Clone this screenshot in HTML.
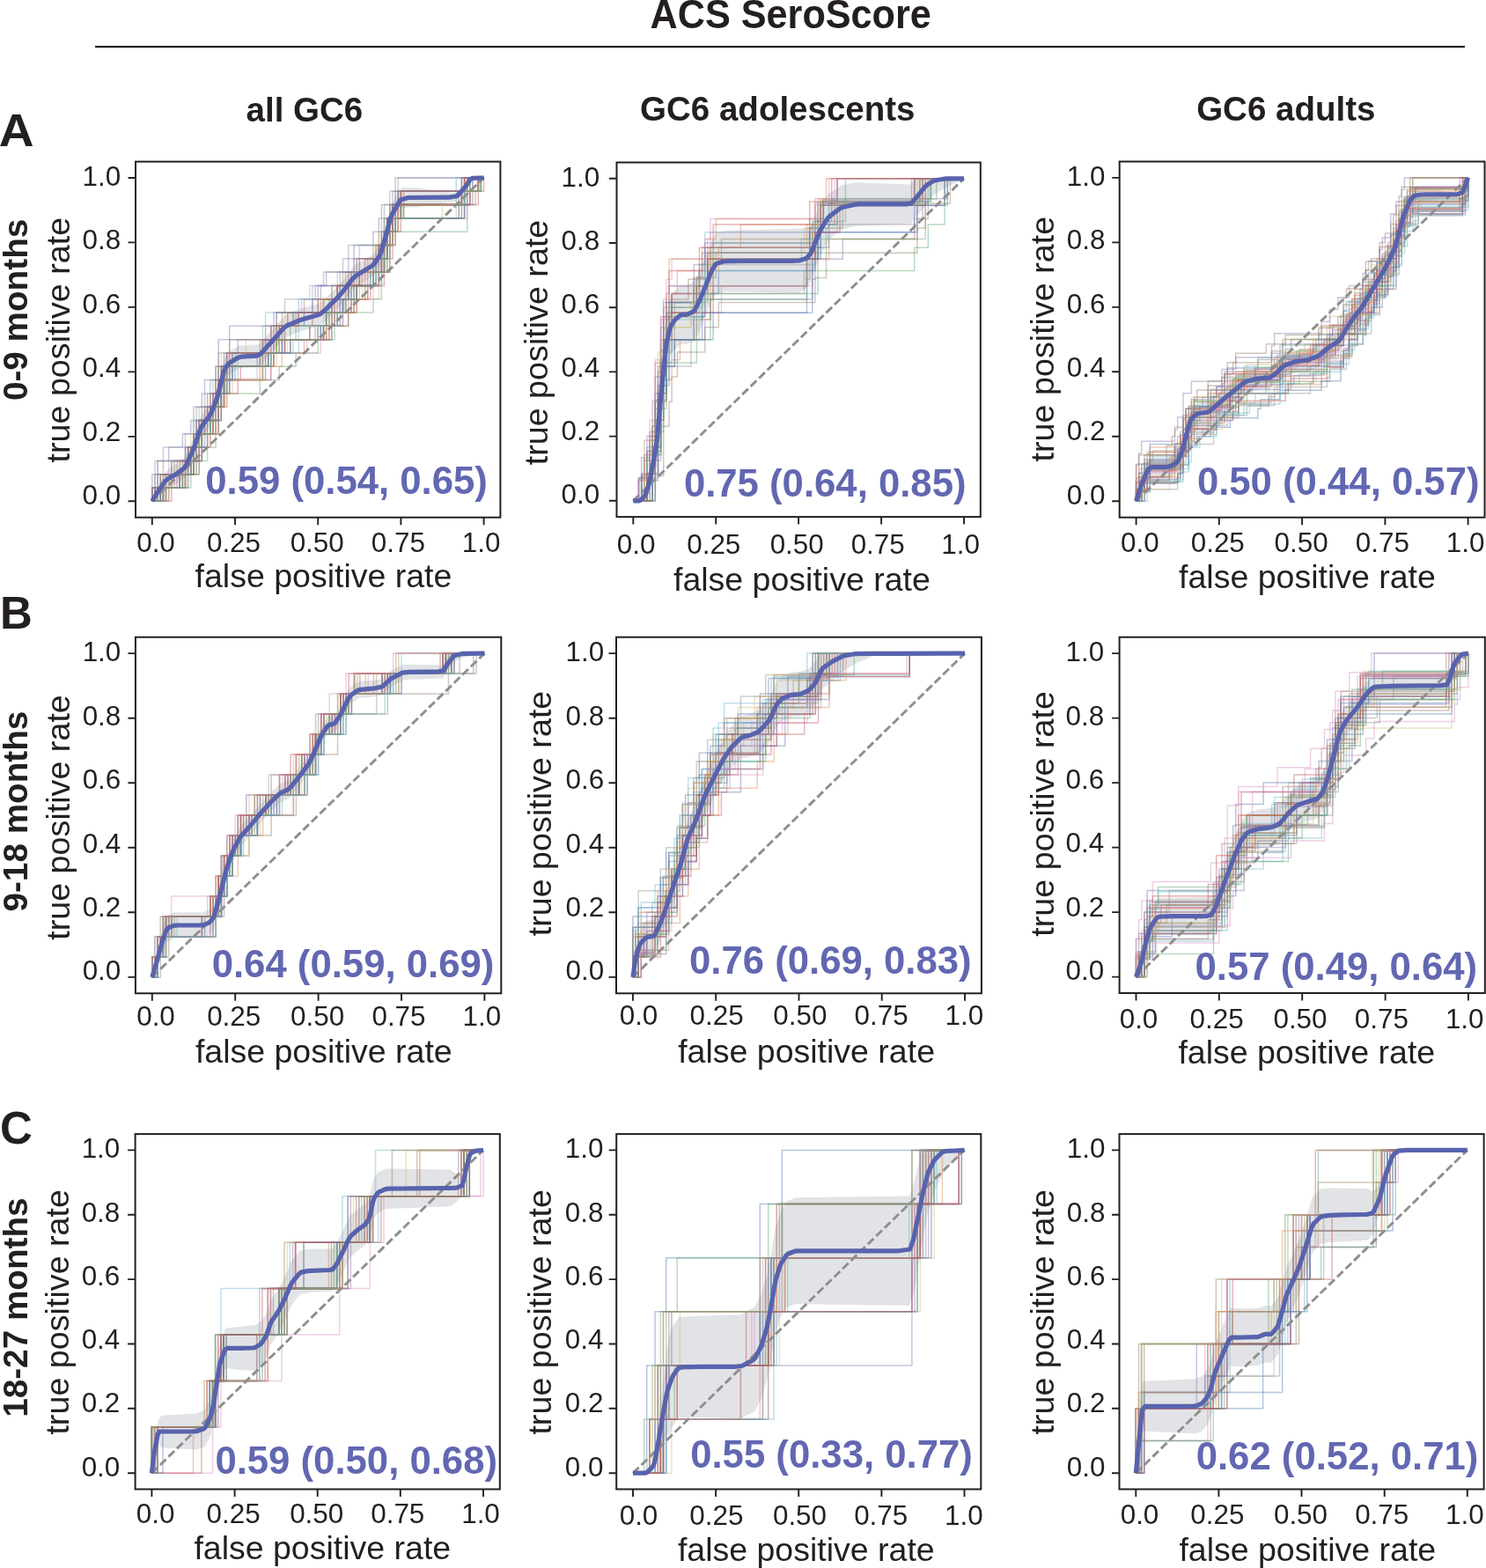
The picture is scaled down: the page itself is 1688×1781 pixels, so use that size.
<!DOCTYPE html><html><head><meta charset="utf-8"><style>html,body{margin:0;padding:0;background:#fff;}svg{display:block;}text{font-family:"Liberation Sans",Arial,sans-serif;fill:#231f20;}</style></head><body>
<svg width="1688" height="1781" viewBox="0 0 1688 1781">
<rect width="1688" height="1781" fill="#fff"/>
<text transform="translate(738.6 32) scale(1 1.055)" font-size="43.2" font-weight="bold">ACS SeroScore</text>
<line x1="108" y1="53.1" x2="1664" y2="53.1" stroke="#231f20" stroke-width="2.1"/>
<text x="345.9" y="137.8" font-size="38.5" font-weight="bold" text-anchor="middle">all GC6</text>
<text x="883.3" y="137.2" font-size="38.5" font-weight="bold" text-anchor="middle">GC6 adolescents</text>
<text x="1460.8" y="136.9" font-size="38.5" font-weight="bold" text-anchor="middle">GC6 adults</text>
<text transform="translate(-1.2 165.7) scale(1.08 1.02)" font-size="51" font-weight="bold">A</text>
<text x="0" y="713.8" font-size="51" font-weight="bold">B</text>
<text x="0" y="1298.8" font-size="51" font-weight="bold">C</text>
<text transform="translate(30.8 351.9) rotate(-90)" font-size="38.7" font-weight="bold" text-anchor="middle">0-9 months</text>
<text transform="translate(30.8 921.6) rotate(-90)" font-size="38.7" font-weight="bold" text-anchor="middle">9-18 months</text>
<text transform="translate(30.8 1485.1) rotate(-90)" font-size="38.7" font-weight="bold" text-anchor="middle">18-27 months</text>
<clipPath id="c0"><rect x="154" y="183.6" width="414.4" height="404.1"/></clipPath>
<g clip-path="url(#c0)">
<polygon fill="#e2e3e6" points="172.8,565.6 173.8,563.6 174.7,561.7 175.7,559.8 176.6,557.8 177.5,555.9 178.5,553.9 178.6,553.7 179.4,552.2 180.4,550.5 181.3,548.7 182.3,547 183.2,545.3 184.1,543.5 185.1,541.8 186,540.1 187,538.3 187.9,536.6 188.4,535.7 188.8,535.2 189.8,534.3 190.7,533.4 191.7,532.4 192.6,531.8 193.6,531.2 194.5,530.6 195.4,530 196.4,529.5 197.3,528.9 198.3,528.3 199.2,527.7 200.1,527.1 200.7,526.7 201.1,526.4 202,525.7 203,524.9 203.9,524.2 204.9,523.5 205.8,522.7 206.7,522 207.7,521.3 208.6,520.5 209.6,519.8 210.5,519 210.5,519 211.5,517 212.4,514.8 213.3,512.7 214.3,510.5 215.2,508.4 216.2,506.2 217.1,504.1 218,501.9 219,499.8 219.9,497.6 220.4,496.6 220.9,495.1 221.8,492.2 222.8,489.4 223.7,486.5 224.6,483.7 225.6,480.8 226.5,478 227.5,475.1 227.8,474.2 228.4,473.3 229.3,471.9 230.3,470.6 231.2,469.2 232.2,467.9 233.1,466.5 234.1,465.2 235,463.8 235.9,462.5 236.9,461.1 237.8,459.8 238.8,458.4 239.7,457.1 240,456.6 240.6,455 241.6,452.4 242.5,449.9 243.5,447.4 244.4,444.8 245.4,442.3 246.3,439.7 247.2,437.2 247.4,436.7 248.2,433.6 249.1,429.9 250.1,426.1 251,422.3 251.9,418.6 252.9,414.8 253.8,411 254.8,407.3 254.8,407.2 255.7,405.8 256.7,404.4 257.6,403 258.5,401.5 259.5,400.1 259.7,399.8 260.4,399.4 261.4,398.8 262.3,398.2 263.3,397.7 264.2,397.1 265.1,396.5 266.1,396 267,395.4 268,394.8 268.9,394.3 269.8,393.7 270.8,393.1 271.7,392.6 272,392.4 272.7,392.4 273.6,392.3 274.6,392.3 275.5,392.2 276.4,392.2 277.4,392.1 278.3,392.1 279.3,392 280.2,392 281.1,391.9 282.1,391.9 283,391.8 284,391.7 284.9,391.7 285.9,391.6 286.8,391.6 287.7,391.5 288.7,391.5 289.6,391.4 290.6,391.4 291.5,391.3 292.4,391.3 293.4,391.2 294.1,391.2 294.3,391 295.3,389.9 296.2,388.9 297.2,387.9 298.1,386.8 299,385.8 300,384.8 300.9,383.7 301.9,382.7 302.8,381.6 303.7,380.6 304.7,379.6 305.6,378.5 306.4,377.7 306.6,377.5 307.5,376.4 308.5,375.3 309.4,374.3 310.3,373.2 311.3,372.1 312.2,371 313.2,370 314.1,368.9 315.1,367.8 316,366.7 316.9,365.7 317.9,364.6 318.8,363.5 319.8,362.4 320.7,361.3 321.6,360.3 322.6,359.2 323.5,358.1 323.6,358 324.5,357.6 325.4,357.2 326.4,356.8 327.3,356.4 328.2,356 329.2,355.6 330.1,355.2 331.1,354.8 332,354.4 332.9,354 333.9,353.6 334.8,353.2 335.8,352.8 336.7,352.4 337.7,352 338.6,351.6 339.5,351.2 340.5,350.8 340.8,350.6 341.4,350.5 342.4,350.2 343.3,349.9 344.2,349.7 345.2,349.4 346.1,349.1 347.1,348.9 348,348.6 349,348.4 349.9,348.1 350.8,347.8 351.8,347.6 352.7,347.3 353.7,347.1 354.6,346.8 355.5,346.5 356.5,346.3 357.4,346 358.4,345.7 359.3,345.5 360.3,345.2 361.2,345 362.1,344.7 363,344.5 363.1,344.4 364,343.6 365,342.8 365.9,342 366.9,341.2 367.8,340.5 368.7,339.7 369.7,338.9 370.4,338.3 370.6,338.1 371.6,337.1 372.5,336.2 373.4,335.2 374.4,334.3 375.3,333.3 376.3,332.4 377.2,331.5 378.2,330.5 379.1,329.6 380,328.6 381,327.7 381.9,326.8 382.9,325.8 383.8,324.9 384.7,323.9 385.1,323.6 385.7,322.8 386.6,321.6 387.6,320.4 388.5,319.2 389.5,318 390.4,316.8 391.3,315.6 392.3,314.3 393.2,313.1 394.2,311.9 395.1,310.7 396,309.5 397,308.3 397.9,307.1 398.9,305.9 399.8,304.7 400.8,303.5 401.7,302.3 402.3,301.5 402.6,301.3 403.6,300.8 404.5,300.2 405.5,299.7 406.4,299.1 407.3,298.6 408.3,298 409.2,297.5 410.2,296.9 411.1,296.4 412.1,295.8 413,295.3 413.9,294.7 414.9,294.2 415.8,293.6 416.8,293 417.7,292.5 418.7,291.9 419.6,291.4 420.5,290.8 421.5,290.3 422.4,289.7 423.4,289.2 424.3,288.6 424.4,288.5 425.2,287.4 426.2,286 427.1,284.6 428.1,283.2 429,281.8 430,280.4 430.9,279 431.8,277.7 431.8,277.6 432.8,274.5 433.7,271.4 434.7,268.2 435.6,265.1 436.5,262 437.5,258.9 438.4,255.8 439.2,253.3 439.4,252.5 440.3,248.8 441.3,245 442.2,241.3 443.1,237.6 444.1,233.8 444.1,233.7 445,232.2 446,230.6 446.9,229 447.8,227.4 448.8,225.9 449.7,224.3 450.7,222.7 451.6,221.1 452.6,219.5 453.5,218 454.4,216.4 455.4,214.8 456.3,213.2 456.4,213.1 457.3,213.1 458.2,213.1 459.1,213.2 460.1,213.2 461,213.2 462,213.2 462.9,213.2 463.9,213.2 464.8,213.2 465.7,213.3 466.7,213.3 467.6,213.3 468.6,213.3 469.5,213.3 470.5,213.3 471.4,213.4 472.3,213.4 473.3,213.4 474.2,213.4 475.2,213.5 476.1,213.7 477,213.8 478,213.9 478.9,214.1 479.9,214.2 480.8,214.3 481.8,214.4 482.7,214.6 483.6,214.7 484.6,214.8 485.5,215 486.5,215.1 487.4,215.2 488.3,215.4 489.3,215.5 490.2,215.6 491.2,215.7 492.1,215.9 493.1,216 494,216.1 494.9,216.3 495.9,216.4 496.8,216.5 497.8,216.7 498.7,216.8 499.6,216.9 500.6,217 501.5,217.2 502.5,217.3 503.4,217.4 504.4,217.6 505.3,217.7 506.2,217.8 507.2,218 508.1,218.1 509.1,218.2 510,218.4 510.9,218.5 511.9,218.6 512.8,218.7 513.8,218.9 514.7,219 515.7,219.1 516.6,219.3 517.5,219.4 517.9,219.4 518.5,218.9 519.4,218 520.4,217.1 521.3,216.2 522.3,215.4 523.2,214.5 524.1,213.6 525.1,212.7 526,211.9 527,211 527.7,210.3 527.9,210 528.8,208.8 529.8,207.5 530.7,206.2 531.7,204.9 532.6,203.7 533.6,202.4 534.5,202 535.1,202 535.4,202 536.4,202 537.3,202 538.3,202 539.2,202 540.1,202 541.1,202 542,202 543,202 543.9,202 544.9,202 545.8,202 546.7,202 547.7,202 548.6,202 549.6,202 549.6,202 548.6,202.1 547.7,202.3 546.7,202.5 545.8,202.6 544.9,202.8 543.9,203 543,203.1 542,203.3 541.1,203.5 540.1,203.7 539.2,203.8 538.3,204 537.3,204.2 536.4,204.3 535.4,204.5 535.1,204.6 534.5,205.5 533.6,207.1 532.6,208.6 531.7,210.2 530.7,211.7 529.8,213.3 528.8,214.8 527.9,216.4 527.7,216.7 527,217.6 526,218.8 525.1,219.9 524.1,221.1 523.2,222.2 522.3,223.4 521.3,224.5 520.4,225.7 519.4,226.8 518.5,228 517.9,228.7 517.5,228.8 516.6,228.9 515.7,229.1 514.7,229.2 513.8,229.3 512.8,229.5 511.9,229.6 510.9,229.8 510,229.9 509.1,230.1 508.1,230.2 507.2,230.4 506.2,230.5 505.3,230.6 504.4,230.8 503.4,230.9 502.5,231.1 501.5,231.2 500.6,231.4 499.6,231.5 498.7,231.7 497.8,231.8 496.8,232 495.9,232.1 494.9,232.2 494,232.4 493.1,232.5 492.1,232.7 491.2,232.8 490.2,233 489.3,233.1 488.3,233.3 487.4,233.4 486.5,233.6 485.5,233.7 484.6,233.8 483.6,234 482.7,234.1 481.8,234.3 480.8,234.4 479.9,234.6 478.9,234.7 478,234.9 477,235 476.1,235.2 475.2,235.3 474.2,235.4 473.3,235.5 472.3,235.5 471.4,235.5 470.5,235.6 469.5,235.6 468.6,235.6 467.6,235.7 466.7,235.7 465.7,235.7 464.8,235.7 463.9,235.8 462.9,235.8 462,235.8 461,235.9 460.1,235.9 459.1,235.9 458.2,236 457.3,236 456.4,236 456.3,236.2 455.4,237.8 454.4,239.4 453.5,241 452.6,242.6 451.6,244.3 450.7,245.9 449.7,247.5 448.8,249.1 447.8,250.8 446.9,252.4 446,254 445,255.6 444.1,257.2 444.1,257.3 443.1,261.1 442.2,264.9 441.3,268.7 440.3,272.5 439.4,276.3 439.2,277 438.4,279.6 437.5,282.7 436.5,285.9 435.6,289 434.7,292.2 433.7,295.4 432.8,298.5 431.8,301.7 431.8,301.8 430.9,303.2 430,304.6 429,306 428.1,307.5 427.1,308.9 426.2,310.4 425.2,311.8 424.4,313 424.3,313.1 423.4,313.7 422.4,314.3 421.5,314.9 420.5,315.5 419.6,316.1 418.7,316.7 417.7,317.3 416.8,317.9 415.8,318.5 414.9,319.1 413.9,319.7 413,320.3 412.1,320.9 411.1,321.5 410.2,322.1 409.2,322.7 408.3,323.3 407.3,323.9 406.4,324.5 405.5,325.1 404.5,325.7 403.6,326.3 402.6,326.9 402.3,327.1 401.7,327.9 400.8,329.1 399.8,330.3 398.9,331.6 397.9,332.8 397,334 396,335.2 395.1,336.4 394.2,337.6 393.2,338.8 392.3,340.1 391.3,341.3 390.4,342.5 389.5,343.7 388.5,344.9 387.6,346.1 386.6,347.3 385.7,348.5 385.1,349.3 384.7,349.6 383.8,350.6 382.9,351.5 381.9,352.5 381,353.4 380,354.4 379.1,355.3 378.2,356.2 377.2,357.2 376.3,358.1 375.3,359.1 374.4,360 373.4,360.9 372.5,361.9 371.6,362.8 370.6,363.8 370.4,364 369.7,364.6 368.7,365.4 367.8,366.2 366.9,367 365.9,367.7 365,368.5 364,369.3 363.1,370.1 363,370.2 362.1,370.4 361.2,370.7 360.3,370.9 359.3,371.2 358.4,371.5 357.4,371.7 356.5,372 355.5,372.2 354.6,372.5 353.7,372.8 352.7,373 351.8,373.3 350.8,373.6 349.9,373.8 349,374.1 348,374.3 347.1,374.6 346.1,374.9 345.2,375.1 344.2,375.4 343.3,375.6 342.4,375.9 341.4,376.2 340.8,376.3 340.5,376.5 339.5,376.9 338.6,377.3 337.7,377.7 336.7,378.1 335.8,378.5 334.8,378.9 333.9,379.3 332.9,379.7 332,380.1 331.1,380.5 330.1,380.9 329.2,381.3 328.2,381.7 327.3,382.1 326.4,382.5 325.4,382.9 324.5,383.4 323.6,383.7 323.5,383.8 322.6,384.9 321.6,386 320.7,387.1 319.8,388.1 318.8,389.2 317.9,390.3 316.9,391.4 316,392.4 315.1,393.5 314.1,394.6 313.2,395.7 312.2,396.7 311.3,397.8 310.3,398.9 309.4,400 308.5,401.1 307.5,402.1 306.6,403.2 306.4,403.4 305.6,404.3 304.7,405.3 303.7,406.3 302.8,407.4 301.9,408.4 300.9,409.4 300,410.5 299,411.5 298.1,412.5 297.2,413.6 296.2,414.6 295.3,415.6 294.3,416.7 294.1,416.9 293.4,416.9 292.4,417 291.5,417 290.6,417.1 289.6,417.1 288.7,417.2 287.7,417.3 286.8,417.3 285.9,417.4 284.9,417.4 284,417.5 283,417.5 282.1,417.6 281.1,417.6 280.2,417.7 279.3,417.7 278.3,417.8 277.4,417.8 276.4,417.9 275.5,417.9 274.6,418 273.6,418 272.7,418.1 272,418.1 271.7,418.3 270.8,418.9 269.8,419.4 268.9,420 268,420.6 267,421.1 266.1,421.7 265.1,422.3 264.2,422.8 263.3,423.4 262.3,423.9 261.4,424.5 260.4,425.1 259.7,425.5 259.5,425.9 258.5,427.3 257.6,428.7 256.7,430.1 255.7,431.5 254.8,432.9 254.8,433 253.8,436.7 252.9,440.5 251.9,444.3 251,448 250.1,451.8 249.1,455.6 248.2,459.3 247.4,462.4 247.2,462.8 246.3,465.3 245.4,467.8 244.4,470.3 243.5,472.8 242.5,475.2 241.6,477.7 240.6,480.2 240,481.8 239.7,482.3 238.8,483.5 237.8,484.8 236.9,486.1 235.9,487.4 235,488.7 234.1,490 233.1,491.3 232.2,492.6 231.2,493.8 230.3,495.1 229.3,496.4 228.4,497.7 227.8,498.6 227.5,499.5 226.5,502.3 225.6,505.1 224.6,507.9 223.7,510.6 222.8,513.4 221.8,516.2 220.9,519 220.4,520.5 219.9,521.5 219,523.6 218,525.7 217.1,527.8 216.2,529.8 215.2,531.9 214.3,534 213.3,536.1 212.4,538.2 211.5,540.3 210.5,542.3 210.5,542.3 209.6,543 208.6,543.7 207.7,544.3 206.7,545 205.8,545.7 204.9,546.4 203.9,547 203,547.7 202,548.4 201.1,549.1 200.7,549.3 200.1,549.7 199.2,550.2 198.3,550.7 197.3,551.3 196.4,551.8 195.4,552.3 194.5,552.9 193.6,553.4 192.6,553.9 191.7,554.5 190.7,554.7 189.8,554.9 188.8,555.1 188.4,555.2 187.9,555.7 187,556.7 186,557.7 185.1,558.7 184.1,559.7 183.2,560.7 182.3,561.7 181.3,562.7 180.4,563.7 179.4,564.7 178.6,565.6 178.5,565.7 177.5,566.9 176.6,568.1 175.7,569.3 174.7,569.3 173.8,569.3 172.8,569.3"/>
<path d="M172.8 569.3H188.5V554H210.5V538.7H216.8V523.4H223.1V508.1H229.3V492.8H241.9V477.5H245V462.2H251.3V446.9H260.7V431.6H298.4V416.3H311V401H320.4V385.7H367.5V370.3H389.5V355H398.9V339.7H402V324.4H408.3V309.1H436.5V293.8H442.8V278.5V263.2H446V247.9H521.3V232.6H530.7V217.3H543.3V202H549.6" fill="none" stroke="#4c72b0" stroke-width="1.5" stroke-opacity="0.42"/>
<path d="M172.8 569.3H176V554H191.7V538.7H210.5V523.4H216.8V508.1H223.1V492.8H235.6V477.5V462.2H248.2V446.9V431.6H254.5V416.3H260.7V401H314.1V385.7V370.3H326.7V355H364.3V339.7H383.2V324.4H408.3V309.1V293.8H430.3V278.5H442.8V263.2V247.9H449.1V232.6H455.4V217.3H527.6V202H549.6" fill="none" stroke="#dd8452" stroke-width="1.5" stroke-opacity="0.42"/>
<path d="M172.8 569.3H182.3V554H188.5V538.7H213.6V523.4H219.9V508.1H223.1V492.8H229.3V477.5H241.9V462.2H248.2V446.9H251.3V431.6H254.5V416.3H267V401H314.1V385.7H364.3V370.3H370.6V355H373.8V339.7H383.2V324.4H420.8V309.1H427.1V293.8H433.4V278.5H439.7V263.2H446V247.9H452.2V232.6H524.4V217.3H543.3V202H549.6" fill="none" stroke="#55a868" stroke-width="1.5" stroke-opacity="0.42"/>
<path d="M172.8 569.3H191.7V554H210.5V538.7H226.2V523.4H229.3V508.1H238.8V492.8H248.2V477.5H251.3V462.2H257.6V446.9V431.6H307.8V416.3H311V401V385.7H367.5V370.3H383.2V355H402V339.7H420.8V324.4H436.5V309.1H442.8V293.8H446V278.5H449.1V263.2H455.4V247.9H527.6V232.6H537V217.3H549.6V202H549.6" fill="none" stroke="#c44e52" stroke-width="1.5" stroke-opacity="0.42"/>
<path d="M172.8 569.3V554H182.3V538.7H198V523.4H210.5V508.1H226.2V492.8H229.3V477.5H238.8V462.2V446.9H248.2V431.6V416.3H257.6V401H301.6V385.7H314.1V370.3H332.9V355H376.9V339.7H386.3V324.4H398.9V309.1H424V293.8H430.3V278.5H436.5V263.2H439.7V247.9H446V232.6H452.2V217.3H527.6V202H549.6" fill="none" stroke="#8172b3" stroke-width="1.5" stroke-opacity="0.42"/>
<path d="M172.8 569.3H176V554H179.1V538.7H194.8V523.4H213.6V508.1H226.2V492.8H229.3V477.5H241.9V462.2H245V446.9H251.3V431.6H254.5V416.3H257.6V401H260.7V385.7H301.6V370.3H326.7V355H345.5V339.7H383.2V324.4H398.9V309.1H408.3V293.8H427.1V278.5H433.4V263.2H442.8V247.9H446V232.6H455.4V217.3H527.6V202H549.6" fill="none" stroke="#937860" stroke-width="1.5" stroke-opacity="0.42"/>
<path d="M172.8 569.3H176V554H185.4V538.7H191.7V523.4H213.6V508.1H219.9V492.8H226.2V477.5H235.6V462.2V446.9H251.3V431.6H254.5V416.3V401H301.6V385.7H311V370.3H339.2V355H342.4V339.7H351.8V324.4H395.7V309.1H402V293.8H430.3V278.5H439.7V263.2V247.9H449.1V232.6H452.2V217.3H524.4V202H549.6" fill="none" stroke="#da8bc3" stroke-width="1.5" stroke-opacity="0.42"/>
<path d="M172.8 569.3H182.3V554H204.2V538.7H216.8V523.4H223.1V508.1H229.3V492.8H232.5V477.5H238.8V462.2H251.3V446.9H254.5V431.6H257.6V416.3H270.2V401H301.6V385.7H336.1V370.3H339.2V355H380V339.7H398.9V324.4H417.7V309.1H427.1V293.8H436.5V278.5H439.7V263.2H442.8V247.9H455.4V232.6H530.7V217.3H533.9V202H549.6" fill="none" stroke="#8c8c8c" stroke-width="1.5" stroke-opacity="0.42"/>
<path d="M172.8 569.3H182.3V554H204.2V538.7H216.8V523.4H223.1V508.1H229.3V492.8H238.8V477.5H248.2V462.2H251.3V446.9H254.5V431.6H295.3V416.3H314.1V401V385.7H373.8V370.3H386.3V355H405.2V339.7H430.3V324.4V309.1H439.7V293.8V278.5H442.8V263.2V247.9H458.5V232.6H527.6V217.3H543.3V202H549.6" fill="none" stroke="#ccb974" stroke-width="1.5" stroke-opacity="0.42"/>
<path d="M172.8 569.3H182.3V554H188.5V538.7H213.6V523.4H216.8V508.1H226.2V492.8V477.5H241.9V462.2H248.2V446.9V431.6H254.5V416.3H295.3V401H298.4V385.7H323.5V370.3H345.5V355H386.3V339.7H398.9V324.4H408.3V309.1H427.1V293.8H433.4V278.5H436.5V263.2H439.7V247.9H449.1V232.6H521.3V217.3H530.7V202H549.6" fill="none" stroke="#64b5cd" stroke-width="1.5" stroke-opacity="0.42"/>
<path d="M172.8 569.3H179.1V554H204.2V538.7H216.8V523.4V508.1H226.2V492.8H241.9V477.5V462.2H251.3V446.9H254.5V431.6H257.6V416.3H298.4V401H317.2V385.7H370.6V370.3V355H392.6V339.7H398.9V324.4H424V309.1H436.5V293.8H439.7V278.5V263.2H449.1V247.9H455.4V232.6H527.6V217.3H543.3V202H549.6" fill="none" stroke="#4c72b0" stroke-width="1.5" stroke-opacity="0.42"/>
<path d="M172.8 569.3H185.4V554H191.7V538.7H219.9V523.4H226.2V508.1H229.3V492.8H238.8V477.5H248.2V462.2H251.3V446.9H257.6V431.6H301.6V416.3H311V401H329.8V385.7H376.9V370.3V355H395.7V339.7H414.6V324.4H417.7V309.1H433.4V293.8H439.7V278.5H442.8V263.2H446V247.9H455.4V232.6H524.4V217.3H543.3V202H549.6" fill="none" stroke="#dd8452" stroke-width="1.5" stroke-opacity="0.42"/>
<path d="M172.8 569.3H182.3V554H204.2V538.7H223.1V523.4V508.1H229.3V492.8H238.8V477.5H248.2V462.2H251.3V446.9H257.6V431.6H260.7V416.3H311V401H323.5V385.7H367.5V370.3H370.6V355H389.5V339.7H405.2V324.4H430.3V309.1H433.4V293.8H439.7V278.5H442.8V263.2H452.2V247.9H458.5V232.6H527.6V217.3H546.4V202H549.6" fill="none" stroke="#55a868" stroke-width="1.5" stroke-opacity="0.42"/>
<path d="M172.8 569.3H185.4V554H198V538.7H219.9V523.4H223.1V508.1H226.2V492.8H232.5V477.5V462.2H248.2V446.9H254.5V431.6H257.6V416.3H260.7V401H307.8V385.7H323.5V370.3H354.9V355H383.2V339.7H392.6V324.4H402V309.1H430.3V293.8H436.5V278.5H439.7V263.2H446V247.9H452.2V232.6H458.5V217.3H533.9V202H549.6" fill="none" stroke="#c44e52" stroke-width="1.5" stroke-opacity="0.42"/>
<path d="M172.8 569.3H179.1V554H201.1V538.7H210.5V523.4H223.1V508.1H226.2V492.8H232.5V477.5H238.8V462.2H248.2V446.9H254.5V431.6H263.9V416.3H304.7V401H320.4V385.7H358.1V370.3H386.3V355V339.7H395.7V324.4H433.4V309.1V293.8H436.5V278.5H439.7V263.2H442.8V247.9H449.1V232.6H524.4V217.3H543.3V202H549.6" fill="none" stroke="#8172b3" stroke-width="1.5" stroke-opacity="0.42"/>
<path d="M172.8 569.3V554H179.1V538.7H204.2V523.4H213.6V508.1H219.9V492.8H223.1V477.5H229.3V462.2H241.9V446.9H248.2V431.6H251.3V416.3H295.3V401H298.4V385.7H311V370.3H332.9V355H361.2V339.7H383.2V324.4H392.6V309.1H424V293.8H427.1V278.5H436.5V263.2H439.7V247.9H446V232.6H455.4V217.3H527.6V202H549.6" fill="none" stroke="#937860" stroke-width="1.5" stroke-opacity="0.42"/>
<path d="M172.8 569.3H194.8V554H210.5V538.7H216.8V523.4H219.9V508.1H235.6V492.8V477.5H241.9V462.2H248.2V446.9H254.5V431.6H260.7V416.3H307.8V401H348.6V385.7H373.8V370.3H389.5V355V339.7H395.7V324.4H414.6V309.1H433.4V293.8V278.5H439.7V263.2H446V247.9H452.2V232.6H527.6V217.3H543.3V202H549.6" fill="none" stroke="#da8bc3" stroke-width="1.5" stroke-opacity="0.42"/>
<path d="M172.8 569.3V554H176V538.7V523.4H185.4V508.1H210.5V492.8H219.9V477.5H223.1V462.2H232.5V446.9H238.8V431.6H245V416.3H248.2V401H260.7V385.7H307.8V370.3H314.1V355H323.5V339.7H358.1V324.4H367.5V309.1H389.5V293.8H395.7V278.5H430.3V263.2H433.4V247.9H436.5V232.6H442.8V217.3H452.2V202H549.6" fill="none" stroke="#8c8c8c" stroke-width="1.5" stroke-opacity="0.42"/>
<path d="M172.8 569.3H176V554H185.4V538.7H198V523.4H213.6V508.1H216.8V492.8H223.1V477.5H229.3V462.2H238.8V446.9H245V431.6H248.2V416.3H251.3V401H279.6V385.7H301.6V370.3H323.5V355H367.5V339.7H376.9V324.4H392.6V309.1H420.8V293.8H427.1V278.5H430.3V263.2H436.5V247.9H442.8V232.6H455.4V217.3H524.4V202H549.6" fill="none" stroke="#ccb974" stroke-width="1.5" stroke-opacity="0.42"/>
<path d="M172.8 569.3H188.5V554H207.4V538.7H216.8V523.4H219.9V508.1H226.2V492.8H241.9V477.5H248.2V462.2H254.5V446.9V431.6H301.6V416.3H311V401H332.9V385.7H364.3V370.3H376.9V355H392.6V339.7H395.7V324.4H430.3V309.1V293.8H439.7V278.5H446V263.2V247.9H455.4V232.6H530.7V217.3H543.3V202H549.6" fill="none" stroke="#64b5cd" stroke-width="1.5" stroke-opacity="0.42"/>
<path d="M172.8 569.3H179.1V554H204.2V538.7H213.6V523.4H219.9V508.1H223.1V492.8H238.8V477.5V462.2H251.3V446.9V431.6H267V416.3H301.6V401H311V385.7H364.3V370.3H376.9V355H389.5V339.7H395.7V324.4H427.1V309.1H430.3V293.8H436.5V278.5V263.2H449.1V247.9H452.2V232.6H524.4V217.3H537V202H549.6" fill="none" stroke="#4c72b0" stroke-width="1.5" stroke-opacity="0.42"/>
<path d="M172.8 569.3H185.4V554H204.2V538.7H219.9V523.4V508.1H229.3V492.8V477.5H248.2V462.2H251.3V446.9V431.6H257.6V416.3H311V401H317.2V385.7V370.3H373.8V355H380V339.7H392.6V324.4H430.3V309.1H433.4V293.8H439.7V278.5H442.8V263.2H446V247.9H455.4V232.6H524.4V217.3H527.6V202H549.6" fill="none" stroke="#dd8452" stroke-width="1.5" stroke-opacity="0.42"/>
<path d="M172.8 569.3H188.5V554H216.8V538.7H226.2V523.4H235.6V508.1H245V492.8H248.2V477.5H251.3V462.2H254.5V446.9H295.3V431.6H317.2V416.3H336.1V401H361.2V385.7H380V370.3H395.7V355H424V339.7H433.4V324.4V309.1H442.8V293.8V278.5H449.1V263.2H530.7V247.9V232.6H540.1V217.3H543.3V202H549.6" fill="none" stroke="#55a868" stroke-width="1.5" stroke-opacity="0.42"/>
<path d="M172.8 569.3H185.4V554H213.6V538.7H216.8V523.4H229.3V508.1V492.8H241.9V477.5H251.3V462.2V446.9H270.2V431.6H298.4V416.3H311V401H323.5V385.7H367.5V370.3H395.7V355H402V339.7H417.7V324.4H424V309.1H439.7V293.8V278.5H442.8V263.2H452.2V247.9H524.4V232.6H543.3V217.3V202H549.6" fill="none" stroke="#c44e52" stroke-width="1.5" stroke-opacity="0.42"/>
<path d="M172.8 569.3H176V554H194.8V538.7H210.5V523.4H219.9V508.1V492.8H223.1V477.5H238.8V462.2H241.9V446.9H248.2V431.6H251.3V416.3H292.1V401H304.7V385.7H320.4V370.3H345.5V355H386.3V339.7V324.4H402V309.1H427.1V293.8H430.3V278.5H436.5V263.2H439.7V247.9H446V232.6H524.4V217.3H530.7V202H549.6" fill="none" stroke="#8172b3" stroke-width="1.5" stroke-opacity="0.42"/>
<path d="M172.8 569.3H176V554H182.3V538.7H185.4V523.4H213.6V508.1H219.9V492.8H229.3V477.5H238.8V462.2H241.9V446.9H245V431.6H251.3V416.3H295.3V401H301.6V385.7H314.1V370.3H336.1V355H376.9V339.7H395.7V324.4V309.1H417.7V293.8H430.3V278.5H436.5V263.2V247.9H446V232.6H452.2V217.3H524.4V202H549.6" fill="none" stroke="#937860" stroke-width="1.5" stroke-opacity="0.42"/>
<path d="M172.8 569.3H188.5V554H201.1V538.7H216.8V523.4H223.1V508.1H235.6V492.8H241.9V477.5H248.2V462.2V446.9H260.7V431.6H307.8V416.3H311V401H364.3V385.7H370.6V370.3H383.2V355H395.7V339.7H424V324.4V309.1H430.3V293.8H439.7V278.5H442.8V263.2H452.2V247.9H530.7V232.6V217.3H543.3V202H549.6" fill="none" stroke="#da8bc3" stroke-width="1.5" stroke-opacity="0.42"/>
<path d="M172.8 569.3H185.4V554H188.5V538.7H223.1V523.4H226.2V508.1H235.6V492.8H248.2V477.5V462.2H254.5V446.9H257.6V431.6H263.9V416.3H304.7V401H329.8V385.7H361.2V370.3H380V355H392.6V339.7H417.7V324.4H430.3V309.1H436.5V293.8H442.8V278.5H446V263.2V247.9H527.6V232.6H533.9V217.3H537V202H549.6" fill="none" stroke="#8c8c8c" stroke-width="1.5" stroke-opacity="0.42"/>
<path d="M172.8 569.3H185.4V554H207.4V538.7H216.8V523.4H229.3V508.1V492.8H245V477.5H248.2V462.2H257.6V446.9V431.6H298.4V416.3V401H326.7V385.7H370.6V370.3H383.2V355H402V339.7H411.4V324.4H424V309.1H439.7V293.8H442.8V278.5H446V263.2H449.1V247.9H452.2V232.6H533.9V217.3H546.4V202H549.6" fill="none" stroke="#ccb974" stroke-width="1.5" stroke-opacity="0.42"/>
<path d="M172.8 569.3V554H179.1V538.7V523.4H210.5V508.1H219.9V492.8V477.5H226.2V462.2H235.6V446.9H241.9V431.6H248.2V416.3H254.5V401H298.4V385.7V370.3H301.6V355H339.2V339.7H354.9V324.4H383.2V309.1H405.2V293.8H408.3V278.5H433.4V263.2H436.5V247.9H442.8V232.6H449.1V217.3H518.2V202H549.6" fill="none" stroke="#64b5cd" stroke-width="1.5" stroke-opacity="0.42"/>
<path d="M172.8 569.3H185.4V554H207.4V538.7H216.8V523.4H223.1V508.1H226.2V492.8H235.6V477.5V462.2H251.3V446.9H254.5V431.6H260.7V416.3H307.8V401H320.4V385.7H351.8V370.3H370.6V355H376.9V339.7H395.7V324.4H420.8V309.1H424V293.8H436.5V278.5H442.8V263.2H446V247.9H455.4V232.6H524.4V217.3H543.3V202H549.6" fill="none" stroke="#4c72b0" stroke-width="1.5" stroke-opacity="0.42"/>
<path d="M172.8 569.3H191.7V554H207.4V538.7H219.9V523.4H226.2V508.1H238.8V492.8H245V477.5H248.2V462.2H254.5V446.9H257.6V431.6V416.3H320.4V401H345.5V385.7H373.8V370.3H376.9V355H398.9V339.7H414.6V324.4H430.3V309.1H436.5V293.8H442.8V278.5H446V263.2H452.2V247.9H455.4V232.6H527.6V217.3H543.3V202H549.6" fill="none" stroke="#dd8452" stroke-width="1.5" stroke-opacity="0.42"/>
<path d="M172.8 569.3H185.4V554H207.4V538.7H213.6V523.4H219.9V508.1H226.2V492.8H238.8V477.5H245V462.2H248.2V446.9V431.6H257.6V416.3H301.6V401H317.2V385.7H329.8V370.3H383.2V355H389.5V339.7H405.2V324.4H424V309.1H433.4V293.8V278.5H439.7V263.2H446V247.9H455.4V232.6H518.2V217.3H533.9V202H549.6" fill="none" stroke="#55a868" stroke-width="1.5" stroke-opacity="0.42"/>
<path d="M172.8 569.3H182.3V554H210.5V538.7H216.8V523.4H229.3V508.1V492.8H245V477.5V462.2H254.5V446.9V431.6H273.3V416.3H304.7V401H323.5V385.7H351.8V370.3H373.8V355H405.2V339.7V324.4H408.3V309.1H436.5V293.8V278.5H446V263.2V247.9H458.5V232.6H533.9V217.3H546.4V202H549.6" fill="none" stroke="#c44e52" stroke-width="1.5" stroke-opacity="0.42"/>
<path d="M172.8 569.3V554V538.7H179.1V523.4H191.7V508.1H207.4V492.8H216.8V477.5H219.9V462.2H229.3V446.9H232.5V431.6H245V416.3H248.2V401V385.7H260.7V370.3H314.1V355H354.9V339.7H364.3V324.4H370.6V309.1H395.7V293.8H402V278.5H424V263.2H430.3V247.9H433.4V232.6H446V217.3H449.1V202H549.6" fill="none" stroke="#8172b3" stroke-width="1.5" stroke-opacity="0.42"/>
<path d="M172.8 569.3H176V554H182.3V538.7H201.1V523.4H216.8V508.1H219.9V492.8H226.2V477.5H235.6V462.2H245V446.9H248.2V431.6V416.3H263.9V401H295.3V385.7H307.8V370.3H320.4V355H361.2V339.7H376.9V324.4H386.3V309.1H402V293.8H424V278.5H436.5V263.2H439.7V247.9H446V232.6H449.1V217.3H530.7V202H549.6" fill="none" stroke="#937860" stroke-width="1.5" stroke-opacity="0.42"/>
<path d="M172.8 569.3H194.8V554H204.2V538.7H210.5V523.4H219.9V508.1H223.1V492.8H232.5V477.5H245V462.2V446.9H251.3V431.6H292.1V416.3H298.4V401H323.5V385.7H361.2V370.3H367.5V355H386.3V339.7H398.9V324.4H430.3V309.1H433.4V293.8V278.5H439.7V263.2H449.1V247.9H518.2V232.6H527.6V217.3H530.7V202H549.6" fill="none" stroke="#da8bc3" stroke-width="1.5" stroke-opacity="0.42"/>
<path d="M172.8 569.3H185.4V554H194.8V538.7H213.6V523.4H216.8V508.1H226.2V492.8H232.5V477.5H245V462.2H248.2V446.9H254.5V431.6H270.2V416.3H298.4V401H307.8V385.7H317.2V370.3H373.8V355H389.5V339.7H405.2V324.4V309.1H433.4V293.8H436.5V278.5H439.7V263.2H442.8V247.9H449.1V232.6H521.3V217.3H543.3V202H549.6" fill="none" stroke="#8c8c8c" stroke-width="1.5" stroke-opacity="0.42"/>
<path d="M172.8 569.3H179.1V554H210.5V538.7H213.6V523.4H223.1V508.1H226.2V492.8H241.9V477.5H245V462.2H251.3V446.9H263.9V431.6H295.3V416.3H311V401H317.2V385.7H320.4V370.3H373.8V355H392.6V339.7H398.9V324.4H402V309.1H430.3V293.8H436.5V278.5H439.7V263.2H442.8V247.9H502.5V232.6H527.6V217.3H543.3V202H549.6" fill="none" stroke="#ccb974" stroke-width="1.5" stroke-opacity="0.42"/>
<path d="M172.8 569.3H185.4V554H213.6V538.7H216.8V523.4H229.3V508.1H235.6V492.8H238.8V477.5H251.3V462.2V446.9H257.6V431.6H263.9V416.3H307.8V401H339.2V385.7V370.3H383.2V355H398.9V339.7H408.3V324.4H427.1V309.1H436.5V293.8H442.8V278.5V263.2H449.1V247.9H524.4V232.6H527.6V217.3H546.4V202H549.6" fill="none" stroke="#64b5cd" stroke-width="1.5" stroke-opacity="0.42"/>
<path d="M172.8 569.3H182.3V554H204.2V538.7H219.9V523.4H226.2V508.1H232.5V492.8H241.9V477.5H248.2V462.2H251.3V446.9H260.7V431.6H263.9V416.3H304.7V401H329.8V385.7H376.9V370.3H380V355H389.5V339.7H405.2V324.4H424V309.1H433.4V293.8H439.7V278.5V263.2H449.1V247.9H527.6V232.6H533.9V217.3H543.3V202H549.6" fill="none" stroke="#4c72b0" stroke-width="1.5" stroke-opacity="0.42"/>
<path d="M172.8 569.3H185.4V554H204.2V538.7H213.6V523.4H219.9V508.1H229.3V492.8H241.9V477.5V462.2H248.2V446.9H251.3V431.6H260.7V416.3H301.6V401H314.1V385.7H370.6V370.3H380V355H398.9V339.7H402V324.4H414.6V309.1H433.4V293.8V278.5H442.8V263.2H446V247.9H452.2V232.6H524.4V217.3H543.3V202H549.6" fill="none" stroke="#dd8452" stroke-width="1.5" stroke-opacity="0.42"/>
<path d="M172.8 569.3H188.5V554H210.5V538.7H219.9V523.4V508.1H229.3V492.8H238.8V477.5H241.9V462.2H248.2V446.9H254.5V431.6V416.3H307.8V401H314.1V385.7H361.2V370.3H370.6V355H392.6V339.7H402V324.4H427.1V309.1H436.5V293.8H439.7V278.5H442.8V263.2H449.1V247.9H521.3V232.6H527.6V217.3H546.4V202H549.6" fill="none" stroke="#55a868" stroke-width="1.5" stroke-opacity="0.42"/>
<path d="M172.8 569.3V554H185.4V538.7H207.4V523.4H213.6V508.1H223.1V492.8H226.2V477.5H238.8V462.2V446.9H245V431.6H251.3V416.3H257.6V401H298.4V385.7H317.2V370.3H339.2V355H367.5V339.7H383.2V324.4H411.4V309.1H414.6V293.8H430.3V278.5H433.4V263.2H439.7V247.9H442.8V232.6H455.4V217.3H527.6V202H549.6" fill="none" stroke="#c44e52" stroke-width="1.5" stroke-opacity="0.42"/>
<path d="M172.8 569.3H176V554V538.7H194.8V523.4H210.5V508.1H223.1V492.8V477.5H232.5V462.2H241.9V446.9H248.2V431.6H254.5V416.3H263.9V401H270.2V385.7H307.8V370.3H311V355H354.9V339.7H361.2V324.4H389.5V309.1H405.2V293.8H433.4V278.5H436.5V263.2H439.7V247.9H446V232.6H452.2V217.3H524.4V202H549.6" fill="none" stroke="#8172b3" stroke-width="1.5" stroke-opacity="0.42"/>
<line x1="172.8" y1="569.3" x2="549.6" y2="202" stroke="#8e8e8e" stroke-width="2.9" stroke-dasharray="9.3 4"/>
<path d="M172.8 569.3 173.5 568.1 177.9 560.8 179.8 558 187.2 547.1 189.9 544.5 199.2 538.9 201.9 537.1 209.4 531.5 211.7 528 219.2 511.2 221.3 505.9 226.9 489.1 229.2 484.3 238.6 471.3 240.9 466.8 246.5 451.9 248.3 446 253.9 423.6 255.4 419.1 259.1 413.5 261.2 411.8 270.5 406.2 274.7 405.1 291.5 404.2 295.6 402.4 305 392.1 308.5 388.2 321.6 373.2 325.7 370 338.8 364.4 343.5 362.7 360.3 358.1 363.9 356.6 369.5 351.9 372.1 349.4 383.3 338.2 387.2 333.8 400.2 317 405 312.7 421.8 302.4 425.3 299.5 430.9 291 432.7 286.8 438.3 268.1 439.8 262.8 443.5 247.8 445.6 243 454.9 227.1 463.8 224.5 510.5 224.1 519 222.8 526.5 214.8 528.6 212.2 534.2 203.8 536.8 202.4 547.8 202 549.6 202" fill="none" stroke="#5863ad" stroke-width="5.2" stroke-linejoin="round" stroke-linecap="butt"/>
</g>
<text x="233.3" y="561" font-size="43.7" font-weight="bold" style="fill:#6267b2">0.59 (0.54, 0.65)</text>
<rect x="154" y="183.6" width="414.4" height="404.1" fill="none" stroke="#231f20" stroke-width="2.0"/>
<path d="M172.8 587.7V596.2M267 587.7V596.2M361.2 587.7V596.2M455.4 587.7V596.2M549.6 587.7V596.2M154 569.3H145.5M154 495.9H145.5M154 422.4H145.5M154 348.9H145.5M154 275.4H145.5M154 202H145.5" stroke="#231f20" stroke-width="1.9" fill="none"/>
<text x="177" y="627.1" font-size="31.4" text-anchor="middle">0.0</text>
<text x="265.5" y="627.1" font-size="31.4" text-anchor="middle">0.25</text>
<text x="360.2" y="627.1" font-size="31.4" text-anchor="middle">0.50</text>
<text x="452.4" y="627.1" font-size="31.4" text-anchor="middle">0.75</text>
<text x="546.6" y="627.1" font-size="31.4" text-anchor="middle">1.0</text>
<text x="137.2" y="572.8" font-size="31.4" text-anchor="end">0.0</text>
<text x="137.2" y="500.5" font-size="31.4" text-anchor="end">0.2</text>
<text x="137.2" y="428.1" font-size="31.4" text-anchor="end">0.4</text>
<text x="137.2" y="355.7" font-size="31.4" text-anchor="end">0.6</text>
<text x="137.2" y="283.3" font-size="31.4" text-anchor="end">0.8</text>
<text x="137.2" y="211" font-size="31.4" text-anchor="end">1.0</text>
<text x="367.5" y="667.4" font-size="37.5" text-anchor="middle">false positive rate</text>
<text transform="translate(78.6 386.2) rotate(-90)" font-size="37.7" text-anchor="middle">true positive rate</text>
<clipPath id="c1"><rect x="700.5" y="184.5" width="413.3" height="402.6"/></clipPath>
<g clip-path="url(#c1)">
<polygon fill="#e2e3e6" points="719.3,568.8 720.2,568.3 721.2,567.8 722.1,567.4 723,566.9 724,566.5 724.9,566 725.9,565.6 726.8,565.1 727,565 727.7,563.9 728.7,562.5 729.6,561.2 730.6,559.8 731.5,558.4 732.4,557 733.2,555.8 733.4,555.1 734.3,551.4 735.3,546.5 736.2,541.6 737.1,536.7 738.1,531.8 738.1,531.6 739,525.6 740,519.3 740.9,513 741.8,506.7 742.8,500.4 743,498.7 743.7,492.9 744.6,485.1 745.6,477.2 746.5,469.3 746.7,467.8 747.5,457.5 748.4,444.6 749.2,434.1 749.3,432.1 750.3,422.6 751.2,413.2 752.2,403.8 752.9,396.8 753.1,394.4 754,385 755,375.6 755.9,366.1 756.5,359.9 756.9,358.5 757.8,354.2 758.7,350 759.7,345.7 760.6,341.5 761.5,337.6 761.6,337.5 762.5,336.1 763.4,334.6 764.4,333.2 765.3,331.8 766.3,330.3 766.4,330.1 767.2,329.4 768.1,328.6 769.1,327.8 770,327 770.9,326.2 771.9,325.4 772.8,324.6 773.8,323.8 773.8,323.8 774.7,323.8 775.6,323.8 776.6,323.8 777.5,323.7 778.5,323.7 779.4,323.7 779.9,323.7 780.3,323.5 781.3,323.1 782.2,322.6 783.2,322.2 784.1,321.8 785,321.4 786,320.9 786.9,320.5 787.9,320.1 788.5,319.8 788.8,319.2 789.7,317.3 790.7,315.4 791.6,313.5 792.6,311.6 793.5,309.7 794.4,307.8 794.7,307.4 795.4,305.6 796.3,303.3 797.2,301.1 798.2,298.8 799.1,296.5 800.1,294.2 800.8,292.5 801,291.9 801.9,289.6 802.9,287.2 803.8,284.8 804.8,282.5 805.7,280.1 806.6,277.7 807.6,275.3 808.2,273.9 808.5,273.2 809.5,271.6 810.4,269.9 811.3,268.2 812.3,266.6 813.1,265.1 813.2,265.1 814.2,264.8 815.1,264.5 816,264.2 817,263.9 817.9,263.6 818.9,263.3 819.8,263 820.7,262.7 821.7,262.4 822.6,262.1 822.9,262 823.6,261.9 824.5,261.9 825.4,261.9 826.4,261.8 827.3,261.8 828.2,261.8 829.2,261.7 830.1,261.7 831.1,261.7 832,261.7 832.9,261.6 833.9,261.6 834.8,261.6 835.8,261.5 836.7,261.5 837.6,261.5 838.6,261.4 839.5,261.4 840.5,261.4 841.4,261.3 842.3,261.3 843.3,261.3 844.2,261.2 845.2,261.2 846.1,261.2 847,261.2 847.5,261.1 848,261.1 848.9,261.1 849.9,261.1 850.8,261.1 851.7,261 852.7,261 853.6,261 854.5,261 855.5,261 856.4,260.9 857.4,260.9 858.3,260.9 859.2,260.9 860.2,260.8 861.1,260.8 862.1,260.8 863,260.8 863.9,260.8 864.9,260.7 865.8,260.7 866.8,260.7 867.7,260.7 868.6,260.6 869.6,260.6 870.5,260.6 871.5,260.6 872.4,260.6 873.3,260.5 874.3,260.5 875.2,260.5 876.2,260.5 877.1,260.5 878,260.4 879,260.4 879.9,260.4 880.8,260.4 881.8,260.3 882.7,260.3 883.7,260.3 884.6,260.3 885.5,260.3 886.5,260.2 887.4,260.2 888.4,260.2 889.3,260.2 890.2,260.1 891.2,260.1 892.1,260.1 893.1,260.1 894,260.1 894.9,260 895.9,260 896.8,260 897.8,260 898.7,260 899.6,259.9 900.6,259.9 901.5,259.9 902.5,259.9 903.4,259.8 904.3,259.8 905.3,259.8 906.2,259.8 906.5,259.8 907.1,259.6 908.1,259.6 909,259.6 910,259.5 910.9,259.5 911.8,259.5 912.8,259.5 913.7,259.5 914.7,259.5 915.6,259.5 916.4,259.5 916.5,259.3 917.5,258.4 918.4,257.5 919.4,256.6 920.3,255.7 921.2,254.8 921.3,254.8 922.2,252.8 923.1,250.7 924.1,248.6 925,246.6 925.9,244.5 926.2,243.9 926.9,242.5 927.8,240.5 928.8,238.5 929.7,236.5 930.6,234.6 931.6,232.6 932.3,231 932.5,230.7 933.5,229.5 934.4,228.3 935.3,227.1 936.3,225.9 937.2,224.7 938.1,223.5 939.1,222.3 940,221.1 940.9,220 941,220 941.9,219.5 942.8,219.1 943.8,218.7 944.7,218.2 945.7,217.6 946.6,216.9 947.5,216.2 948.5,215.5 949.4,214.9 950.4,214.2 951.3,213.5 952.2,212.9 953.2,212.2 954.1,211.5 955.1,210.8 955.7,210.4 956,210.3 956.9,210.2 957.9,210 958.8,209.8 959.8,209.7 960.7,209.5 961.6,209.3 962.6,209.2 963.5,209 964.4,208.8 965.4,208.6 966.3,208.5 967.3,208.3 968.2,208.1 969.1,208 970.1,207.8 971,207.6 972,207.5 972.9,207.3 972.9,207.3 973.8,207.3 974.8,207.4 975.7,207.4 976.7,207.4 977.6,207.5 978.5,207.5 979.5,207.5 980.4,207.6 981.4,207.6 982.3,207.6 983.2,207.7 984.2,207.7 985.1,207.7 986.1,207.8 987,207.8 987.9,207.8 988.9,207.9 989.8,207.9 990.7,207.9 991.7,208 992.6,208 993.6,208 994.5,208.1 995,208.1 995.4,208.1 996.4,208.1 997.3,208.2 998.3,208.2 999.2,208.2 1000.1,208.2 1001.1,208.3 1002,208.3 1003,208.3 1003.9,208.4 1004.8,208.4 1005.8,208.4 1006.7,208.5 1007.7,208.5 1008.6,208.5 1009.5,208.6 1010.5,208.6 1011.4,208.6 1012.4,208.7 1013.3,208.7 1014.2,208.7 1015.2,208.8 1016.1,208.8 1017.1,208.8 1018,208.9 1018.9,208.9 1019.9,208.9 1020.8,209 1021.7,209 1022.7,209 1023.6,209.1 1024.6,209.1 1025.5,209.1 1026.4,209.2 1027.4,209.2 1028.3,209.2 1029.3,209.3 1030.2,209.3 1031.1,209.3 1032.1,209.4 1033,209.4 1034,209.4 1034.4,209.4 1034.9,208.8 1035.8,207.8 1036.8,206.7 1037.7,205.6 1038.7,204.6 1039.6,203.5 1040.5,202.8 1041.5,202.8 1041.7,202.8 1042.4,202.8 1043.4,202.8 1044.3,202.8 1045.2,202.8 1046.2,202.8 1047.1,202.8 1048,202.8 1049,202.8 1049.9,202.8 1050.9,202.8 1051.6,202.8 1051.8,202.8 1052.7,202.8 1053.7,202.8 1054.6,202.8 1055.6,202.8 1056.5,202.8 1057.4,202.8 1058.4,202.8 1059.3,202.8 1060.3,202.8 1061.2,202.8 1061.4,202.8 1062.1,202.8 1063.1,202.8 1064,202.8 1065,202.8 1065.9,202.8 1066.8,202.8 1067.8,202.8 1068.7,202.8 1069.7,202.8 1070.6,202.8 1071.5,202.8 1072.5,202.8 1073.4,202.8 1073.7,202.8 1074.3,202.8 1075.3,202.8 1076.2,202.8 1077.2,202.8 1078.1,202.8 1079,202.8 1080,202.8 1080.9,202.8 1081.9,202.8 1082.8,202.8 1083.7,202.8 1084.7,202.8 1085.6,202.8 1086.6,202.8 1087.5,202.8 1088.4,202.8 1089.4,202.8 1090.3,202.8 1091.3,202.8 1092.2,202.8 1093.1,202.8 1094.1,202.8 1095,202.8 1095,202.8 1094.1,203.3 1093.1,203.7 1092.2,204.2 1091.3,204.7 1090.3,205.1 1089.4,205.6 1088.4,206 1087.5,206.5 1086.6,207 1085.6,207.4 1084.7,207.9 1083.7,208.4 1082.8,208.8 1081.9,209.3 1080.9,209.7 1080,210.2 1079,210.7 1078.1,211.1 1077.2,211.6 1076.2,212.1 1075.3,212.5 1074.3,213 1073.7,213.3 1073.4,213.5 1072.5,214.1 1071.5,214.7 1070.6,215.3 1069.7,215.9 1068.7,216.5 1067.8,217.1 1066.8,217.8 1065.9,218.4 1065,219 1064,219.6 1063.1,220.2 1062.1,220.8 1061.4,221.3 1061.2,221.5 1060.3,222.5 1059.3,223.6 1058.4,224.6 1057.4,225.7 1056.5,226.7 1055.6,227.8 1054.6,228.8 1053.7,229.9 1052.7,230.9 1051.8,231.9 1051.6,232.2 1050.9,233.4 1049.9,235.1 1049,236.3 1048,237.5 1047.1,238.7 1046.2,239.9 1045.2,241.1 1044.3,242.3 1043.4,243.5 1042.4,244.7 1041.7,245.6 1041.5,245.9 1040.5,247 1039.6,248.2 1038.7,249.3 1037.7,250.4 1036.8,251.5 1035.8,252.7 1034.9,253.8 1034.4,254.4 1034,254.5 1033,254.5 1032.1,254.5 1031.1,254.6 1030.2,254.6 1029.3,254.6 1028.3,254.7 1027.4,254.7 1026.4,254.7 1025.5,254.8 1024.6,254.8 1023.6,254.8 1022.7,254.8 1021.7,254.9 1020.8,254.9 1019.9,254.9 1018.9,255 1018,255 1017.1,255 1016.1,255.1 1015.2,255.1 1014.2,255.1 1013.3,255.2 1012.4,255.2 1011.4,255.2 1010.5,255.3 1009.5,255.3 1008.6,255.3 1007.7,255.4 1006.7,255.4 1005.8,255.4 1004.8,255.5 1003.9,255.5 1003,255.5 1002,255.6 1001.1,255.6 1000.1,255.6 999.2,255.7 998.3,255.7 997.3,255.7 996.4,255.8 995.4,255.8 995,255.8 994.5,255.8 993.6,255.9 992.6,255.9 991.7,255.9 990.7,256 989.8,256 988.9,256 987.9,256.1 987,256.1 986.1,256.1 985.1,256.2 984.2,256.2 983.2,256.2 982.3,256.3 981.4,256.3 980.4,256.3 979.5,256.4 978.5,256.4 977.6,256.4 976.7,256.5 975.7,256.5 974.8,256.5 973.8,256.5 972.9,256.6 972.9,256.6 972,256.8 971,257 970.1,257.3 969.1,257.5 968.2,257.7 967.3,258 966.3,258.2 965.4,258.5 964.4,258.7 963.5,258.9 962.6,259.2 961.6,259.4 960.7,259.6 959.8,259.9 958.8,260.1 957.9,260.3 956.9,260.6 956,260.8 955.7,260.9 955.1,261.4 954.1,262.1 953.2,262.8 952.2,263.6 951.3,264.3 950.4,265 949.4,265.8 948.5,266.5 947.5,267.3 946.6,268 945.7,268.7 944.7,269.5 943.8,270.5 942.8,271.4 941.9,272.4 941,273.4 940.9,273.4 940,275.1 939.1,276.9 938.1,278.6 937.2,280.4 936.3,282.1 935.3,283.9 934.4,285.6 933.5,287.4 932.5,289.1 932.3,289.5 931.6,291.5 930.6,294 929.7,296.6 928.8,299.1 927.8,301.6 926.9,304.1 926.2,306 925.9,306.7 925,309.3 924.1,311.9 923.1,314.6 922.2,317.2 921.3,319.7 921.2,319.8 920.3,321.2 919.4,322.7 918.4,324.1 917.5,325.6 916.5,327 916.4,327.3 915.6,327.8 914.7,328.3 913.7,328.9 912.8,329.4 911.8,330 910.9,330.5 910,331.1 909,331.7 908.1,332.2 907.1,332.8 906.5,332.9 906.2,332.9 905.3,332.9 904.3,332.9 903.4,332.9 902.5,332.8 901.5,332.8 900.6,332.8 899.6,332.8 898.7,332.8 897.8,332.7 896.8,332.7 895.9,332.7 894.9,332.7 894,332.6 893.1,332.6 892.1,332.6 891.2,332.6 890.2,332.6 889.3,332.5 888.4,332.5 887.4,332.5 886.5,332.5 885.5,332.5 884.6,332.4 883.7,332.4 882.7,332.4 881.8,332.4 880.8,332.3 879.9,332.3 879,332.3 878,332.3 877.1,332.3 876.2,332.2 875.2,332.2 874.3,332.2 873.3,332.2 872.4,332.1 871.5,332.1 870.5,332.1 869.6,332.1 868.6,332.1 867.7,332 866.8,332 865.8,332 864.9,332 863.9,332 863,331.9 862.1,331.9 861.1,331.9 860.2,331.9 859.2,331.8 858.3,331.8 857.4,331.8 856.4,331.8 855.5,331.8 854.5,331.7 853.6,331.7 852.7,331.7 851.7,331.7 850.8,331.6 849.9,331.6 848.9,331.6 848,331.6 847.5,331.6 847,331.6 846.1,331.6 845.2,331.5 844.2,331.5 843.3,331.5 842.3,331.5 841.4,331.5 840.5,331.5 839.5,331.5 838.6,331.5 837.6,331.4 836.7,331.4 835.8,331.4 834.8,331.4 833.9,331.4 832.9,331.4 832,331.4 831.1,331.4 830.1,331.3 829.2,331.3 828.2,331.3 827.3,331.3 826.4,331.3 825.4,331.3 824.5,331.3 823.6,331.3 822.9,331.2 822.6,331.3 821.7,331.6 820.7,331.9 819.8,332.1 818.9,332.4 817.9,332.6 817,332.9 816,333.2 815.1,333.4 814.2,333.7 813.2,333.9 813.1,334 812.3,335.4 811.3,337 810.4,338.6 809.5,340.2 808.5,341.9 808.2,342.5 807.6,343.9 806.6,346.3 805.7,348.6 804.8,350.9 803.8,353.2 802.9,355.6 801.9,357.9 801,360.2 800.8,360.7 800.1,362.5 799.1,364.7 798.2,366.9 797.2,369.2 796.3,371.4 795.4,373.6 794.7,375.3 794.4,375.8 793.5,377.6 792.6,379.5 791.6,381.3 790.7,383.2 789.7,385.1 788.8,386.9 788.5,387.5 787.9,387.8 786.9,388.1 786,388.5 785,388.9 784.1,389.3 783.2,389.7 782.2,390 781.3,390.4 780.3,390.8 779.9,391 779.4,391 778.5,390.9 777.5,390.9 776.6,390.9 775.6,390.9 774.7,390.9 773.8,390.8 773.8,390.8 772.8,391.6 771.9,392.3 770.9,393.1 770,393.9 769.1,394.6 768.1,395.4 767.2,396.2 766.4,396.8 766.3,397 765.3,398.4 764.4,399.8 763.4,401.2 762.5,402.5 761.6,403.9 761.5,404.1 760.6,407.9 759.7,412.1 758.7,416.3 757.8,420.5 756.9,424.7 756.5,426.1 755.9,432.3 755,441.7 754,451.1 753.1,460.4 752.9,462.9 752.2,469.8 751.2,479.2 750.3,488.6 749.3,497.9 749.2,499.4 748.4,507.3 747.5,516.9 746.7,524.7 746.5,525.6 745.6,530.3 744.6,534.9 743.7,539.6 743,543 742.8,543.8 741.8,546.9 740.9,550 740,553.1 739,556.2 738.1,559.2 738.1,559.2 737.1,560.9 736.2,562.6 735.3,564.3 734.3,566 733.4,568.8 733.2,568.8 732.4,568.8 731.5,568.8 730.6,568.8 729.6,568.8 728.7,568.8 727.7,568.8 727,568.8 726.8,568.8 725.9,568.8 724.9,568.8 724,568.8 723,568.8 722.1,568.8 721.2,568.8 720.2,568.8 719.3,568.8"/>
<path d="M719.3 568.8H741.2V542.7V516.5H747.5V490.4H750.6V464.2H753.7V438.1H760V411.9V385.8H788.2V359.7H800.7V333.5H816.3V307.4H925.9V281.2H941.6V255.1H951V228.9H1057.4V202.8H1095" fill="none" stroke="#4c72b0" stroke-width="1.5" stroke-opacity="0.42"/>
<path d="M719.3 568.8H728.7V542.7H738.1V516.5H744.3V490.4H750.6V464.2V438.1V411.9H753.7V385.8H756.9V359.7H763.1V333.5H769.4V307.4H797.6V281.2H841.4V255.1H932.2V228.9H951V202.8H1095" fill="none" stroke="#dd8452" stroke-width="1.5" stroke-opacity="0.42"/>
<path d="M719.3 568.8H738.1V540.6H741.2V512.5H750.6V484.3H753.7V456.2V428V399.9H763.1V371.7H766.3V343.6H803.8V315.4H813.2V287.3H938.5V259.1H957.2V231H1054.3V202.8H1095" fill="none" stroke="#55a868" stroke-width="1.5" stroke-opacity="0.42"/>
<path d="M719.3 568.8H725.5V542.7H731.8V516.5H738.1V490.4H744.3V464.2V438.1V411.9H750.6V385.8V359.7H756.9V333.5H760V307.4H794.4V281.2H810.1V255.1H919.7V228.9H944.7V202.8H1095" fill="none" stroke="#c44e52" stroke-width="1.5" stroke-opacity="0.42"/>
<path d="M719.3 568.8H744.3V545.9H747.5V523.1H750.6V500.2V477.3H753.7V454.4H756.9V431.6H760V408.7V385.8H800.7V362.9H807V340.1H922.8V317.2H925.9V294.3H957.2V271.4H1038.7V248.6H1048V225.7H1076.2V202.8H1095" fill="none" stroke="#8172b3" stroke-width="1.5" stroke-opacity="0.42"/>
<path d="M719.3 568.8H738.1V540.6H741.2V512.5H750.6V484.3V456.2H756.9V428V399.9V371.7H760V343.6H791.3V315.4H807V287.3H925.9V259.1H935.3V231H1044.9V202.8H1095" fill="none" stroke="#937860" stroke-width="1.5" stroke-opacity="0.42"/>
<path d="M719.3 568.8H738.1V538.3H747.5V507.8V477.3H750.6V446.8H753.7V416.3H756.9V385.8H791.3V355.3H819.5V324.8H922.8V294.3H929.1V263.8H951V233.3H1073.1V202.8H1095" fill="none" stroke="#da8bc3" stroke-width="1.5" stroke-opacity="0.42"/>
<path d="M719.3 568.8H734.9V544.4H741.2V520H744.3V495.6H747.5V471.2H750.6V446.8H753.7V422.4H756.9V398H760V373.6H763.1V349.2H797.6V324.8H810.1V300.4H925.9V276H929.1V251.6H960.4V227.2H1048V202.8H1095" fill="none" stroke="#8c8c8c" stroke-width="1.5" stroke-opacity="0.42"/>
<path d="M719.3 568.8H731.8V540.6H734.9V512.5H741.2V484.3V456.2H747.5V428V399.9H753.7V371.7H785V343.6H791.3V315.4H800.7V287.3H913.4V259.1H929.1V231H1048V202.8H1095" fill="none" stroke="#ccb974" stroke-width="1.5" stroke-opacity="0.42"/>
<path d="M719.3 568.8H734.9V545.9H744.3V523.1H747.5V500.2V477.3V454.4H753.7V431.6V408.7H756.9V385.8H760V362.9H791.3V340.1H800.7V317.2H803.8V294.3H910.3V271.4H929.1V248.6H944.7V225.7H1057.4V202.8H1095" fill="none" stroke="#64b5cd" stroke-width="1.5" stroke-opacity="0.42"/>
<path d="M719.3 568.8H741.2V538.3H744.3V507.8H750.6V477.3H753.7V446.8H756.9V416.3H766.3V385.8H810.1V355.3H916.5V324.8V294.3H932.2V263.8H1038.7V233.3H1076.2V202.8H1095" fill="none" stroke="#4c72b0" stroke-width="1.5" stroke-opacity="0.42"/>
<path d="M719.3 568.8H741.2V545.9H744.3V523.1H747.5V500.2V477.3H753.7V454.4H756.9V431.6H763.1V408.7H772.5V385.8H794.4V362.9H807V340.1H810.1V317.2V294.3H941.6V271.4H1041.8V248.6H1051.2V225.7H1057.4V202.8H1095" fill="none" stroke="#dd8452" stroke-width="1.5" stroke-opacity="0.42"/>
<path d="M719.3 568.8H731.8V545.9H734.9V523.1H738.1V500.2H744.3V477.3V454.4H750.6V431.6V408.7H753.7V385.8H791.3V362.9H797.6V340.1H916.5V317.2H919.7V294.3H929.1V271.4H1051.2V248.6H1054.3V225.7H1063.7V202.8H1095" fill="none" stroke="#55a868" stroke-width="1.5" stroke-opacity="0.42"/>
<path d="M719.3 568.8H734.9V542.7H741.2V516.5H744.3V490.4H747.5V464.2V438.1H750.6V411.9H756.9V385.8V359.7H763.1V333.5H803.8V307.4H807V281.2H922.8V255.1H947.9V228.9H1044.9V202.8H1095" fill="none" stroke="#c44e52" stroke-width="1.5" stroke-opacity="0.42"/>
<path d="M719.3 568.8H728.7V540.6H738.1V512.5H741.2V484.3H744.3V456.2V428H750.6V399.9V371.7H753.7V343.6H788.2V315.4H797.6V287.3H919.7V259.1H925.9V231H951V202.8H1095" fill="none" stroke="#8172b3" stroke-width="1.5" stroke-opacity="0.42"/>
<path d="M719.3 568.8H728.7V538.3H738.1V507.8H741.2V477.3H747.5V446.8V416.3H750.6V385.8H756.9V355.3H788.2V324.8H803.8V294.3H919.7V263.8H932.2V233.3H1038.7V202.8H1095" fill="none" stroke="#937860" stroke-width="1.5" stroke-opacity="0.42"/>
<path d="M719.3 568.8H728.7V538.3H741.2V507.8H747.5V477.3V446.8H750.6V416.3H753.7V385.8H756.9V355.3H760V324.8H807V294.3V263.8H925.9V233.3H941.6V202.8H1095" fill="none" stroke="#da8bc3" stroke-width="1.5" stroke-opacity="0.42"/>
<path d="M719.3 568.8H741.2V542.7H747.5V516.5H750.6V490.4V464.2H753.7V438.1H756.9V411.9H763.1V385.8H766.3V359.7H800.7V333.5H913.4V307.4H929.1V281.2V255.1H1041.8V228.9H1048V202.8H1095" fill="none" stroke="#8c8c8c" stroke-width="1.5" stroke-opacity="0.42"/>
<path d="M719.3 568.8H734.9V542.7V516.5H741.2V490.4H744.3V464.2H750.6V438.1V411.9H753.7V385.8H756.9V359.7H794.4V333.5H807V307.4H810.1V281.2H925.9V255.1H932.2V228.9H1041.8V202.8H1095" fill="none" stroke="#ccb974" stroke-width="1.5" stroke-opacity="0.42"/>
<path d="M719.3 568.8H728.7V538.3H734.9V507.8H747.5V477.3V446.8H753.7V416.3V385.8H756.9V355.3H794.4V324.8H800.7V294.3V263.8H929.1V233.3H1038.7V202.8H1095" fill="none" stroke="#64b5cd" stroke-width="1.5" stroke-opacity="0.42"/>
<path d="M719.3 568.8H728.7V540.6H734.9V512.5H741.2V484.3H744.3V456.2H750.6V428H753.7V399.9H756.9V371.7V343.6H791.3V315.4H803.8V287.3H919.7V259.1H941.6V231H1038.7V202.8H1095" fill="none" stroke="#4c72b0" stroke-width="1.5" stroke-opacity="0.42"/>
<path d="M719.3 568.8H734.9V542.7H741.2V516.5H744.3V490.4H750.6V464.2H753.7V438.1V411.9H756.9V385.8H760V359.7H763.1V333.5H794.4V307.4H816.3V281.2H916.5V255.1H929.1V228.9H1038.7V202.8H1095" fill="none" stroke="#dd8452" stroke-width="1.5" stroke-opacity="0.42"/>
<path d="M719.3 568.8H728.7V544.4H734.9V520H738.1V495.6H747.5V471.2V446.8H750.6V422.4V398H753.7V373.6H760V349.2H788.2V324.8H794.4V300.4H810.1V276H922.8V251.6H932.2V227.2H960.4V202.8H1095" fill="none" stroke="#55a868" stroke-width="1.5" stroke-opacity="0.42"/>
<path d="M719.3 568.8H734.9V538.3H744.3V507.8H747.5V477.3H750.6V446.8V416.3H756.9V385.8H763.1V355.3H810.1V324.8H916.5V294.3H925.9V263.8H932.2V233.3H1051.2V202.8H1095" fill="none" stroke="#c44e52" stroke-width="1.5" stroke-opacity="0.42"/>
<path d="M719.3 568.8H725.5V544.4H728.7V520H734.9V495.6H744.3V471.2V446.8H747.5V422.4H750.6V398H753.7V373.6V349.2H760V324.8H788.2V300.4H800.7V276H925.9V251.6H944.7V227.2H951V202.8H1095" fill="none" stroke="#8172b3" stroke-width="1.5" stroke-opacity="0.42"/>
<path d="M719.3 568.8H725.5V545.9H731.8V523.1H741.2V500.2H747.5V477.3V454.4H750.6V431.6V408.7H753.7V385.8V362.9H763.1V340.1H781.9V317.2H803.8V294.3H819.5V271.4H919.7V248.6H935.3V225.7H1048V202.8H1095" fill="none" stroke="#937860" stroke-width="1.5" stroke-opacity="0.42"/>
<path d="M719.3 568.8H725.5V545.9H731.8V523.1H738.1V500.2V477.3H741.2V454.4H744.3V431.6V408.7H750.6V385.8V362.9H753.7V340.1H756.9V317.2H763.1V294.3H800.7V271.4H807V248.6H929.1V225.7H947.9V202.8H1095" fill="none" stroke="#da8bc3" stroke-width="1.5" stroke-opacity="0.42"/>
<path d="M719.3 568.8H734.9V538.3H741.2V507.8H744.3V477.3H747.5V446.8H753.7V416.3H785V385.8H788.2V355.3H791.3V324.8H916.5V294.3H922.8V263.8H935.3V233.3H1051.2V202.8H1095" fill="none" stroke="#8c8c8c" stroke-width="1.5" stroke-opacity="0.42"/>
<path d="M719.3 568.8H731.8V540.6H741.2V512.5V484.3H747.5V456.2H750.6V428V399.9H760V371.7H785V343.6H791.3V315.4H807V287.3H922.8V259.1H947.9V231H1038.7V202.8H1095" fill="none" stroke="#ccb974" stroke-width="1.5" stroke-opacity="0.42"/>
<path d="M719.3 568.8H741.2V542.7V516.5H747.5V490.4H750.6V464.2H753.7V438.1H756.9V411.9H760V385.8V359.7H797.6V333.5H800.7V307.4H922.8V281.2H932.2V255.1H951V228.9H1057.4V202.8H1095" fill="none" stroke="#64b5cd" stroke-width="1.5" stroke-opacity="0.42"/>
<path d="M719.3 568.8H741.2V538.3H747.5V507.8H750.6V477.3V446.8H756.9V416.3H766.3V385.8H797.6V355.3H922.8V324.8V294.3H929.1V263.8H1041.8V233.3H1073.1V202.8H1095" fill="none" stroke="#4c72b0" stroke-width="1.5" stroke-opacity="0.42"/>
<path d="M719.3 568.8H731.8V545.9V523.1V500.2H744.3V477.3H747.5V454.4H750.6V431.6H753.7V408.7H756.9V385.8V362.9V340.1H760V317.2V294.3H803.8V271.4H813.2V248.6H925.9V225.7H938.5V202.8H1095" fill="none" stroke="#dd8452" stroke-width="1.5" stroke-opacity="0.42"/>
<path d="M719.3 568.8H744.3V542.7V516.5H750.6V490.4H753.7V464.2H756.9V438.1V411.9H791.3V385.8H807V359.7V333.5H929.1V307.4H1038.7V281.2H1054.3V255.1H1073.1V228.9V202.8H1095" fill="none" stroke="#55a868" stroke-width="1.5" stroke-opacity="0.42"/>
<path d="M719.3 568.8H734.9V538.3H741.2V507.8H747.5V477.3V446.8H750.6V416.3H753.7V385.8H760V355.3H791.3V324.8H803.8V294.3H925.9V263.8H954.1V233.3H1035.5V202.8H1095" fill="none" stroke="#c44e52" stroke-width="1.5" stroke-opacity="0.42"/>
<path d="M719.3 568.8H725.5V542.7H738.1V516.5H741.2V490.4H744.3V464.2H747.5V438.1H750.6V411.9H753.7V385.8V359.7H763.1V333.5H794.4V307.4H800.7V281.2H932.2V255.1H935.3V228.9H1038.7V202.8H1095" fill="none" stroke="#8172b3" stroke-width="1.5" stroke-opacity="0.42"/>
<path d="M719.3 568.8H744.3V540.6H753.7V512.5V484.3H760V456.2H763.1V428H769.4V399.9H800.7V371.7H816.3V343.6H925.9V315.4H938.5V287.3H1041.8V259.1H1051.2V231H1079.4V202.8H1095" fill="none" stroke="#937860" stroke-width="1.5" stroke-opacity="0.42"/>
<line x1="719.3" y1="568.8" x2="1095" y2="202.8" stroke="#8e8e8e" stroke-width="2.9" stroke-dasharray="9.3 4"/>
<path d="M719.3 568.8 720.2 568.8 726.1 568.8 727.8 568 732.5 563.4 733.8 560.5 737.5 547.5 738.7 542.5 742.4 523.8 743.5 517.9 746.3 499.2 747 492.7 748.9 470.3 749.6 462.3 752.4 434.3 753.3 425.4 756.1 397.4 757.1 390.3 760.9 373.5 762.1 370 765.8 364.4 767.3 362.7 772.9 358.1 774.5 357.3 779.2 357.3 780.9 356.9 787.5 354.1 789.2 352.2 793.9 342.8 795.4 339.6 800.1 328.4 801.7 324.4 807.3 310.4 808.8 307.1 812.5 300.6 814.3 299.2 821.7 297 825.9 296.6 844.6 296.4 854.6 296.4 899.4 296.4 907.7 296 915.2 293.8 916.9 292.7 920.7 288 921.9 285.8 925.6 276.4 926.9 273.2 931.6 262 933.4 258.6 939.9 248.3 942.7 245.4 953.9 237 957.8 235.2 970.8 232.4 975.6 231.9 992.4 231.9 999.7 231.9 1029.6 231.9 1035.2 230.9 1040.9 224.4 1042.9 221.9 1050.4 212.5 1052.7 210.3 1060.2 205.6 1062.9 204.7 1072.2 203.2 1076.3 202.9 1092.5 202.8 1095 202.8" fill="none" stroke="#5863ad" stroke-width="5.2" stroke-linejoin="round" stroke-linecap="butt"/>
</g>
<text x="776.9" y="563.8" font-size="43.7" font-weight="bold" style="fill:#6267b2">0.75 (0.64, 0.85)</text>
<rect x="700.5" y="184.5" width="413.3" height="402.6" fill="none" stroke="#231f20" stroke-width="2.0"/>
<path d="M719.3 587.1V595.6M813.2 587.1V595.6M907.1 587.1V595.6M1001.1 587.1V595.6M1095 587.1V595.6M700.5 568.8H692M700.5 495.6H692M700.5 422.4H692M700.5 349.2H692M700.5 276H692M700.5 202.8H692" stroke="#231f20" stroke-width="1.9" fill="none"/>
<text x="722.6" y="629.1" font-size="31.4" text-anchor="middle">0.0</text>
<text x="810.8" y="629.1" font-size="31.4" text-anchor="middle">0.25</text>
<text x="905.2" y="629.1" font-size="31.4" text-anchor="middle">0.50</text>
<text x="997.2" y="629.1" font-size="31.4" text-anchor="middle">0.75</text>
<text x="1091.1" y="629.1" font-size="31.4" text-anchor="middle">1.0</text>
<text x="681.2" y="572.3" font-size="31.4" text-anchor="end">0.0</text>
<text x="681.2" y="500.2" font-size="31.4" text-anchor="end">0.2</text>
<text x="681.2" y="428.1" font-size="31.4" text-anchor="end">0.4</text>
<text x="681.2" y="356" font-size="31.4" text-anchor="end">0.6</text>
<text x="681.2" y="283.9" font-size="31.4" text-anchor="end">0.8</text>
<text x="681.2" y="211.8" font-size="31.4" text-anchor="end">1.0</text>
<text x="910.9" y="670.5" font-size="37.5" text-anchor="middle">false positive rate</text>
<text transform="translate(621.8 389) rotate(-90)" font-size="37.7" text-anchor="middle">true positive rate</text>
<clipPath id="c2"><rect x="1271.7" y="183.5" width="414.8" height="404.2"/></clipPath>
<g clip-path="url(#c2)">
<polygon fill="#e2e3e6" points="1290.6,565.7 1291.5,562.3 1292.4,559 1293.4,555.6 1294.3,552.3 1295.3,549 1296.2,545.6 1296.6,544.3 1297.2,542.8 1298.1,540.3 1299,537.7 1300,535.2 1300.9,532.7 1301.9,530.2 1302.8,527.6 1303.8,525.1 1304.7,522.6 1305.2,521.3 1305.6,521.1 1306.6,520.7 1307.5,520.4 1308.5,520 1309.4,519.6 1310.4,519.6 1311.3,519.6 1312.2,519.6 1313.2,519.6 1314.1,519.6 1315.1,519.6 1316,519.6 1317,519.5 1317.9,519.5 1318.8,519.5 1319.8,519.5 1320.7,519.5 1321.7,519.5 1322.6,519.5 1323.5,519.5 1324.5,519.5 1325.4,519.5 1326.1,519.4 1326.4,519.3 1327.3,518.9 1328.3,518.5 1329.2,518 1330.1,517.6 1331.1,517.2 1332,516.7 1333,516.3 1333.9,515.9 1334.9,515.5 1335.8,515 1336.7,514.6 1337.2,514.4 1337.7,513.1 1338.6,510.8 1339.6,508.6 1340.5,506.3 1341.5,504 1342.4,501.7 1343.3,499.6 1343.3,499.4 1344.3,495.6 1345.2,491.8 1346.2,488.1 1347.1,484.3 1348.1,480.5 1348.2,479.9 1349,477.3 1349.9,474.2 1350.9,471.2 1351.8,468.1 1352.8,465 1353.1,463.8 1353.7,463.4 1354.7,462.7 1355.6,461.9 1356.5,461.2 1357.5,460.5 1358.4,459.7 1359.4,459 1360.3,458.3 1360.5,458.1 1361.3,458 1362.2,457.8 1363.1,457.7 1364.1,457.6 1365,457.4 1366,457.3 1366.9,457.1 1367.9,457 1368.8,456.9 1369.7,456.7 1370.7,456.6 1371.6,456.4 1372.6,456.3 1372.8,456.3 1373.5,455.6 1374.5,454.9 1375.4,454.1 1376.3,453.3 1377.3,452.5 1378.2,451.7 1379.2,450.9 1380.1,450.1 1380.2,450 1381.1,449.2 1382,448.4 1382.9,447.6 1383.9,446.7 1384.8,445.9 1385.8,445.1 1386.7,444.2 1387.7,443.4 1388.6,442.6 1389.5,441.7 1390,441.3 1390.5,440.9 1391.4,440.2 1392.4,439.4 1393.3,438.6 1394.3,437.9 1395.2,437.1 1396.1,436.3 1397.1,435.6 1398,434.8 1399,434 1399.9,433.3 1400.9,432.5 1401.8,431.8 1402.3,431.3 1402.7,431 1403.7,430.2 1404.6,429.5 1405.6,428.7 1406.5,427.9 1407.5,427.2 1408.4,426.4 1409.3,425.6 1410.3,424.9 1411.2,424.1 1412.2,423.3 1413.1,422.6 1414.1,421.8 1414.6,421.4 1415,421.3 1415.9,421 1416.9,420.8 1417.8,420.5 1418.8,420.3 1419.7,420 1420.7,419.8 1421.6,419.6 1422.5,419.3 1423.5,419.1 1424.4,418.8 1425.4,418.6 1426.3,418.3 1427.2,418.1 1428.2,417.8 1429.1,417.6 1429.3,417.5 1430.1,417.5 1431,417.4 1432,417.4 1432.9,417.3 1433.8,417.3 1434.8,417.3 1435.7,417.2 1436.7,417.2 1437.6,417.1 1438.6,417.1 1439.5,417 1440.4,417 1441.4,416.9 1441.6,416.9 1442.3,416.4 1443.3,415.8 1444.2,415.2 1445.2,414.5 1446.1,413.9 1447,413.2 1448,412.6 1448.9,412 1449,411.9 1449.9,411.1 1450.8,410.2 1451.8,409.3 1452.7,408.4 1453.6,407.5 1454.6,406.6 1455.5,405.6 1456.5,404.7 1457.4,403.8 1458.4,402.9 1458.8,402.5 1459.3,402.3 1460.2,401.9 1461.2,401.6 1462.1,401.2 1463.1,400.9 1464,400.5 1465,400.2 1465.9,399.8 1466.8,399.5 1467.8,399.1 1468.7,398.8 1469.7,398.4 1470.6,398.1 1471.1,397.9 1471.6,397.8 1472.5,397.7 1473.4,397.6 1474.4,397.5 1475.3,397.4 1476.3,397.2 1477.2,397.1 1478.2,397 1479.1,396.9 1480,396.8 1481,396.7 1481.9,396.6 1482.9,396.5 1483.8,396.4 1484.8,396.3 1485.7,396.2 1485.9,396.2 1486.6,395.9 1487.6,395.6 1488.5,395.2 1489.5,394.8 1490.4,394.5 1491.4,394.1 1492.3,393.7 1493.2,393.4 1494.2,393 1495.1,392.7 1496.1,392.3 1497,391.9 1498,391.6 1498.2,391.5 1498.9,390.9 1499.8,390.1 1500.8,389.3 1501.7,388.4 1502.7,387.6 1503.6,386.8 1504.6,386 1505.5,385.2 1506.4,384.4 1507.4,383.6 1508,383 1508.3,382.9 1509.3,382.3 1510.2,381.7 1511.2,381.1 1512.1,380.5 1513,379.9 1514,379.3 1514.9,378.8 1515.9,378.2 1516.8,377.6 1517.8,377 1518.7,376.4 1519.6,375.8 1520.6,375.3 1521.5,374.7 1521.5,374.7 1522.5,373.1 1523.4,371.5 1524.4,369.9 1525.3,368.3 1526.2,366.7 1527.2,365.1 1528.1,363.5 1529.1,361.9 1530,360.3 1530.1,360 1531,358.9 1531.9,357.5 1532.8,356.1 1533.8,354.7 1534.7,353.3 1535.7,351.9 1536.6,350.5 1537.5,349.1 1537.5,349.1 1538.5,347.9 1539.4,346.7 1540.4,345.6 1541.3,344.4 1542.3,343.3 1543.2,342.1 1544.1,340.9 1545.1,339.8 1546,338.6 1547,337.4 1547.4,337 1547.9,336 1548.9,334.4 1549.8,332.7 1550.7,331.1 1551.7,329.5 1552.6,327.8 1553.6,326.2 1554.5,324.6 1555.5,322.9 1556.4,321.3 1557.2,319.9 1557.3,319.7 1558.3,318.2 1559.2,316.6 1560.2,315.1 1561.1,313.6 1562.1,312.1 1563,310.6 1563.9,309.1 1564.9,307.5 1565.8,306 1566.8,304.5 1567,304.1 1567.7,302.9 1568.7,301.3 1569.6,299.6 1570.5,298 1571.5,296.4 1572.4,294.7 1573.4,293.1 1574.3,291.5 1575.3,289.8 1576.2,288.2 1576.9,287 1577.1,286.4 1578.1,284.4 1579,282.4 1580,280.4 1580.9,278.3 1581.9,276.3 1582.8,274.3 1583.7,272.2 1584.2,271.2 1584.7,269.6 1585.6,266.3 1586.6,263 1587.5,259.8 1588.5,256.5 1589.2,254.1 1589.4,253.1 1590.3,249.3 1591.3,245.6 1592.2,241.8 1593.2,238.2 1594.1,234.7 1594.1,234.6 1595.1,232.5 1596,230.5 1596.9,228.4 1597.9,226.4 1598.8,224.3 1599.8,222.2 1600.7,220.2 1601.4,218.6 1601.7,218.3 1602.6,217.3 1603.5,216.3 1604.5,215.2 1605.4,214.2 1606.4,213.1 1606.4,213.1 1607.3,213.2 1608.3,213.2 1609.2,213.2 1610.1,213.2 1611.1,213.2 1612,213.3 1613,213.3 1613.9,213.3 1614.9,213.3 1615.8,213.3 1616.2,213.4 1616.7,213.4 1617.7,213.6 1618.6,213.7 1619.6,213.9 1620.5,214 1621.5,214.1 1622.4,214.3 1623.3,214.4 1624.3,214.5 1625.2,214.7 1626.2,214.8 1627.1,215 1628.1,215.1 1629,215.2 1629.9,215.4 1630.9,215.5 1631.8,215.6 1632.8,215.8 1633.7,215.9 1634.7,216.1 1635.6,216.2 1636.5,216.3 1637.5,216.5 1638.4,216.6 1639.4,216.7 1640.3,216.9 1641.2,217 1642.2,217.2 1643.1,217.3 1644.1,217.4 1645,217.6 1646,217.7 1646.9,217.8 1647.8,218 1648.8,218.1 1649.7,218.3 1650.7,218.4 1651.6,218.5 1652.6,218.7 1653.5,218.8 1654.4,218.9 1655.4,219.1 1656.3,219.2 1657.3,219.4 1658.2,219.5 1659.2,219.6 1660.1,219.8 1660.4,219.8 1661,218.3 1662,216 1662.9,213.6 1663.9,211.3 1664.8,208.9 1665.8,206.6 1666.7,204.2 1667.6,201.9 1667.6,201.9 1666.7,204.5 1665.8,207.1 1664.8,209.8 1663.9,212.4 1662.9,215 1662,217.6 1661,220.3 1660.4,221.9 1660.1,222 1659.2,222.1 1658.2,222.3 1657.3,222.4 1656.3,222.5 1655.4,222.7 1654.4,222.8 1653.5,222.9 1652.6,223.1 1651.6,223.2 1650.7,223.4 1649.7,223.5 1648.8,223.6 1647.8,223.8 1646.9,223.9 1646,224 1645,224.2 1644.1,224.3 1643.1,224.5 1642.2,224.6 1641.2,224.7 1640.3,224.9 1639.4,225 1638.4,225.1 1637.5,225.3 1636.5,225.4 1635.6,225.6 1634.7,225.7 1633.7,225.8 1632.8,226 1631.8,226.1 1630.9,226.3 1629.9,226.4 1629,226.5 1628.1,226.7 1627.1,226.8 1626.2,226.9 1625.2,227.1 1624.3,227.2 1623.3,227.4 1622.4,227.5 1621.5,227.6 1620.5,227.8 1619.6,227.9 1618.6,228 1617.7,228.2 1616.7,228.3 1616.2,228.4 1615.8,228.5 1614.9,228.8 1613.9,229 1613,229.3 1612,229.5 1611.1,229.8 1610.1,230 1609.2,230.3 1608.3,230.6 1607.3,230.8 1606.4,231.1 1606.4,231.1 1605.4,232.4 1604.5,233.7 1603.5,235 1602.6,236.3 1601.7,237.6 1601.4,237.9 1600.7,239.7 1599.8,242.1 1598.8,244.4 1597.9,246.8 1596.9,249.1 1596,251.4 1595.1,253.8 1594.1,256.1 1594.1,256.2 1593.2,259.9 1592.2,263.8 1591.3,267.6 1590.3,271.4 1589.4,275.2 1589.2,276.2 1588.5,278.6 1587.5,282 1586.6,285.3 1585.6,288.6 1584.7,291.9 1584.2,293.5 1583.7,294.6 1582.8,296.6 1581.9,298.7 1580.9,300.7 1580,302.8 1579,304.9 1578.1,306.9 1577.1,309 1576.9,309.6 1576.2,310.8 1575.3,312.4 1574.3,314.1 1573.4,315.8 1572.4,317.4 1571.5,319.1 1570.5,320.7 1569.6,322.4 1568.7,324.1 1567.7,325.7 1567,327 1566.8,327.4 1565.8,328.9 1564.9,330.5 1563.9,332 1563,333.6 1562.1,335.1 1561.1,336.7 1560.2,338.2 1559.2,339.8 1558.3,341.3 1557.3,342.8 1557.2,343.1 1556.4,344.5 1555.5,346.2 1554.5,347.8 1553.6,349.5 1552.6,351.2 1551.7,352.8 1550.7,354.5 1549.8,356.1 1548.9,357.8 1547.9,359.5 1547.4,360.5 1547,361 1546,362.1 1545.1,363.3 1544.1,364.5 1543.2,365.7 1542.3,366.9 1541.3,368.1 1540.4,369.3 1539.4,370.5 1538.5,371.7 1537.5,372.9 1537.5,372.9 1536.6,374.3 1535.7,375.7 1534.7,377.2 1533.8,378.6 1532.8,380 1531.9,381.5 1531,382.9 1530.1,384.1 1530,384.3 1529.1,386 1528.1,387.6 1527.2,389.2 1526.2,390.9 1525.3,392.5 1524.4,394.1 1523.4,395.8 1522.5,397.4 1521.5,399 1521.5,399 1520.6,399.6 1519.6,400.2 1518.7,400.9 1517.8,401.5 1516.8,402.1 1515.9,402.7 1514.9,403.3 1514,403.9 1513,404.5 1512.1,405.2 1511.2,405.8 1510.2,406.4 1509.3,407 1508.3,407.6 1508,407.8 1507.4,408.4 1506.4,409.2 1505.5,410.1 1504.6,410.9 1503.6,411.8 1502.7,412.6 1501.7,413.4 1500.8,414.3 1499.8,415.1 1498.9,416 1498.2,416.6 1498,416.7 1497,417.1 1496.1,417.5 1495.1,417.9 1494.2,418.3 1493.2,418.6 1492.3,419 1491.4,419.4 1490.4,419.8 1489.5,420.2 1488.5,420.6 1487.6,421 1486.6,421.4 1485.9,421.7 1485.7,421.7 1484.8,421.9 1483.8,422 1482.9,422.1 1481.9,422.2 1481,422.4 1480,422.5 1479.1,422.6 1478.2,422.7 1477.2,422.8 1476.3,422.9 1475.3,423 1474.4,423.1 1473.4,423.2 1472.5,423.3 1471.6,423.4 1471.1,423.5 1470.6,423.6 1469.7,424 1468.7,424.3 1467.8,424.6 1466.8,425 1465.9,425.3 1465,425.6 1464,425.9 1463.1,426.3 1462.1,426.6 1461.2,426.9 1460.2,427.3 1459.3,427.6 1458.8,427.7 1458.4,428.2 1457.4,429.1 1456.5,430 1455.5,430.9 1454.6,431.7 1453.6,432.6 1452.7,433.5 1451.8,434.4 1450.8,435.3 1449.9,436.2 1449,437 1448.9,437 1448,437.7 1447,438.3 1446.1,438.9 1445.2,439.5 1444.2,440.1 1443.3,440.7 1442.3,441.4 1441.6,441.8 1441.4,441.8 1440.4,441.9 1439.5,441.9 1438.6,441.9 1437.6,441.9 1436.7,442 1435.7,442 1434.8,442 1433.8,442 1432.9,442.1 1432,442.1 1431,442.1 1430.1,442.2 1429.3,442.2 1429.1,442.2 1428.2,442.5 1427.2,442.7 1426.3,442.9 1425.4,443.1 1424.4,443.4 1423.5,443.6 1422.5,443.8 1421.6,444 1420.7,444.3 1419.7,444.5 1418.8,444.7 1417.8,444.9 1416.9,445.2 1415.9,445.4 1415,445.6 1414.6,445.7 1414.1,446.1 1413.1,446.9 1412.2,447.6 1411.2,448.4 1410.3,449.1 1409.3,449.9 1408.4,450.6 1407.5,451.3 1406.5,452.1 1405.6,452.8 1404.6,453.6 1403.7,454.3 1402.7,455.1 1402.3,455.4 1401.8,455.8 1400.9,456.5 1399.9,457.3 1399,458 1398,458.8 1397.1,459.5 1396.1,460.3 1395.2,461 1394.3,461.8 1393.3,462.5 1392.4,463.2 1391.4,464 1390.5,464.7 1390,465.1 1389.5,465.5 1388.6,466.3 1387.7,467.1 1386.7,468 1385.8,468.8 1384.8,469.6 1383.9,470.4 1382.9,471.2 1382,472 1381.1,472.8 1380.2,473.6 1380.1,473.7 1379.2,474.4 1378.2,475.2 1377.3,476 1376.3,476.8 1375.4,477.5 1374.5,478.3 1373.5,479.1 1372.8,479.7 1372.6,479.7 1371.6,479.8 1370.7,479.9 1369.7,480.1 1368.8,480.2 1367.9,480.3 1366.9,480.4 1366,480.6 1365,480.7 1364.1,480.8 1363.1,480.9 1362.2,481 1361.3,481.2 1360.5,481.3 1360.3,481.4 1359.4,482.1 1358.4,482.8 1357.5,483.5 1356.5,484.3 1355.6,485 1354.7,485.7 1353.7,486.4 1353.1,486.8 1352.8,488 1351.8,491 1350.9,494.1 1349.9,497.2 1349,500.2 1348.2,502.8 1348.1,503.4 1347.1,507.1 1346.2,510.9 1345.2,514.7 1344.3,518.4 1343.3,522.2 1343.3,522.4 1342.4,524.5 1341.5,526.8 1340.5,529 1339.6,531.3 1338.6,533.5 1337.7,535.8 1337.2,537.1 1336.7,537.2 1335.8,537.6 1334.9,538.1 1333.9,538.5 1333,538.9 1332,539.3 1331.1,539.7 1330.1,540.1 1329.2,540.5 1328.3,540.9 1327.3,541.3 1326.4,541.7 1326.1,541.9 1325.4,541.9 1324.5,541.8 1323.5,541.8 1322.6,541.8 1321.7,541.8 1320.7,541.8 1319.8,541.8 1318.8,541.8 1317.9,541.8 1317,541.8 1316,541.7 1315.1,541.7 1314.1,541.7 1313.2,541.7 1312.2,541.7 1311.3,541.7 1310.4,541.7 1309.4,541.7 1308.5,541.3 1307.5,540.9 1306.6,540.6 1305.6,540.2 1305.2,540 1304.7,541 1303.8,542.8 1302.8,544.5 1301.9,546.3 1300.9,548.1 1300,549.9 1299,551.7 1298.1,553.5 1297.2,555.3 1296.6,556.3 1296.2,557.4 1295.3,560 1294.3,562.6 1293.4,565.2 1292.4,567.8 1291.5,569.3 1290.6,569.3"/>
<path d="M1290.6 569.3V557.5H1293.7V545.6H1300V533.8V521.9H1334.5V510.1H1344V498.2V486.4H1350.3V474.5H1353.4V462.6H1378.5V450.8H1381.7V438.9H1403.7V427.1H1444.5V415.2H1450.8V403.4H1494.8V391.5H1507.4V379.7H1526.2V367.8H1529.4V356H1538.8V344.1H1551.4V332.3H1554.5V320.4H1563.9V308.6H1570.2V296.7H1579.7V284.8H1585.9V273H1589.1V261.1V249.3H1592.2V237.4H1595.4V225.6H1661.4V213.7H1664.5V201.9H1667.6" fill="none" stroke="#4c72b0" stroke-width="1.5" stroke-opacity="0.42"/>
<path d="M1290.6 569.3H1293.7V554H1296.8V538.7H1303.1V523.4H1306.3V508.1H1344V492.8H1347.1V477.5H1350.3V462.2H1372.3V446.8H1400.5V431.5H1444.5V416.2H1457.1V400.9H1491.7V385.6H1523.1V370.3H1532.5V355H1535.7V339.7H1551.4V324.4H1563.9V309V293.7H1573.4V278.4H1589.1V263.1V247.8H1595.4V232.5H1598.5V217.2H1664.5V201.9H1667.6" fill="none" stroke="#dd8452" stroke-width="1.5" stroke-opacity="0.42"/>
<path d="M1290.6 569.3H1293.7V556.2H1300V543.1H1306.3V530H1334.5V516.8H1340.8V503.7H1350.3V490.6V477.5H1356.5V464.3H1366V451.2H1397.4V438.1H1406.8V425H1450.8V411.8H1472.8V398.7H1516.8V385.6H1520V372.5H1535.7V359.4H1538.8V346.2H1554.5V333.1H1567.1V320V306.9H1576.5V293.7H1579.7V280.6H1589.1V267.5H1595.4V254.4V241.2H1598.5V228.1H1607.9V215H1667.6V201.9H1667.6" fill="none" stroke="#55a868" stroke-width="1.5" stroke-opacity="0.42"/>
<path d="M1290.6 569.3H1296.8V556.7H1306.3V544V531.3H1344V518.6H1350.3V506H1353.4V493.3H1378.5V480.6H1391.1V468H1397.4V455.3H1460.2V442.6H1466.5V429.9H1507.4V417.3H1526.2V404.6H1535.7V391.9H1541.9V379.3H1551.4V366.6H1554.5V353.9H1560.8V341.3H1567.1V328.6H1585.9V315.9V303.2H1589.1V290.6H1592.2V277.9H1595.4V265.2V252.6H1601.7V239.9H1664.5V227.2H1667.6V214.5V201.9H1667.6" fill="none" stroke="#c44e52" stroke-width="1.5" stroke-opacity="0.42"/>
<path d="M1290.6 569.3H1296.8V556.2H1303.1V543.1H1306.3V530H1344V516.8H1347.1V503.7H1353.4V490.6H1375.4V477.5H1391.1V464.3H1403.7V451.2H1413.1V438.1H1425.7V425H1466.5V411.8H1523.1V398.7H1532.5V385.6H1538.8V372.5H1541.9V359.4H1545.1V346.2H1563.9V333.1V320H1576.5V306.9H1585.9V293.7V280.6H1589.1V267.5H1595.4V254.4H1598.5V241.2H1611.1V228.1H1667.6V215V201.9H1667.6" fill="none" stroke="#8172b3" stroke-width="1.5" stroke-opacity="0.42"/>
<path d="M1290.6 569.3H1296.8V557.8V546.4H1303.1V534.9H1306.3V523.4H1309.4V511.9H1347.1V500.4V488.9H1350.3V477.5H1353.4V466H1356.5V454.5H1359.7V443H1397.4V431.5H1413.1V420H1428.8V408.6H1476V397.1H1494.8V385.6H1523.1V374.1H1526.2V362.6H1532.5V351.2H1535.7V339.7H1551.4V328.2H1557.7V316.7H1560.8V305.2H1570.2V293.7H1576.5V282.3H1582.8V270.8V259.3H1592.2V247.8H1595.4V236.3H1598.5V224.8H1604.8V213.4H1667.6V201.9H1667.6" fill="none" stroke="#937860" stroke-width="1.5" stroke-opacity="0.42"/>
<path d="M1290.6 569.3H1293.7V556.2H1300V543.1H1340.8V530V516.8H1347.1V503.7V490.6H1353.4V477.5H1375.4V464.3H1394.3V451.2H1397.4V438.1V425H1454V411.8H1507.4V398.7V385.6H1526.2V372.5H1545.1V359.4V346.2H1551.4V333.1H1554.5V320H1570.2V306.9H1576.5V293.7H1585.9V280.6V267.5H1592.2V254.4H1595.4V241.2H1598.5V228.1H1601.7V215H1667.6V201.9H1667.6" fill="none" stroke="#da8bc3" stroke-width="1.5" stroke-opacity="0.42"/>
<path d="M1290.6 569.3H1296.8V555.7H1303.1V542.1H1328.3V528.5H1344V514.9H1347.1V501.3H1356.5V487.7H1359.7V474.1H1394.3V460.5V446.8H1422.5V433.2H1466.5V419.6H1494.8V406H1516.8V392.4H1526.2V378.8H1548.2V365.2H1551.4V351.6H1554.5V338H1563.9V324.4H1570.2V310.7H1582.8V297.1H1585.9V283.5H1589.1V269.9H1595.4V256.3H1601.7V242.7H1604.8V229.1H1664.5V215.5H1667.6V201.9H1667.6" fill="none" stroke="#8c8c8c" stroke-width="1.5" stroke-opacity="0.42"/>
<path d="M1290.6 569.3H1293.7V556.2H1296.8V543.1H1300V530H1306.3V516.8H1334.5V503.7H1347.1V490.6V477.5H1353.4V464.3V451.2H1394.3V438.1H1403.7V425H1447.7V411.8H1460.2V398.7H1504.2V385.6H1507.4V372.5H1510.5V359.4H1538.8V346.2H1545.1V333.1H1554.5V320H1563.9V306.9H1567.1V293.7H1576.5V280.6H1585.9V267.5H1589.1V254.4H1595.4V241.2H1598.5V228.1H1601.7V215H1664.5V201.9H1667.6" fill="none" stroke="#ccb974" stroke-width="1.5" stroke-opacity="0.42"/>
<path d="M1290.6 569.3H1293.7V559.1V548.9H1296.8V538.7H1300V528.5H1306.3V518.3H1334.5V508.1H1344V497.9H1347.1V487.7H1350.3V477.5H1353.4V467.3H1359.7V457H1384.8V446.8H1400.5V436.6H1413.1V426.4V416.2H1428.8V406H1501.1V395.8H1513.7V385.6H1523.1V375.4H1529.4V365.2H1532.5V355H1545.1V344.8V334.6H1551.4V324.4H1560.8V314.2H1563.9V303.9H1570.2V293.7H1579.7V283.5H1582.8V273.3H1585.9V263.1H1592.2V252.9H1595.4V242.7H1598.5V232.5H1601.7V222.3H1607.9V212.1H1667.6V201.9H1667.6" fill="none" stroke="#64b5cd" stroke-width="1.5" stroke-opacity="0.42"/>
<path d="M1290.6 569.3V558.5V547.7H1293.7V536.9H1300V526.1H1303.1V515.3H1306.3V504.5H1340.8V493.7H1344V482.9V472.1H1350.3V461.3H1375.4V450.4H1381.7V439.6H1388V428.8H1394.3V418H1457.1V407.2H1460.2V396.4H1466.5V385.6H1523.1V374.8H1526.2V364V353.2H1529.4V342.4H1551.4V331.6H1554.5V320.8V309.9H1563.9V299.1H1570.2V288.3H1579.7V277.5V266.7H1585.9V255.9H1592.2V245.1H1595.4V234.3V223.5H1601.7V212.7H1664.5V201.9H1667.6" fill="none" stroke="#4c72b0" stroke-width="1.5" stroke-opacity="0.42"/>
<path d="M1290.6 569.3H1296.8V559.1H1306.3V548.9H1334.5V538.7V528.5H1344V518.3H1347.1V508.1H1350.3V497.9H1366V487.7H1381.7V477.5H1400.5V467.3H1406.8V457H1444.5V446.8H1450.8V436.6H1501.1V426.4H1504.2V416.2H1523.1V406H1529.4V395.8H1532.5V385.6H1538.8V375.4H1541.9V365.2H1554.5V355H1563.9V344.8H1567.1V334.6H1576.5V324.4V314.2H1579.7V303.9H1585.9V293.7H1589.1V283.5V273.3H1592.2V263.1H1595.4V252.9H1604.8V242.7H1661.4V232.5H1664.5V222.3H1667.6V212.1V201.9H1667.6" fill="none" stroke="#dd8452" stroke-width="1.5" stroke-opacity="0.42"/>
<path d="M1290.6 569.3V555.7H1293.7V542.1H1331.4V528.5H1340.8V514.9V501.3H1344V487.7H1347.1V474.1H1372.3V460.5H1403.7V446.8H1438.2V433.2H1460.2V419.6H1504.2V406H1513.7V392.4H1520V378.8H1545.1V365.2V351.6H1548.2V338H1551.4V324.4H1560.8V310.7H1567.1V297.1H1579.7V283.5H1585.9V269.9H1589.1V256.3H1592.2V242.7H1595.4V229.1H1658.2V215.5H1664.5V201.9H1667.6" fill="none" stroke="#55a868" stroke-width="1.5" stroke-opacity="0.42"/>
<path d="M1290.6 569.3V555.7H1293.7V542.1H1322V528.5H1337.7V514.9H1340.8V501.3H1344V487.7H1347.1V474.1H1381.7V460.5H1397.4V446.8H1403.7V433.2H1425.7V419.6H1447.7V406H1488.5V392.4H1526.2V378.8V365.2H1538.8V351.6H1545.1V338H1557.7V324.4H1560.8V310.7H1573.4V297.1H1582.8V283.5V269.9H1585.9V256.3H1592.2V242.7H1595.4V229.1H1658.2V215.5H1661.4V201.9H1667.6" fill="none" stroke="#c44e52" stroke-width="1.5" stroke-opacity="0.42"/>
<path d="M1290.6 569.3V555.7V542.1V528.5H1293.7V514.9H1296.8V501.3H1334.5V487.7H1337.7V474.1H1344V460.5V446.8H1353.4V433.2H1388V419.6H1403.7V406H1444.5V392.4H1447.7V378.8H1501.1V365.2H1510.5V351.6H1520V338H1532.5V324.4H1548.2V310.7H1551.4V297.1H1567.1V283.5H1570.2V269.9H1579.7V256.3V242.7H1585.9V229.1H1592.2V215.5H1595.4V201.9H1667.6" fill="none" stroke="#8172b3" stroke-width="1.5" stroke-opacity="0.42"/>
<path d="M1290.6 569.3V556.2V543.1H1293.7V530V516.8H1334.5V503.7H1340.8V490.6H1344V477.5H1347.1V464.3H1356.5V451.2H1372.3V438.1H1391.1V425H1400.5V411.8H1444.5V398.7H1457.1V385.6H1498V372.5H1523.1V359.4H1526.2V346.2H1538.8V333.1H1548.2V320H1551.4V306.9H1557.7V293.7H1567.1V280.6H1579.7V267.5H1582.8V254.4H1589.1V241.2H1592.2V228.1H1598.5V215H1601.7V201.9H1667.6" fill="none" stroke="#937860" stroke-width="1.5" stroke-opacity="0.42"/>
<path d="M1290.6 569.3H1293.7V558.8V548.3H1303.1V537.8V527.3H1337.7V516.8H1344V506.3H1350.3V495.8H1353.4V485.3V474.8V464.3H1388V453.8H1397.4V443.3H1413.1V432.8H1450.8V422.3H1457.1V411.8H1504.2V401.3H1516.8V390.8H1523.1V380.4H1526.2V369.9H1532.5V359.4H1545.1V348.9H1548.2V338.4H1557.7V327.9H1560.8V317.4H1563.9V306.9H1576.5V296.4H1579.7V285.9H1585.9V275.4H1589.1V264.9V254.4H1592.2V243.9H1598.5V233.4H1604.8V222.9H1607.9V212.4H1667.6V201.9H1667.6" fill="none" stroke="#da8bc3" stroke-width="1.5" stroke-opacity="0.42"/>
<path d="M1290.6 569.3H1300V555.7H1337.7V542.1H1340.8V528.5H1350.3V514.9V501.3H1356.5V487.7H1375.4V474.1H1406.8V460.5H1447.7V446.8H1463.4V433.2H1510.5V419.6H1529.4V406H1532.5V392.4H1541.9V378.8H1557.7V365.2V351.6H1560.8V338H1573.4V324.4H1579.7V310.7H1585.9V297.1H1589.1V283.5H1592.2V269.9H1595.4V256.3H1607.9V242.7H1661.4V229.1H1667.6V215.5V201.9H1667.6" fill="none" stroke="#8c8c8c" stroke-width="1.5" stroke-opacity="0.42"/>
<path d="M1290.6 569.3H1293.7V555.2V541.1H1296.8V526.9H1303.1V512.8H1340.8V498.7H1347.1V484.5V470.4H1353.4V456.3H1375.4V442.1H1394.3V428H1416.3V413.9H1457.1V399.7H1460.2V385.6H1498V371.5H1523.1V357.3H1532.5V343.2H1538.8V329.1H1554.5V314.9H1557.7V300.8H1573.4V286.7H1579.7V272.5H1585.9V258.4H1589.1V244.3H1592.2V230.1H1601.7V216H1604.8V201.9H1667.6" fill="none" stroke="#ccb974" stroke-width="1.5" stroke-opacity="0.42"/>
<path d="M1290.6 569.3H1293.7V558.5H1296.8V547.7H1300V536.9V526.1H1337.7V515.3H1344V504.5H1347.1V493.7V482.9H1356.5V472.1V461.3H1375.4V450.4H1391.1V439.6H1394.3V428.8H1457.1V418V407.2H1491.7V396.4H1498V385.6H1513.7V374.8H1526.2V364V353.2H1532.5V342.4H1548.2V331.6H1551.4V320.8H1560.8V309.9H1563.9V299.1H1579.7V288.3V277.5H1585.9V266.7H1589.1V255.9V245.1H1595.4V234.3V223.5H1604.8V212.7H1664.5V201.9H1667.6" fill="none" stroke="#64b5cd" stroke-width="1.5" stroke-opacity="0.42"/>
<path d="M1290.6 569.3H1296.8V558.8H1303.1V548.3H1337.7V537.8H1344V527.3H1350.3V516.8V506.3H1359.7V495.8H1375.4V485.3H1397.4V474.8H1428.8V464.3H1432V453.8H1454V443.3H1501.1V432.8H1523.1V422.3V411.8H1526.2V401.3H1532.5V390.8H1548.2V380.4H1551.4V369.9H1554.5V359.4H1557.7V348.9H1570.2V338.4H1573.4V327.9H1582.8V317.4V306.9H1585.9V296.4V285.9H1592.2V275.4H1595.4V264.9V254.4H1611.1V243.9H1664.5V233.4V222.9H1667.6V212.4V201.9H1667.6" fill="none" stroke="#4c72b0" stroke-width="1.5" stroke-opacity="0.42"/>
<path d="M1290.6 569.3H1293.7V558.8H1296.8V548.3H1303.1V537.8V527.3H1331.4V516.8H1347.1V506.3V495.8V485.3H1353.4V474.8H1356.5V464.3H1381.7V453.8V443.3H1394.3V432.8H1413.1V422.3H1454V411.8H1488.5V401.3H1507.4V390.8H1510.5V380.4H1513.7V369.9H1535.7V359.4H1541.9V348.9H1551.4V338.4H1554.5V327.9H1560.8V317.4H1563.9V306.9H1579.7V296.4H1582.8V285.9V275.4H1585.9V264.9H1589.1V254.4H1595.4V243.9V233.4H1601.7V222.9H1604.8V212.4H1667.6V201.9H1667.6" fill="none" stroke="#dd8452" stroke-width="1.5" stroke-opacity="0.42"/>
<path d="M1290.6 569.3H1296.8V558.2H1300V547.1H1340.8V535.9H1344V524.8H1347.1V513.7H1350.3V502.5V491.4H1356.5V480.2H1378.5V469.1H1406.8V458H1416.3V446.8H1463.4V435.7H1491.7V424.6H1507.4V413.4H1526.2V402.3H1535.7V391.2V380H1548.2V368.9H1551.4V357.8H1557.7V346.6H1560.8V335.5H1570.2V324.4H1573.4V313.2H1582.8V302.1H1585.9V291H1592.2V279.8H1595.4V268.7H1598.5V257.5H1601.7V246.4H1604.8V235.3H1664.5V224.1H1667.6V213V201.9H1667.6" fill="none" stroke="#55a868" stroke-width="1.5" stroke-opacity="0.42"/>
<path d="M1290.6 569.3H1296.8V557.8V546.4H1303.1V534.9H1331.4V523.4H1340.8V511.9H1350.3V500.4V488.9H1353.4V477.5H1356.5V466H1388V454.5H1397.4V443H1406.8V431.5H1454V420H1463.4V408.6H1504.2V397.1V385.6H1520V374.1H1532.5V362.6H1545.1V351.2H1551.4V339.7H1554.5V328.2H1570.2V316.7H1573.4V305.2H1579.7V293.7H1585.9V282.3V270.8H1592.2V259.3H1595.4V247.8H1598.5V236.3H1661.4V224.8H1664.5V213.4H1667.6V201.9H1667.6" fill="none" stroke="#c44e52" stroke-width="1.5" stroke-opacity="0.42"/>
<path d="M1290.6 569.3H1293.7V554.6H1296.8V539.9H1303.1V525.2H1337.7V510.5H1347.1V495.8H1353.4V481.1H1375.4V466.4H1397.4V451.7H1406.8V437H1457.1V422.3H1460.2V407.6H1520V392.9H1526.2V378.3H1532.5V363.6H1554.5V348.9H1563.9V334.2V319.5H1579.7V304.8H1582.8V290.1H1589.1V275.4H1592.2V260.7H1595.4V246H1598.5V231.3H1664.5V216.6V201.9H1667.6" fill="none" stroke="#8172b3" stroke-width="1.5" stroke-opacity="0.42"/>
<path d="M1290.6 569.3H1300V557.5H1303.1V545.6V533.8H1344V521.9V510.1H1350.3V498.2H1353.4V486.4H1381.7V474.5H1400.5V462.6H1406.8V450.8H1413.1V438.9H1444.5V427.1H1488.5V415.2H1510.5V403.4H1532.5V391.5V379.7H1541.9V367.8H1554.5V356H1567.1V344.1V332.3H1570.2V320.4H1576.5V308.6H1585.9V296.7V284.8H1592.2V273V261.1H1595.4V249.3H1598.5V237.4H1661.4V225.6H1664.5V213.7H1667.6V201.9H1667.6" fill="none" stroke="#937860" stroke-width="1.5" stroke-opacity="0.42"/>
<path d="M1290.6 569.3H1293.7V557.8H1296.8V546.4H1303.1V534.9H1337.7V523.4H1344V511.9V500.4H1347.1V488.9H1356.5V477.5H1381.7V466H1384.8V454.5H1406.8V443H1419.4V431.5H1466.5V420H1507.4V408.6H1510.5V397.1H1523.1V385.6V374.1H1529.4V362.6H1548.2V351.2H1554.5V339.7H1560.8V328.2H1563.9V316.7H1570.2V305.2H1576.5V293.7H1585.9V282.3V270.8V259.3H1589.1V247.8H1595.4V236.3H1607.9V224.8H1661.4V213.4V201.9H1667.6" fill="none" stroke="#da8bc3" stroke-width="1.5" stroke-opacity="0.42"/>
<path d="M1290.6 569.3H1293.7V558.5H1300V547.7H1337.7V536.9H1344V526.1V515.3H1347.1V504.5H1378.5V493.7H1381.7V482.9H1394.3V472.1H1416.3V461.3H1441.4V450.4H1447.7V439.6H1507.4V428.8H1510.5V418H1526.2V407.2H1532.5V396.4V385.6H1541.9V374.8H1545.1V364H1557.7V353.2H1560.8V342.4H1563.9V331.6H1576.5V320.8V309.9H1582.8V299.1H1589.1V288.3V277.5H1592.2V266.7H1595.4V255.9H1598.5V245.1H1661.4V234.3V223.5H1664.5V212.7V201.9H1667.6" fill="none" stroke="#8c8c8c" stroke-width="1.5" stroke-opacity="0.42"/>
<path d="M1290.6 569.3V558.2V547.1H1296.8V535.9H1303.1V524.8H1344V513.7V502.5H1347.1V491.4H1350.3V480.2H1375.4V469.1H1384.8V458H1391.1V446.8H1406.8V435.7H1410V424.6H1457.1V413.4H1466.5V402.3H1482.2V391.2H1523.1V380H1526.2V368.9H1538.8V357.8H1548.2V346.6H1551.4V335.5H1557.7V324.4H1570.2V313.2V302.1H1579.7V291H1582.8V279.8H1589.1V268.7V257.5V246.4H1595.4V235.3H1611.1V224.1H1661.4V213H1664.5V201.9H1667.6" fill="none" stroke="#ccb974" stroke-width="1.5" stroke-opacity="0.42"/>
<path d="M1290.6 569.3H1300V558.2H1306.3V547.1H1344V535.9H1350.3V524.8H1353.4V513.7V502.5H1359.7V491.4H1378.5V480.2H1388V469.1H1419.4V458H1425.7V446.8H1454V435.7H1476V424.6H1504.2V413.4H1532.5V402.3H1535.7V391.2H1548.2V380H1551.4V368.9H1554.5V357.8H1567.1V346.6V335.5H1573.4V324.4H1582.8V313.2H1585.9V302.1H1592.2V291V279.8H1598.5V268.7V257.5H1601.7V246.4H1604.8V235.3H1667.6V224.1V213V201.9H1667.6" fill="none" stroke="#64b5cd" stroke-width="1.5" stroke-opacity="0.42"/>
<path d="M1290.6 569.3H1293.7V556.7H1296.8V544H1306.3V531.3H1334.5V518.6H1344V506H1347.1V493.3H1350.3V480.6H1353.4V468H1397.4V455.3H1400.5V442.6H1454V429.9H1457.1V417.3V404.6H1507.4V391.9H1532.5V379.3H1538.8V366.6H1541.9V353.9H1551.4V341.3H1563.9V328.6H1570.2V315.9H1573.4V303.2H1585.9V290.6V277.9H1589.1V265.2H1592.2V252.6V239.9H1661.4V227.2H1664.5V214.5H1667.6V201.9H1667.6" fill="none" stroke="#4c72b0" stroke-width="1.5" stroke-opacity="0.42"/>
<path d="M1290.6 569.3H1296.8V555.2H1303.1V541.1H1334.5V526.9H1344V512.8H1347.1V498.7H1353.4V484.5H1356.5V470.4V456.3H1410V442.1H1416.3V428H1466.5V413.9H1485.4V399.7H1513.7V385.6H1532.5V371.5H1535.7V357.3H1554.5V343.2H1560.8V329.1H1576.5V314.9H1579.7V300.8V286.7H1589.1V272.5H1592.2V258.4H1598.5V244.3H1601.7V230.1H1664.5V216H1667.6V201.9H1667.6" fill="none" stroke="#dd8452" stroke-width="1.5" stroke-opacity="0.42"/>
<path d="M1290.6 569.3H1296.8V556.7V544H1300V531.3H1334.5V518.6H1344V506H1347.1V493.3H1350.3V480.6H1356.5V468V455.3H1391.1V442.6H1400.5V429.9H1425.7V417.3H1454V404.6V391.9H1498V379.3H1535.7V366.6H1538.8V353.9H1548.2V341.3H1557.7V328.6H1567.1V315.9H1570.2V303.2H1573.4V290.6H1582.8V277.9V265.2H1592.2V252.6H1595.4V239.9V227.2H1604.8V214.5H1667.6V201.9H1667.6" fill="none" stroke="#55a868" stroke-width="1.5" stroke-opacity="0.42"/>
<path d="M1290.6 569.3H1293.7V558.2H1300V547.1V535.9H1306.3V524.8V513.7H1347.1V502.5V491.4V480.2H1353.4V469.1H1375.4V458H1384.8V446.8H1388V435.7H1391.1V424.6H1450.8V413.4H1476V402.3H1491.7V391.2H1510.5V380V368.9H1529.4V357.8H1535.7V346.6H1538.8V335.5H1548.2V324.4H1560.8V313.2H1563.9V302.1H1570.2V291H1576.5V279.8H1585.9V268.7H1592.2V257.5V246.4H1595.4V235.3H1601.7V224.1H1607.9V213H1667.6V201.9H1667.6" fill="none" stroke="#c44e52" stroke-width="1.5" stroke-opacity="0.42"/>
<path d="M1290.6 569.3V558.8V548.3H1293.7V537.8H1296.8V527.3H1325.1V516.8H1334.5V506.3H1337.7V495.8H1344V485.3V474.8H1347.1V464.3H1353.4V453.8H1375.4V443.3H1391.1V432.8H1394.3V422.3H1444.5V411.8V401.3H1457.1V390.8H1501.1V380.4H1513.7V369.9H1526.2V359.4H1535.7V348.9H1541.9V338.4H1545.1V327.9H1548.2V317.4H1560.8V306.9H1567.1V296.4H1573.4V285.9H1576.5V275.4H1579.7V264.9H1585.9V254.4V243.9H1589.1V233.4H1598.5V222.9H1601.7V212.4H1658.2V201.9H1667.6" fill="none" stroke="#8172b3" stroke-width="1.5" stroke-opacity="0.42"/>
<path d="M1290.6 569.3V558.8V548.3V537.8V527.3H1300V516.8H1325.1V506.3H1331.4V495.8H1334.5V485.3H1344V474.8H1347.1V464.3H1372.3V453.8V443.3V432.8H1391.1V422.3H1394.3V411.8H1403.7V401.3H1438.2V390.8H1460.2V380.4H1501.1V369.9H1520V359.4H1526.2V348.9V338.4H1529.4V327.9H1548.2V317.4H1551.4V306.9H1554.5V296.4H1567.1V285.9V275.4H1573.4V264.9H1579.7V254.4H1582.8V243.9H1585.9V233.4H1589.1V222.9H1592.2V212.4H1604.8V201.9H1667.6" fill="none" stroke="#937860" stroke-width="1.5" stroke-opacity="0.42"/>
<path d="M1290.6 569.3H1296.8V558.5V547.7H1303.1V536.9H1334.5V526.1H1344V515.3H1347.1V504.5V493.7H1350.3V482.9H1378.5V472.1H1384.8V461.3V450.4H1388V439.6H1428.8V428.8H1447.7V418H1472.8V407.2H1504.2V396.4H1513.7V385.6H1516.8V374.8H1535.7V364V353.2H1557.7V342.4H1560.8V331.6H1563.9V320.8H1573.4V309.9H1579.7V299.1H1585.9V288.3V277.5H1589.1V266.7H1592.2V255.9H1595.4V245.1H1601.7V234.3H1604.8V223.5H1611.1V212.7H1664.5V201.9H1667.6" fill="none" stroke="#da8bc3" stroke-width="1.5" stroke-opacity="0.42"/>
<path d="M1290.6 569.3H1296.8V557.1H1303.1V544.8H1337.7V532.6H1344V520.3V508.1H1350.3V495.8H1353.4V483.6H1384.8V471.3H1406.8V459.1H1441.4V446.8H1488.5V434.6H1491.7V422.3H1498V410.1H1526.2V397.8H1532.5V385.6V373.4H1551.4V361.1H1557.7V348.9H1560.8V336.6H1573.4V324.4H1576.5V312.1H1582.8V299.9H1585.9V287.6H1589.1V275.4H1592.2V263.1H1595.4V250.9H1598.5V238.6H1661.4V226.4H1664.5V214.1H1667.6V201.9H1667.6" fill="none" stroke="#8c8c8c" stroke-width="1.5" stroke-opacity="0.42"/>
<path d="M1290.6 569.3H1296.8V555.7H1328.3V542.1H1337.7V528.5H1344V514.9H1350.3V501.3H1356.5V487.7H1388V474.1H1397.4V460.5H1413.1V446.8H1441.4V433.2H1494.8V419.6H1507.4V406H1535.7V392.4H1538.8V378.8H1551.4V365.2H1554.5V351.6H1560.8V338H1567.1V324.4H1579.7V310.7H1589.1V297.1V283.5H1592.2V269.9H1598.5V256.3V242.7H1614.2V229.1H1664.5V215.5H1667.6V201.9H1667.6" fill="none" stroke="#ccb974" stroke-width="1.5" stroke-opacity="0.42"/>
<path d="M1290.6 569.3H1303.1V557.1H1306.3V544.8H1344V532.6H1350.3V520.3V508.1H1362.8V495.8H1381.7V483.6H1384.8V471.3H1413.1V459.1H1454V446.8H1457.1V434.6H1460.2V422.3H1523.1V410.1H1526.2V397.8H1538.8V385.6H1541.9V373.4H1554.5V361.1H1560.8V348.9H1563.9V336.6H1576.5V324.4H1585.9V312.1H1589.1V299.9H1592.2V287.6H1595.4V275.4V263.1H1604.8V250.9H1611.1V238.6H1667.6V226.4V214.1V201.9H1667.6" fill="none" stroke="#64b5cd" stroke-width="1.5" stroke-opacity="0.42"/>
<path d="M1290.6 569.3H1293.7V554H1300V538.7H1306.3V523.4H1340.8V508.1H1350.3V492.8V477.5H1362.8V462.2H1397.4V446.8H1410V431.5H1454V416.2H1501.1V400.9H1510.5V385.6H1526.2V370.3H1545.1V355H1560.8V339.7H1563.9V324.4H1573.4V309H1576.5V293.7H1585.9V278.4V263.1H1595.4V247.8H1598.5V232.5H1661.4V217.2H1667.6V201.9H1667.6" fill="none" stroke="#4c72b0" stroke-width="1.5" stroke-opacity="0.42"/>
<path d="M1290.6 569.3V557.1H1293.7V544.8V532.6H1328.3V520.3H1340.8V508.1H1344V495.8H1347.1V483.6V471.3H1375.4V459.1H1378.5V446.8H1400.5V434.6H1403.7V422.3H1485.4V410.1H1498V397.8H1520V385.6H1523.1V373.4H1529.4V361.1H1535.7V348.9H1548.2V336.6H1551.4V324.4H1563.9V312.1H1567.1V299.9H1576.5V287.6H1582.8V275.4V263.1H1585.9V250.9H1589.1V238.6H1595.4V226.4H1601.7V214.1H1664.5V201.9H1667.6" fill="none" stroke="#dd8452" stroke-width="1.5" stroke-opacity="0.42"/>
<path d="M1290.6 569.3H1293.7V557.1H1296.8V544.8H1303.1V532.6H1340.8V520.3H1344V508.1H1347.1V495.8V483.6H1381.7V471.3H1384.8V459.1H1400.5V446.8H1410V434.6H1454V422.3H1507.4V410.1V397.8V385.6H1526.2V373.4H1538.8V361.1H1548.2V348.9V336.6H1557.7V324.4H1570.2V312.1H1576.5V299.9H1582.8V287.6H1585.9V275.4H1589.1V263.1H1592.2V250.9V238.6H1598.5V226.4H1661.4V214.1H1667.6V201.9H1667.6" fill="none" stroke="#55a868" stroke-width="1.5" stroke-opacity="0.42"/>
<path d="M1290.6 569.3V557.5H1293.7V545.6H1328.3V533.8H1334.5V521.9H1337.7V510.1H1340.8V498.2H1347.1V486.4H1372.3V474.5H1375.4V462.6H1397.4V450.8H1406.8V438.9H1438.2V427.1H1454V415.2H1498V403.4H1516.8V391.5H1520V379.7H1538.8V367.8H1541.9V356H1554.5V344.1H1560.8V332.3H1563.9V320.4H1570.2V308.6H1573.4V296.7H1579.7V284.8H1582.8V273H1585.9V261.1H1589.1V249.3H1595.4V237.4H1658.2V225.6H1661.4V213.7V201.9H1667.6" fill="none" stroke="#c44e52" stroke-width="1.5" stroke-opacity="0.42"/>
<path d="M1290.6 569.3H1296.8V559.1V548.9H1337.7V538.7H1340.8V528.5H1344V518.3H1347.1V508.1V497.9H1350.3V487.7H1381.7V477.5H1400.5V467.3H1403.7V457H1406.8V446.8H1460.2V436.6H1469.7V426.4H1501.1V416.2H1526.2V406V395.8H1532.5V385.6H1541.9V375.4H1551.4V365.2V355H1560.8V344.8H1563.9V334.6H1576.5V324.4V314.2H1582.8V303.9H1589.1V293.7V283.5V273.3H1592.2V263.1V252.9H1601.7V242.7H1661.4V232.5H1664.5V222.3H1667.6V212.1V201.9H1667.6" fill="none" stroke="#8172b3" stroke-width="1.5" stroke-opacity="0.42"/>
<line x1="1290.6" y1="569.3" x2="1667.6" y2="201.9" stroke="#8e8e8e" stroke-width="2.9" stroke-dasharray="9.3 4"/>
<path d="M1290.6 569.3 1291.3 567 1295.9 552.6 1297.6 548 1304.2 533 1307.7 530.7 1323.6 530.7 1327.4 530.1 1335.8 526.3 1337.9 524 1342.6 512.8 1343.9 508.6 1347.6 493.7 1348.8 489.4 1352.5 477.3 1354 474.7 1359.6 470.4 1362 469.5 1371.3 468.2 1373.7 467.2 1379.3 462.6 1381.4 460.8 1388.8 454.2 1391.5 452 1400.8 444.6 1403.8 442.2 1413.1 434.7 1416.4 433.1 1427.6 430.3 1430.8 429.8 1440.2 429.4 1442.5 428.8 1448.1 425 1450.2 423.3 1457.7 416.2 1460.3 414.6 1469.7 411.2 1472.9 410.5 1484.1 409.2 1487.4 408.4 1496.7 404.6 1499.4 403 1506.8 396.5 1509.6 394.4 1519.9 387.9 1522.6 385.1 1529.1 373.8 1531 370.8 1536.6 362.3 1538.7 359.5 1546.2 350.2 1548.5 346.7 1556 333.6 1558.4 329.6 1565.8 317.4 1568.2 313.5 1575.7 300.4 1577.7 296.4 1583.3 284.3 1584.8 280.3 1588.6 267.2 1589.7 262.8 1593.5 247.8 1595 243.4 1600.6 230.3 1602 227.5 1605.8 222.8 1607.5 222 1615 221 1621.5 220.9 1655.1 220.9 1661.3 218.6 1666.8 204.2 1667.6 201.9" fill="none" stroke="#5863ad" stroke-width="5.2" stroke-linejoin="round" stroke-linecap="butt"/>
</g>
<text x="1359.9" y="561.6" font-size="43.7" font-weight="bold" style="fill:#6267b2">0.50 (0.44, 0.57)</text>
<rect x="1271.7" y="183.5" width="414.8" height="404.2" fill="none" stroke="#231f20" stroke-width="2.0"/>
<path d="M1290.6 587.7V596.2M1384.8 587.7V596.2M1479.1 587.7V596.2M1573.4 587.7V596.2M1667.6 587.7V596.2M1271.7 569.3H1263.2M1271.7 495.8H1263.2M1271.7 422.3H1263.2M1271.7 348.9H1263.2M1271.7 275.4H1263.2M1271.7 201.9H1263.2" stroke="#231f20" stroke-width="1.9" fill="none"/>
<text x="1294.8" y="626.8" font-size="31.4" text-anchor="middle">0.0</text>
<text x="1383.3" y="626.8" font-size="31.4" text-anchor="middle">0.25</text>
<text x="1478.1" y="626.8" font-size="31.4" text-anchor="middle">0.50</text>
<text x="1570.4" y="626.8" font-size="31.4" text-anchor="middle">0.75</text>
<text x="1664.6" y="626.8" font-size="31.4" text-anchor="middle">1.0</text>
<text x="1255.5" y="572.8" font-size="31.4" text-anchor="end">0.0</text>
<text x="1255.5" y="500.4" font-size="31.4" text-anchor="end">0.2</text>
<text x="1255.5" y="428" font-size="31.4" text-anchor="end">0.4</text>
<text x="1255.5" y="355.7" font-size="31.4" text-anchor="end">0.6</text>
<text x="1255.5" y="283.3" font-size="31.4" text-anchor="end">0.8</text>
<text x="1255.5" y="210.9" font-size="31.4" text-anchor="end">1.0</text>
<text x="1485" y="668.3" font-size="37.5" text-anchor="middle">false positive rate</text>
<text transform="translate(1196.6 385.1) rotate(-90)" font-size="37.7" text-anchor="middle">true positive rate</text>
<clipPath id="c3"><rect x="153.9" y="723.7" width="415.4" height="404.6"/></clipPath>
<g clip-path="url(#c3)">
<polygon fill="#e2e3e6" points="172.8,1106.2 173.7,1102.1 174.7,1098 175.6,1093.9 176.6,1089.8 177.5,1085.7 178.4,1081.6 178.6,1081 179.4,1077.3 180.3,1073 181.3,1068.7 182.2,1064.4 183.2,1060 184.1,1055.7 184.7,1053.5 185.1,1052.6 186,1050 186.9,1047.4 187.9,1044.8 188.8,1042.2 189.6,1040 189.8,1039.9 190.7,1039.5 191.7,1039.1 192.6,1038.7 193.6,1038.3 194.5,1037.9 195.4,1037.5 196.4,1037.1 197.3,1036.7 198.3,1036.3 198.3,1036.3 199.2,1036.3 200.2,1036.3 201.1,1036.3 202,1036.3 203,1036.3 203.9,1036.3 204.9,1036.3 205.8,1036.3 206.8,1036.3 207.7,1036.3 208.7,1036.3 209.6,1036.3 210.5,1036.3 211.5,1036.3 212.4,1036.3 213.4,1036.3 214.3,1036.3 215.3,1036.3 216.2,1036.3 217.2,1036.3 218.1,1036.3 219,1036.3 220,1036.3 220.9,1036.3 221.9,1036.3 222.8,1036.3 223.8,1036.3 224.7,1036.3 225.7,1036.3 226.6,1036.3 227.5,1036.3 228.5,1036.3 229.4,1036.3 230.2,1036.3 230.4,1036.3 231.3,1036 232.3,1035.6 233.2,1035.3 234.1,1035 235.1,1034.7 236,1034.4 237,1034.1 237.6,1033.9 237.9,1033.5 238.9,1032.5 239.8,1031.4 240.8,1030.4 241.7,1029.4 242.5,1028.5 242.6,1028.1 243.6,1025.1 244.5,1022.1 245.5,1019.1 246.4,1016.1 247.4,1013 247.4,1012.9 248.3,1009.4 249.3,1005.7 250.2,1001.9 251.1,998.2 252.1,994.5 252.3,993.5 253,990.8 254,987.1 254.9,983.4 255.9,979.7 256.8,975.9 257.3,974.2 257.8,972.8 258.7,970.2 259.6,967.6 260.6,965 261.5,962.3 262.5,959.7 263.4,957.1 264.4,954.5 264.6,953.7 265.3,952.5 266.2,950.8 267.2,949.2 268.1,947.5 269.1,945.8 270,944.1 271,942.4 271.9,940.7 272.9,939 273.2,938.3 273.8,937.7 274.7,936.7 275.7,935.8 276.6,934.8 277.6,933.8 278.5,932.8 279.5,931.8 280.4,930.8 281.4,929.8 282.3,928.8 283.2,927.9 284.2,926.9 284.3,926.7 285.1,925.8 286.1,924.7 287,923.6 288,922.5 288.9,921.4 289.8,920.2 290.8,919.1 291.7,918 292.7,916.9 293.6,915.8 294.6,914.6 295.5,913.5 296.5,912.4 296.6,912.2 297.4,911.4 298.3,910.3 299.3,909.3 300.2,908.3 301.2,907.2 302.1,906.2 303.1,905.2 304,904.2 305,903.1 305.9,902.1 306.8,901.1 307.8,900.1 308.7,899 308.9,898.9 309.7,898.1 310.6,897.3 311.6,896.4 312.5,895.6 313.5,894.7 314.4,893.8 315.3,893 316.3,892.1 317.2,891.2 318.2,890.4 318.7,889.9 319.1,889.7 320.1,889.3 321,888.9 321.9,888.5 322.9,888.1 323.8,887.6 324.8,887.2 325.7,886.8 326.7,886.4 327.6,886 328.6,885.6 328.6,885.6 329.5,884.4 330.4,883.2 331.4,882.1 332.3,880.9 333.3,879.7 334.2,878.6 335.2,877.4 336.1,876.2 337.1,875.1 338,873.9 338.4,873.4 338.9,872.7 339.9,871.5 340.8,870.3 341.8,869 342.7,867.8 343.7,866.6 344.6,865.4 345.6,864.2 346.5,863 347.4,861.8 348.4,860.5 349.3,859.3 350.3,858.1 350.7,857.6 351.2,856.4 352.2,854.4 353.1,852.4 354,850.3 355,848.3 355.9,846.3 356.9,844.2 357.8,842.2 358.1,841.7 358.8,840 359.7,837.8 360.7,835.7 361.6,833.5 362.5,831.3 363.5,829.1 364.4,826.9 365.4,824.7 365.4,824.6 366.3,823.2 367.3,821.8 368.2,820.4 369.2,819 370.1,817.6 371,816.2 372,814.8 372.8,813.6 372.9,813.6 373.9,813.4 374.8,813.1 375.8,812.9 376.7,812.7 377.6,812.5 378.6,812.3 379.5,812.1 380.2,812 380.5,811.5 381.4,810.1 382.4,808.7 383.3,807.2 384.3,805.8 385.2,804.4 386.1,803 386.3,802.7 387.1,801.2 388,799.3 389,797.4 389.9,795.6 390.9,793.7 391.8,791.8 392.8,789.9 393.7,788 394.6,786.2 395.6,784.3 396.5,782.4 397.4,780.7 397.5,780.6 398.4,780 399.4,779.3 400.3,778.7 401.3,778 402.2,777.4 403.1,776.7 404.1,776.1 405,775.5 406,774.8 406.9,774.2 407.2,773.9 407.9,773.9 408.8,773.8 409.7,773.8 410.7,773.7 411.6,773.6 412.6,773.5 413.5,773.5 414.5,773.4 415.4,773.3 416.4,773.3 417.3,773.2 418.2,773.1 419.2,773.1 420.1,773 421.1,772.9 422,772.8 423,772.8 423.9,772.7 424.4,772.7 424.9,772.6 425.8,772.4 426.7,772.2 427.7,772.1 428.6,771.9 429.6,771.7 430.5,771.5 431.5,771.4 432.4,771.2 433.4,771 434.3,770.8 434.3,770.8 435.2,769.9 436.2,769 437.1,768.1 438.1,767.3 439,766.4 440,765.5 440.9,764.7 441.8,763.8 442.8,762.9 443.7,762 444.1,761.7 444.7,761.4 445.6,761 446.6,760.5 447.5,760.1 448.5,759.6 449.4,759.2 450.3,758.7 451.3,758.3 452.2,757.8 453.2,757.4 454.1,756.9 455.1,756.5 456,756 457,755.6 457.9,755.1 458.8,754.7 458.9,754.7 459.8,754.7 460.7,754.7 461.7,754.7 462.6,754.7 463.6,754.7 464.5,754.7 465.4,754.8 466.4,754.8 467.3,754.8 468.3,754.8 469.2,754.8 470.2,754.8 471.1,754.8 472.1,754.8 473,754.9 473.9,754.9 474.9,754.9 475.8,754.9 476.8,754.9 477.7,754.9 478.7,754.9 479.6,754.9 480.6,755 481.5,755 482.4,755 483.4,755 484.3,755 485.3,755 486.2,755 487.2,755 488.1,755.1 489.1,755.1 490,755.1 490.9,755.1 491.9,755.1 492.8,755.1 493.8,755.1 494.7,755.1 495.7,755.2 496.6,755.2 497.5,755.2 498.5,755.2 499.4,755.2 500.4,755.2 501.3,755.2 502.3,755.2 503.1,755.3 503.2,755.1 504.2,753.6 505.1,752 506,750.5 507,749 507.9,747.4 508,747.3 508.9,746.2 509.8,744.9 510.8,743.7 511.7,742.4 512.7,742.1 513.6,742.1 514.5,742.1 515.4,742.1 515.5,742.1 516.4,742.1 517.4,742.1 518.3,742.1 519.3,742.1 520.2,742.1 521.2,742.1 522.1,742.1 523,742.1 524,742.1 524.9,742.1 525.2,742.1 525.9,742.1 526.8,742.1 527.8,742.1 528.7,742.1 529.6,742.1 530.6,742.1 531.5,742.1 532.5,742.1 533.4,742.1 534.4,742.1 535.3,742.1 536.3,742.1 537.2,742.1 538.1,742.1 539.1,742.1 540,742.1 541,742.1 541.9,742.1 542.9,742.1 543.8,742.1 544.8,742.1 545.7,742.1 546.6,742.1 547.6,742.1 548.5,742.1 549.5,742.1 550.4,742.1 550.4,742.1 549.5,742.3 548.5,742.5 547.6,742.7 546.6,742.9 545.7,743.1 544.8,743.3 543.8,743.5 542.9,743.7 541.9,743.9 541,744.1 540,744.3 539.1,744.5 538.1,744.7 537.2,744.8 536.3,745 535.3,745.2 534.4,745.4 533.4,745.6 532.5,745.8 531.5,746 530.6,746.2 529.6,746.4 528.7,746.6 527.8,746.8 526.8,747 525.9,747.2 525.2,747.3 524.9,747.5 524,747.9 523,748.3 522.1,748.7 521.2,749.2 520.2,749.6 519.3,750 518.3,750.4 517.4,750.8 516.4,751.3 515.5,751.7 515.4,751.7 514.5,753 513.6,754.5 512.7,755.9 511.7,757.2 510.8,758.5 509.8,759.8 508.9,761 508,762.2 507.9,762.4 507,763.9 506,765.5 505.1,767.1 504.2,768.7 503.2,770.3 503.1,770.4 502.3,770.5 501.3,770.5 500.4,770.5 499.4,770.6 498.5,770.6 497.5,770.6 496.6,770.7 495.7,770.7 494.7,770.7 493.8,770.8 492.8,770.8 491.9,770.8 490.9,770.9 490,770.9 489.1,770.9 488.1,771 487.2,771 486.2,771 485.3,771.1 484.3,771.1 483.4,771.1 482.4,771.2 481.5,771.2 480.6,771.2 479.6,771.3 478.7,771.3 477.7,771.3 476.8,771.4 475.8,771.4 474.9,771.4 473.9,771.5 473,771.5 472.1,771.5 471.1,771.6 470.2,771.6 469.2,771.6 468.3,771.7 467.3,771.7 466.4,771.7 465.4,771.8 464.5,771.8 463.6,771.8 462.6,771.9 461.7,771.9 460.7,771.9 459.8,772 458.9,772 458.8,772 457.9,772.5 457,773 456,773.5 455.1,774 454.1,774.5 453.2,775 452.2,775.5 451.3,776 450.3,776.5 449.4,777 448.5,777.5 447.5,778 446.6,778.4 445.6,778.9 444.7,779.4 444.1,779.7 443.7,780.1 442.8,781 441.8,781.9 440.9,782.9 440,783.8 439,784.7 438.1,785.6 437.1,786.5 436.2,787.4 435.2,788.4 434.3,789.3 434.3,789.3 433.4,789.5 432.4,789.7 431.5,789.9 430.5,790.1 429.6,790.3 428.6,790.5 427.7,790.7 426.7,790.9 425.8,791.1 424.9,791.3 424.4,791.4 423.9,791.4 423,791.5 422,791.6 421.1,791.7 420.1,791.8 419.2,791.9 418.2,792 417.3,792.1 416.4,792.2 415.4,792.3 414.5,792.3 413.5,792.4 412.6,792.5 411.6,792.6 410.7,792.7 409.7,792.8 408.8,792.9 407.9,793 407.2,793.1 406.9,793.3 406,794 405,794.6 404.1,795.3 403.1,796 402.2,796.6 401.3,797.3 400.3,798 399.4,798.7 398.4,799.3 397.5,800 397.4,800.1 396.5,801.8 395.6,803.7 394.6,805.6 393.7,807.5 392.8,809.4 391.8,811.3 390.9,813.2 389.9,815.1 389,817 388,818.9 387.1,820.8 386.3,822.3 386.1,822.6 385.2,824.1 384.3,825.5 383.3,826.9 382.4,828.4 381.4,829.8 380.5,831.3 380.2,831.7 379.5,831.9 378.6,832.1 377.6,832.4 376.7,832.6 375.8,832.8 374.8,833.1 373.9,833.3 372.9,833.5 372.8,833.5 372,834.8 371,836.2 370.1,837.7 369.2,839.1 368.2,840.5 367.3,841.9 366.3,843.4 365.4,844.7 365.4,844.8 364.4,847.1 363.5,849.3 362.5,851.5 361.6,853.7 360.7,855.9 359.7,858.1 358.8,860.3 358.1,862 357.8,862.5 356.9,864.6 355.9,866.6 355,868.7 354,870.7 353.1,872.8 352.2,874.9 351.2,876.9 350.7,878.1 350.3,878.6 349.3,879.9 348.4,881.1 347.4,882.3 346.5,883.6 345.6,884.8 344.6,886 343.7,887.3 342.7,888.5 341.8,889.8 340.8,891 339.9,892.2 338.9,893.5 338.4,894.2 338,894.7 337.1,895.9 336.1,897.1 335.2,898.3 334.2,899.5 333.3,900.7 332.3,901.8 331.4,903 330.4,904.2 329.5,905.4 328.6,906.6 328.6,906.6 327.6,907.1 326.7,907.5 325.7,907.9 324.8,908.4 323.8,908.8 322.9,909.2 321.9,909.7 321,910.1 320.1,910.5 319.1,911 318.7,911.2 318.2,911.7 317.2,912.6 316.3,913.4 315.3,914.3 314.4,915.2 313.5,916.1 312.5,917 311.6,917.9 310.6,918.8 309.7,919.6 308.9,920.4 308.7,920.5 307.8,921.6 306.8,922.6 305.9,923.7 305,924.7 304,925.8 303.1,926.8 302.1,927.9 301.2,928.9 300.2,930 299.3,931 298.3,932.1 297.4,933.1 296.6,934 296.5,934.2 295.5,935.4 294.6,936.5 293.6,937.6 292.7,938.8 291.7,939.9 290.8,941.1 289.8,942.2 288.9,943.4 288,944.5 287,945.7 286.1,946.8 285.1,948 284.3,949 284.2,949.2 283.2,950.3 282.3,951.4 281.4,952.5 280.4,953.6 279.5,954.7 278.5,955.8 277.6,957 276.6,958.1 275.7,959.2 274.7,960.3 273.8,961.4 273.2,962.1 272.9,962.8 271.9,964.6 271,966.4 270,968.2 269.1,970 268.1,971.9 267.2,973.7 266.2,975.5 265.3,977.3 264.6,978.6 264.4,979.4 263.4,982.1 262.5,984.9 261.5,987.6 260.6,990.3 259.6,993.1 258.7,995.8 257.8,998.5 257.3,1000 256.8,1001.8 255.9,1005.6 254.9,1009.5 254,1013.3 253,1017.2 252.3,1020 252.1,1021 251.1,1024.8 250.2,1028.7 249.3,1032.5 248.3,1036.3 247.4,1039.9 247.4,1040.1 246.4,1043.3 245.5,1046.4 244.5,1049.5 243.6,1052.7 242.6,1055.8 242.5,1056.2 241.7,1057.2 240.8,1058.4 239.8,1059.5 238.9,1060.7 237.9,1061.8 237.6,1062.2 237,1062.5 236,1062.9 235.1,1063.4 234.1,1063.8 233.2,1064.3 232.3,1064.7 231.3,1065.1 230.4,1065.6 230.2,1065.6 229.4,1065.7 228.5,1065.7 227.5,1065.7 226.6,1065.7 225.7,1065.7 224.7,1065.7 223.8,1065.7 222.8,1065.7 221.9,1065.7 220.9,1065.7 220,1065.7 219,1065.7 218.1,1065.7 217.2,1065.7 216.2,1065.7 215.3,1065.7 214.3,1065.7 213.4,1065.7 212.4,1065.7 211.5,1065.7 210.5,1065.7 209.6,1065.7 208.7,1065.7 207.7,1065.7 206.8,1065.7 205.8,1065.7 204.9,1065.7 203.9,1065.7 203,1065.7 202,1065.7 201.1,1065.7 200.2,1065.7 199.2,1065.7 198.3,1065.7 198.3,1065.7 197.3,1066.1 196.4,1066.5 195.4,1066.9 194.5,1067.3 193.6,1067.7 192.6,1068.1 191.7,1068.5 190.7,1068.9 189.8,1069.3 189.6,1069.4 188.8,1071.6 187.9,1074.2 186.9,1076.8 186,1079.4 185.1,1082 184.7,1082.9 184.1,1085.1 183.2,1087.6 182.2,1090.1 181.3,1092.6 180.3,1095.1 179.4,1097.5 178.6,1099.7 178.4,1100 177.5,1102.3 176.6,1104.5 175.6,1106.8 174.7,1109.1 173.7,1109.9 172.8,1109.9"/>
<path d="M172.8 1109.9H179.1V1086.9H185.4V1063.9H194.8V1040.9H248.3V1018H254.6V995H264V972H273.5V949H292.4V926H314.4V903H336.4V880H358.5V857H361.6V834H380.5V811.1H396.2V788.1H452.9V765.1H515.8V742.1H550.4" fill="none" stroke="#4c72b0" stroke-width="1.5" stroke-opacity="0.42"/>
<path d="M172.8 1109.9H179.1V1086.9H188.5V1063.9H242V1040.9H251.5V1018H257.8V995H270.3V972H273.5V949H298.7V926H333.3V903H339.6V880H355.3V857H364.7V834H386.8V811.1H399.4V788.1H449.7V765.1H515.8V742.1H550.4" fill="none" stroke="#dd8452" stroke-width="1.5" stroke-opacity="0.42"/>
<path d="M172.8 1109.9V1086.9H179.1V1063.9H185.4V1040.9H238.9V1018H248.3V995H254.6V972H260.9V949H273.5V926H289.2V903H327V880H342.7V857H355.3V834H364.7V811.1H389.9V788.1H402.5V765.1H449.7V742.1H550.4" fill="none" stroke="#55a868" stroke-width="1.5" stroke-opacity="0.42"/>
<path d="M172.8 1109.9H179.1V1086.9H185.4V1063.9H191.7V1040.9H248.3V1018H254.6V995H260.9V972H273.5V949H282.9V926H308.1V903H336.4V880H355.3V857H361.6V834H380.5V811.1H396.2V788.1H443.4V765.1H515.8V742.1H550.4" fill="none" stroke="#c44e52" stroke-width="1.5" stroke-opacity="0.42"/>
<path d="M172.8 1109.9H175.9V1086.9H179.1V1063.9H229.4V1040.9H242V1018H251.5V995H254.6V972H270.3V949H279.8V926H305V903H327V880H345.9V857H358.5V834H367.9V811.1H389.9V788.1H434V765.1H506.4V742.1H550.4" fill="none" stroke="#8172b3" stroke-width="1.5" stroke-opacity="0.42"/>
<path d="M172.8 1109.9H175.9V1086.9H182.2V1063.9H191.7V1040.9H248.3V1018H251.5V995H260.9V972H270.3V949H286.1V926H317.5V903H339.6V880H352.2V857H358.5V834H383.6V811.1H399.4V788.1H437.1V765.1H506.4V742.1H550.4" fill="none" stroke="#937860" stroke-width="1.5" stroke-opacity="0.42"/>
<path d="M172.8 1109.9V1086.9H179.1V1063.9H194.8V1040.9H238.9V1018H248.3V995H254.6V972H260.9V949H276.6V926H305V903H320.7V880H352.2V857H355.3V834H380.5V811.1H389.9V788.1H418.2V765.1H506.4V742.1H550.4" fill="none" stroke="#da8bc3" stroke-width="1.5" stroke-opacity="0.42"/>
<path d="M172.8 1109.9H175.9V1086.9H182.2V1063.9H185.4V1040.9H238.9V1018H248.3V995H257.8V972H264V949H270.3V926H301.8V903H317.5V880H345.9V857H358.5V834H367.9V811.1H386.8V788.1H402.5V765.1H503.2V742.1H550.4" fill="none" stroke="#8c8c8c" stroke-width="1.5" stroke-opacity="0.42"/>
<path d="M172.8 1109.9H175.9V1086.9H185.4V1063.9H242V1040.9H248.3V1018H254.6V995H260.9V972H273.5V949H286.1V926H305V903H336.4V880H352.2V857H364.7V834H371V811.1H399.4V788.1H440.3V765.1H512.7V742.1H550.4" fill="none" stroke="#ccb974" stroke-width="1.5" stroke-opacity="0.42"/>
<path d="M172.8 1109.9H179.1V1086.9H182.2V1063.9H242V1040.9H248.3V1018H251.5V995H260.9V972H264V949H289.2V926H314.4V903H345.9V880H355.3V857H364.7V834H386.8V811.1H396.2V788.1H449.7V765.1H512.7V742.1H550.4" fill="none" stroke="#64b5cd" stroke-width="1.5" stroke-opacity="0.42"/>
<path d="M172.8 1109.9V1086.9H179.1V1063.9H188.5V1040.9H242V1018H251.5V995H257.8V972H264V949H273.5V926H292.4V903H330.1V880H342.7V857H358.5V834H367.9V811.1H393.1V788.1H408.8V765.1H503.2V742.1H550.4" fill="none" stroke="#4c72b0" stroke-width="1.5" stroke-opacity="0.42"/>
<path d="M172.8 1109.9H179.1V1086.9H185.4V1063.9H188.5V1040.9H251.5V1018H257.8V995H260.9V972H267.2V949H276.6V926H295.5V903H333.3V880H352.2V857H358.5V834H374.2V811.1H393.1V788.1H415.1V765.1H509.5V742.1H550.4" fill="none" stroke="#dd8452" stroke-width="1.5" stroke-opacity="0.42"/>
<path d="M172.8 1109.9H179.1V1086.9H188.5V1063.9V1040.9H248.3V1018H257.8V995H264V972H273.5V949H282.9V926H301.8V903H339.6V880H355.3V857H361.6V834H374.2V811.1H396.2V788.1H443.4V765.1H509.5V742.1H550.4" fill="none" stroke="#55a868" stroke-width="1.5" stroke-opacity="0.42"/>
<path d="M172.8 1109.9V1086.9H175.9V1063.9H229.4V1040.9H242V1018H248.3V995H251.5V972H260.9V949H282.9V926H289.2V903H327V880H345.9V857H358.5V834H374.2V811.1H389.9V788.1H437.1V765.1H503.2V742.1H550.4" fill="none" stroke="#c44e52" stroke-width="1.5" stroke-opacity="0.42"/>
<path d="M172.8 1109.9H175.9V1086.9H188.5V1063.9H238.9V1040.9H248.3V1018H254.6V995H260.9V972H273.5V949H292.4V926H317.5V903H349V880H352.2V857H364.7V834H389.9V811.1H399.4V788.1H446.6V765.1H522.1V742.1H550.4" fill="none" stroke="#8172b3" stroke-width="1.5" stroke-opacity="0.42"/>
<path d="M172.8 1109.9H182.2V1086.9H191.7V1063.9H245.2V1040.9H254.6V1018H257.8V995H264V972H282.9V949H308.1V926H336.4V903H345.9V880H361.6V857H383.6V834H393.1V811.1H440.3V788.1H509.5V765.1H541V742.1H550.4" fill="none" stroke="#937860" stroke-width="1.5" stroke-opacity="0.42"/>
<path d="M172.8 1109.9V1086.9H182.2V1063.9H229.4V1040.9H245.2V1018H248.3V995H254.6V972H260.9V949H282.9V926H301.8V903H330.1V880H339.6V857H352.2V834H364.7V811.1H386.8V788.1H434V765.1H503.2V742.1H550.4" fill="none" stroke="#da8bc3" stroke-width="1.5" stroke-opacity="0.42"/>
<path d="M172.8 1109.9H179.1V1086.9H185.4V1063.9H191.7V1040.9H251.5V1018H254.6V995H257.8V972H267.2V949H276.6V926H305V903H323.8V880H349V857H364.7V834H374.2V811.1H393.1V788.1H440.3V765.1H509.5V742.1H550.4" fill="none" stroke="#8c8c8c" stroke-width="1.5" stroke-opacity="0.42"/>
<path d="M172.8 1109.9H179.1V1086.9H185.4V1063.9H245.2V1040.9H248.3V1018H254.6V995H260.9V972H270.3V949H289.2V926H305V903H342.7V880H358.5V857H364.7V834H386.8V811.1H396.2V788.1H452.9V765.1H512.7V742.1H550.4" fill="none" stroke="#ccb974" stroke-width="1.5" stroke-opacity="0.42"/>
<path d="M172.8 1109.9V1086.9H175.9V1063.9H182.2V1040.9H235.7V1018H245.2V995H251.5V972H257.8V949H273.5V926H279.8V903H305V880H336.4V857H352.2V834H361.6V811.1H383.6V788.1H402.5V765.1H456V742.1H550.4" fill="none" stroke="#64b5cd" stroke-width="1.5" stroke-opacity="0.42"/>
<path d="M172.8 1109.9V1086.9H179.1V1063.9H188.5V1040.9H245.2V1018H251.5V995H254.6V972H267.2V949H282.9V926H308.1V903H339.6V880H349V857H361.6V834H377.3V811.1H389.9V788.1H440.3V765.1H506.4V742.1H550.4" fill="none" stroke="#4c72b0" stroke-width="1.5" stroke-opacity="0.42"/>
<path d="M172.8 1109.9H175.9V1086.9H182.2V1063.9H188.5V1040.9H238.9V1018H248.3V995H257.8V972H264V949H273.5V926H295.5V903H317.5V880H342.7V857H355.3V834H364.7V811.1H383.6V788.1H405.7V765.1H506.4V742.1H550.4" fill="none" stroke="#dd8452" stroke-width="1.5" stroke-opacity="0.42"/>
<path d="M172.8 1109.9V1086.9H179.1V1063.9H194.8V1040.9H245.2V1018H248.3V995H251.5V972H260.9V949H279.8V926H298.7V903H330.1V880H342.7V857H358.5V834H367.9V811.1H386.8V788.1H424.5V765.1H506.4V742.1H550.4" fill="none" stroke="#55a868" stroke-width="1.5" stroke-opacity="0.42"/>
<path d="M172.8 1109.9H175.9V1086.9H182.2V1063.9H188.5V1040.9H242V1018H251.5V995H254.6V972H264V949H270.3V926H301.8V903H323.8V880H336.4V857H358.5V834H364.7V811.1H386.8V788.1H402.5V765.1H506.4V742.1H550.4" fill="none" stroke="#c44e52" stroke-width="1.5" stroke-opacity="0.42"/>
<path d="M172.8 1109.9V1086.9H179.1V1063.9H185.4V1040.9H242V1018H245.2V995H257.8V972H260.9V949H270.3V926H295.5V903H317.5V880H345.9V857H358.5V834V811.1H386.8V788.1H434V765.1H500.1V742.1H550.4" fill="none" stroke="#8172b3" stroke-width="1.5" stroke-opacity="0.42"/>
<path d="M172.8 1109.9V1086.9H179.1V1063.9H229.4V1040.9H245.2V1018H248.3V995H257.8V972H267.2V949H282.9V926H301.8V903H339.6V880H342.7V857H358.5V834H377.3V811.1H389.9V788.1H440.3V765.1H503.2V742.1H550.4" fill="none" stroke="#937860" stroke-width="1.5" stroke-opacity="0.42"/>
<path d="M172.8 1109.9H179.1V1086.9H185.4V1063.9H238.9V1040.9H248.3V1018H254.6V995H260.9V972H264V949H282.9V926H311.2V903H333.3V880H349V857H361.6V834H383.6V811.1H389.9V788.1H443.4V765.1H512.7V742.1H550.4" fill="none" stroke="#da8bc3" stroke-width="1.5" stroke-opacity="0.42"/>
<path d="M172.8 1109.9H175.9V1086.9H182.2V1063.9H242V1040.9H248.3V1018H251.5V995H260.9V972H276.6V949H292.4V926H333.3V903H345.9V880H358.5V857H367.9V834H383.6V811.1H427.7V788.1H456V765.1H512.7V742.1H550.4" fill="none" stroke="#8c8c8c" stroke-width="1.5" stroke-opacity="0.42"/>
<path d="M172.8 1109.9V1086.9H179.1V1063.9H182.2V1040.9H242V1018H245.2V995H251.5V972H260.9V949H270.3V926H282.9V903H308.1V880H339.6V857H355.3V834H361.6V811.1H383.6V788.1H402.5V765.1H500.1V742.1H550.4" fill="none" stroke="#ccb974" stroke-width="1.5" stroke-opacity="0.42"/>
<path d="M172.8 1109.9H179.1V1086.9H188.5V1063.9H201.1V1040.9H251.5V1018H257.8V995H260.9V972H273.5V949H286.1V926H308.1V903H336.4V880H352.2V857H361.6V834H386.8V811.1H396.2V788.1H443.4V765.1H515.8V742.1H550.4" fill="none" stroke="#64b5cd" stroke-width="1.5" stroke-opacity="0.42"/>
<path d="M172.8 1109.9H175.9V1086.9H185.4V1063.9H232.6V1040.9H251.5V1018H257.8V995H264V972H273.5V949H292.4V926H311.2V903H339.6V880H358.5V857H364.7V834H386.8V811.1H396.2V788.1H443.4V765.1H512.7V742.1H550.4" fill="none" stroke="#4c72b0" stroke-width="1.5" stroke-opacity="0.42"/>
<path d="M172.8 1109.9H175.9V1086.9H179.1V1063.9H185.4V1040.9H238.9V1018H248.3V995H254.6V972H260.9V949H276.6V926H301.8V903H330.1V880H336.4V857H352.2V834H367.9V811.1H389.9V788.1H427.7V765.1H452.9V742.1H550.4" fill="none" stroke="#dd8452" stroke-width="1.5" stroke-opacity="0.42"/>
<path d="M172.8 1109.9H179.1V1086.9H185.4V1063.9H194.8V1040.9H248.3V1018H254.6V995H264V972H273.5V949H292.4V926H308.1V903H333.3V880H355.3V857H367.9V834H389.9V811.1H396.2V788.1H443.4V765.1H512.7V742.1H550.4" fill="none" stroke="#55a868" stroke-width="1.5" stroke-opacity="0.42"/>
<path d="M172.8 1109.9H175.9V1086.9H179.1V1063.9H185.4V1040.9H238.9V1018H248.3V995H251.5V972H257.8V949H273.5V926H292.4V903H323.8V880H330.1V857H355.3V834H364.7V811.1H386.8V788.1H396.2V765.1H503.2V742.1H550.4" fill="none" stroke="#c44e52" stroke-width="1.5" stroke-opacity="0.42"/>
<path d="M172.8 1109.9H179.1V1086.9H185.4V1063.9H245.2V1040.9H251.5V1018H254.6V995H264V972H273.5V949H292.4V926H314.4V903H349V880H358.5V857H364.7V834H386.8V811.1H393.1V788.1H456V765.1H512.7V742.1H550.4" fill="none" stroke="#8172b3" stroke-width="1.5" stroke-opacity="0.42"/>
<path d="M172.8 1109.9V1086.9H182.2V1063.9H198V1040.9H245.2V1018H251.5V995H257.8V972H270.3V949H286.1V926H301.8V903H339.6V880H352.2V857H358.5V834H377.3V811.1H386.8V788.1H434V765.1H506.4V742.1H550.4" fill="none" stroke="#937860" stroke-width="1.5" stroke-opacity="0.42"/>
<path d="M172.8 1109.9V1086.9H179.1V1063.9H185.4V1040.9H194.8V1018H245.2V995H251.5V972H260.9V949H267.2V926H279.8V903H308.1V880H333.3V857H352.2V834H364.7V811.1H374.2V788.1H393.1V765.1H446.6V742.1H550.4" fill="none" stroke="#da8bc3" stroke-width="1.5" stroke-opacity="0.42"/>
<path d="M172.8 1109.9V1086.9H179.1V1063.9H188.5V1040.9H245.2V1018H251.5V995H257.8V972H264V949H279.8V926H301.8V903H330.1V880H352.2V857H358.5V834H367.9V811.1H393.1V788.1H434V765.1H506.4V742.1H550.4" fill="none" stroke="#8c8c8c" stroke-width="1.5" stroke-opacity="0.42"/>
<path d="M172.8 1109.9H175.9V1086.9H185.4V1063.9H245.2V1040.9H248.3V1018H251.5V995H264V972H282.9V949H295.5V926H317.5V903H349V880H355.3V857H361.6V834H383.6V811.1H396.2V788.1H452.9V765.1H537.8V742.1H550.4" fill="none" stroke="#ccb974" stroke-width="1.5" stroke-opacity="0.42"/>
<path d="M172.8 1109.9H179.1V1086.9H185.4V1063.9H245.2V1040.9H251.5V1018H257.8V995H264V972H273.5V949H292.4V926H320.7V903H345.9V880H361.6V857H367.9V834H393.1V811.1H437.1V788.1H446.6V765.1H537.8V742.1H550.4" fill="none" stroke="#64b5cd" stroke-width="1.5" stroke-opacity="0.42"/>
<line x1="172.8" y1="1109.9" x2="550.4" y2="742.1" stroke="#8e8e8e" stroke-width="2.9" stroke-dasharray="9.3 4"/>
<path d="M172.8 1109.9 173.5 1107.6 177.9 1092.7 179.3 1087.7 184 1070.8 185.3 1066.6 189.1 1056.3 190.7 1054.2 197.2 1051.4 202.1 1051 226.4 1051 231.1 1050.6 236.7 1048.4 238.2 1047.4 241.9 1043.1 243.1 1040.5 246.8 1028.3 248 1024 251.8 1009.1 252.9 1004.4 256.7 989.4 258.1 984.6 263.7 968.7 265.7 964.2 272.2 952.1 274.6 948.7 283 939.4 285.8 936.1 295.1 924.9 298.1 921.5 307.4 911.2 310.1 908.5 317.5 901.6 319.9 900 327.4 896.6 329.7 894.6 337.2 885.3 339.9 881.9 349.2 869.7 351.6 865.9 357.2 853.8 358.9 849.8 364.5 836.7 366.3 833.3 371.9 824.9 373.7 823.4 379.3 822.1 380.9 820.7 385.6 813.6 387.7 809.9 396.1 793 398.6 789.6 406 784.3 409.3 783.3 422.4 782.2 425.6 781.8 433.1 780.3 435.5 778.9 442.9 771.8 445.9 769.8 457.1 764.2 464.2 763.3 497.8 762.9 503.7 761.9 507.4 755.7 508.9 753.6 514.5 746.1 516.6 744.6 524.1 742.7 528.3 742.4 547.4 742.1 550.4 742.1" fill="none" stroke="#5863ad" stroke-width="5.2" stroke-linejoin="round" stroke-linecap="butt"/>
</g>
<text x="240.7" y="1109.5" font-size="43.7" font-weight="bold" style="fill:#6267b2">0.64 (0.59, 0.69)</text>
<rect x="153.9" y="723.7" width="415.4" height="404.6" fill="none" stroke="#231f20" stroke-width="2.0"/>
<path d="M172.8 1128.3V1136.8M267.2 1128.3V1136.8M361.6 1128.3V1136.8M456 1128.3V1136.8M550.4 1128.3V1136.8M153.9 1109.9H145.4M153.9 1036.3H145.4M153.9 962.8H145.4M153.9 889.2H145.4M153.9 815.7H145.4M153.9 742.1H145.4" stroke="#231f20" stroke-width="1.9" fill="none"/>
<text x="177" y="1165.2" font-size="31.4" text-anchor="middle">0.0</text>
<text x="265.7" y="1165.2" font-size="31.4" text-anchor="middle">0.25</text>
<text x="360.6" y="1165.2" font-size="31.4" text-anchor="middle">0.50</text>
<text x="453" y="1165.2" font-size="31.4" text-anchor="middle">0.75</text>
<text x="547.4" y="1165.2" font-size="31.4" text-anchor="middle">1.0</text>
<text x="137.3" y="1113.4" font-size="31.4" text-anchor="end">0.0</text>
<text x="137.3" y="1040.9" font-size="31.4" text-anchor="end">0.2</text>
<text x="137.3" y="968.5" font-size="31.4" text-anchor="end">0.4</text>
<text x="137.3" y="896" font-size="31.4" text-anchor="end">0.6</text>
<text x="137.3" y="823.6" font-size="31.4" text-anchor="end">0.8</text>
<text x="137.3" y="751.1" font-size="31.4" text-anchor="end">1.0</text>
<text x="367.8" y="1206.6" font-size="37.5" text-anchor="middle">false positive rate</text>
<text transform="translate(78.7 928.5) rotate(-90)" font-size="37.7" text-anchor="middle">true positive rate</text>
<clipPath id="c4"><rect x="700" y="723.7" width="414.9" height="404.6"/></clipPath>
<g clip-path="url(#c4)">
<polygon fill="#e2e3e6" points="718.9,1106.2 719.8,1098.6 720.7,1091.1 721.7,1083.5 722.1,1079.9 722.6,1077.6 723.6,1073.4 724.5,1069.1 725.5,1064.8 726.4,1060.5 727,1057.6 727.3,1056.9 728.3,1054.7 729.2,1052.5 730.2,1050.4 731.1,1049.4 732.1,1048.4 733,1047.4 733.9,1046.4 734.4,1045.9 734.9,1045.8 735.8,1045.6 736.8,1045.4 737.7,1045.2 738.7,1045 739.6,1044.9 740.5,1044.7 741.5,1044.5 742.4,1044.3 743,1044.2 743.4,1043.5 744.3,1041.5 745.3,1039.6 746.2,1037.7 747.1,1035.7 748.1,1033.8 749,1031.8 749.2,1031.6 750,1029.4 750.9,1026.8 751.9,1024.2 752.8,1021.7 753.7,1019.1 754.7,1016.5 755.6,1014 756.5,1011.5 756.6,1011.4 757.5,1008.5 758.5,1005.6 759.4,1002.8 760.3,999.9 761.3,997 762.2,994.1 763.2,991.2 763.9,989 764.1,988.4 765.1,985.5 766,982.6 766.9,979.7 767.9,976.8 768.8,974 769.8,971.1 770.7,968.2 771.7,965.3 772.6,962.4 773.6,959.6 773.8,958.9 774.5,956.2 775.4,952.7 776.4,949.2 777.3,945.7 778.3,942.2 779.2,938.6 780.2,935.1 781.1,931.6 781.1,931.5 782,929.4 783,927.2 783.9,925.1 784.9,922.9 785.8,920.7 786.8,918.5 787.7,916.4 788.6,914.2 789.6,912 790.5,909.9 791,908.8 791.5,907.4 792.4,904.8 793.4,902.1 794.3,899.5 795.2,896.9 796.2,894.2 797.1,891.6 798.1,888.9 799,886.3 800,883.6 800.8,881.3 800.9,881.1 801.8,879.1 802.8,877.2 803.7,875.2 804.7,873.3 805.6,871.4 806.6,869.4 807.5,867.5 808.4,865.6 809.4,863.6 810.3,861.7 810.6,861.1 811.3,859.8 812.2,857.8 813.2,855.9 814.1,853.9 815,852 816,850.1 816.9,848.1 817.9,846.2 818.8,844.3 819.8,842.3 820.5,840.9 820.7,840.5 821.6,839 822.6,837.6 823.5,836.1 824.5,834.6 825.4,833.2 826.4,831.7 827.3,830.2 828.2,828.8 829.2,827.3 830.1,825.8 830.3,825.6 831.1,824.8 832,823.8 833,822.8 833.9,821.8 834.8,820.9 835.8,819.9 836.7,818.9 837.7,818 838.6,817 839.6,816 840.5,815.1 841.4,814.1 842.4,813.1 842.6,812.9 843.3,812.8 844.3,812.5 845.2,812.3 846.2,812.1 847.1,811.9 848,811.7 849,811.5 849.9,811.3 850.9,811.1 851.8,810.9 852.4,810.7 852.8,810.6 853.7,810.1 854.6,809.7 855.6,809.3 856.5,808.9 857.5,808.5 858.4,808 859.4,807.6 860.3,807.2 861.2,806.8 862.2,806.3 862.3,806.3 863.1,805.3 864.1,804.3 865,803.2 866,802.1 866.9,801.1 867.8,800 868.8,799 869.7,797.9 870.7,796.8 871.6,795.8 872.6,794.7 873.5,793.7 874.4,792.6 874.6,792.5 875.4,790.5 876.3,788.3 877.3,786.1 878.2,783.8 879.2,781.6 880.1,779.4 881,777.2 881.9,775.1 882,775 882.9,774.1 883.9,773.1 884.8,772.1 885.8,771.2 886.7,770.2 887.6,769.2 888.6,768.3 889.3,767.5 889.5,767.4 890.5,767.1 891.4,766.7 892.4,766.3 893.3,765.9 894.2,765.6 895.2,765.2 896.1,764.8 897.1,764.4 898,764.1 899,763.7 899.1,763.6 899.9,763.5 900.8,763.4 901.8,763.3 902.7,763.2 903.7,763.2 904.6,763.1 905.6,763 906.5,762.9 907.5,762.8 908.4,762.8 909,762.8 909.3,762.7 910.3,762.4 911.2,762.1 912.2,761.8 913.1,761.5 914.1,761.2 915,760.8 915.9,760.5 916.9,760.2 917.8,759.9 918.8,759.6 918.8,759.6 919.7,758.6 920.7,757.6 921.6,756.6 922.5,755.6 923.5,754.6 924.4,753.6 925.4,752.6 926.2,751.7 926.3,751.5 927.3,749.5 928.2,747.5 929.1,745.6 930.1,743.6 931,742.1 932,742.1 932.9,742.1 933.6,742.1 933.9,742.1 934.8,742.1 935.7,742.1 936.7,742.1 937.6,742.1 938.6,742.1 939.5,742.1 940.5,742.1 941.4,742.1 942.3,742.1 943.3,742.1 944.2,742.1 945.2,742.1 945.9,742.1 946.1,742.1 947.1,742.1 948,742.1 948.9,742.1 949.9,742.1 950.8,742.1 951.8,742.1 952.7,742.1 953.7,742.1 954.6,742.1 955.5,742.1 956.5,742.1 957.4,742.1 958.1,742.1 958.4,742.1 959.3,742.1 960.3,742.1 961.2,742.1 962.1,742.1 963.1,742.1 964,742.1 965,742.1 965.9,742.1 966.9,742.1 967.8,742.1 968.7,742.1 969.7,742.1 970.6,742.1 971.6,742.1 972.5,742.1 972.9,742.1 973.5,742.1 974.4,742.1 975.3,742.1 976.3,742.1 977.2,742.1 978.2,742.1 979.1,742.1 980.1,742.1 981,742.1 981.9,742.1 982.9,742.1 983.8,742.1 984.8,742.1 985.7,742.1 986.7,742.1 987.6,742.1 988.5,742.1 989.5,742.1 990.4,742.1 991.4,742.1 992.3,742.1 993.3,742.1 994.2,742.1 995.1,742.1 996.1,742.1 997,742.1 998,742.4 998.9,742.4 999.9,742.4 1000.8,742.4 1001.7,742.4 1002.7,742.4 1003.6,742.4 1004.6,742.3 1005.5,742.3 1006.5,742.3 1007.4,742.3 1008.3,742.3 1009.3,742.3 1010.2,742.3 1011.2,742.3 1012.1,742.3 1013.1,742.3 1014,742.3 1014.9,742.3 1015.9,742.3 1016.8,742.3 1017.8,742.3 1018.7,742.3 1019.7,742.3 1020.6,742.3 1021.5,742.3 1022.5,742.3 1023.4,742.3 1024.4,742.3 1025.3,742.3 1026.3,742.3 1027.2,742.3 1028.1,742.3 1029.1,742.3 1030,742.3 1031,742.3 1031.9,742.3 1032.9,742.3 1033.8,742.3 1034.7,742.3 1035.7,742.3 1036.6,742.3 1037.6,742.3 1038.5,742.3 1039.5,742.3 1040.4,742.2 1041.3,742.2 1042.3,742.2 1043.2,742.2 1044.2,742.2 1045.1,742.2 1046.1,742.2 1047,742.2 1048,742.2 1048.9,742.2 1049.8,742.2 1050.8,742.2 1051.7,742.2 1052.7,742.2 1053.6,742.2 1054.6,742.2 1055.5,742.2 1056.4,742.2 1057.4,742.2 1058.3,742.2 1059.3,742.2 1060.2,742.2 1061.2,742.2 1062.1,742.2 1063,742.2 1064,742.2 1064.9,742.2 1065.9,742.2 1066.8,742.2 1067.8,742.2 1068.7,742.2 1069.6,742.2 1070.6,742.2 1071.5,742.2 1072.5,742.2 1073.4,742.2 1074.4,742.2 1075.3,742.1 1076.2,742.1 1077.2,742.1 1078.1,742.1 1079.1,742.1 1080,742.1 1081,742.1 1081.9,742.1 1082.8,742.1 1083.8,742.1 1084.7,742.1 1085.7,742.1 1086.6,742.1 1087.6,742.1 1088.5,742.1 1089.4,742.1 1090.4,742.1 1091.3,742.1 1092.3,742.1 1093.2,742.1 1094.2,742.1 1095.1,742.1 1096,742.1 1096,742.1 1095.1,742.1 1094.2,742.1 1093.2,742.1 1092.3,742.1 1091.3,742.1 1090.4,742.1 1089.4,742.1 1088.5,742.1 1087.6,742.1 1086.6,742.1 1085.7,742.1 1084.7,742.1 1083.8,742.1 1082.8,742.1 1081.9,742.1 1081,742.1 1080,742.1 1079.1,742.1 1078.1,742.1 1077.2,742.1 1076.2,742.1 1075.3,742.1 1074.4,742.2 1073.4,742.2 1072.5,742.2 1071.5,742.2 1070.6,742.2 1069.6,742.2 1068.7,742.2 1067.8,742.2 1066.8,742.2 1065.9,742.2 1064.9,742.2 1064,742.2 1063,742.2 1062.1,742.2 1061.2,742.2 1060.2,742.2 1059.3,742.2 1058.3,742.2 1057.4,742.2 1056.4,742.2 1055.5,742.2 1054.6,742.2 1053.6,742.2 1052.7,742.2 1051.7,742.2 1050.8,742.2 1049.8,742.2 1048.9,742.2 1048,742.2 1047,742.2 1046.1,742.2 1045.1,742.2 1044.2,742.2 1043.2,742.2 1042.3,742.2 1041.3,742.2 1040.4,742.2 1039.5,742.3 1038.5,742.3 1037.6,742.3 1036.6,742.3 1035.7,742.3 1034.7,742.3 1033.8,742.3 1032.9,742.3 1031.9,742.3 1031,742.3 1030,742.3 1029.1,742.3 1028.1,742.3 1027.2,742.3 1026.3,742.3 1025.3,742.3 1024.4,742.3 1023.4,742.3 1022.5,742.3 1021.5,742.3 1020.6,742.3 1019.7,742.3 1018.7,742.3 1017.8,742.3 1016.8,742.3 1015.9,742.3 1014.9,742.3 1014,742.3 1013.1,742.3 1012.1,742.3 1011.2,742.3 1010.2,742.3 1009.3,742.3 1008.3,742.3 1007.4,742.3 1006.5,742.3 1005.5,742.3 1004.6,742.3 1003.6,742.4 1002.7,742.4 1001.7,742.4 1000.8,742.4 999.9,742.4 998.9,742.4 998,742.4 997,742.8 996.1,743.2 995.1,743.6 994.2,744 993.3,744.4 992.3,744.8 991.4,745.2 990.4,745.6 989.5,746 988.5,746.4 987.6,746.8 986.7,747.2 985.7,747.6 984.8,748 983.8,748.4 982.9,748.8 981.9,749.3 981,749.7 980.1,750.1 979.1,750.5 978.2,750.9 977.2,751.3 976.3,751.7 975.3,752.1 974.4,752.5 973.5,752.9 972.9,753.1 972.5,753.4 971.6,753.9 970.6,754.5 969.7,755 968.7,755.6 967.8,756.2 966.9,756.7 965.9,757.2 965,757.8 964,758.3 963.1,758.9 962.1,759.4 961.2,759.9 960.3,760.5 959.3,761 958.4,761.6 958.1,761.7 957.4,762.3 956.5,763.2 955.5,764.1 954.6,764.9 953.7,765.8 952.7,766.6 951.8,767.5 950.8,768.3 949.9,769.2 948.9,770 948,770.9 947.1,771.7 946.1,772.6 945.9,772.8 945.2,773.6 944.2,774.3 943.3,775.1 942.3,775.8 941.4,776.6 940.5,777.4 939.5,778.1 938.6,778.9 937.6,779.6 936.7,780.4 935.7,781.1 934.8,781.9 933.9,782.6 933.6,782.8 932.9,784.3 932,786.5 931,788.6 930.1,790.7 929.1,792.9 928.2,795 927.3,797.1 926.3,799.3 926.2,799.5 925.4,800.6 924.4,801.8 923.5,803 922.5,804.2 921.6,805.4 920.7,806.5 919.7,807.7 918.8,808.9 918.8,808.9 917.8,809.4 916.9,809.9 915.9,810.4 915,810.9 914.1,811.4 913.1,811.9 912.2,812.3 911.2,812.8 910.3,813.3 909.3,813.8 909,814 908.4,814.1 907.5,814.3 906.5,814.3 905.6,814.4 904.6,814.4 903.7,814.5 902.7,814.5 901.8,814.6 900.8,814.6 899.9,814.7 899.1,814.7 899,814.8 898,815.1 897.1,815.4 896.1,815.7 895.2,816.1 894.2,816.4 893.3,816.7 892.4,817.1 891.4,817.4 890.5,817.7 889.5,818.1 889.3,818.1 888.6,818.8 887.6,819.8 886.7,820.7 885.8,821.6 884.8,822.5 883.9,823.4 882.9,824.4 882,825.3 881.9,825.3 881,827.4 880.1,829.6 879.2,831.7 878.2,833.9 877.3,836.1 876.3,838.3 875.4,840.4 874.6,842.4 874.4,842.5 873.5,843.5 872.6,844.5 871.6,845.5 870.7,846.5 869.7,847.6 868.8,848.6 867.8,849.6 866.9,850.6 866,851.6 865,852.6 864.1,853.6 863.1,854.7 862.3,855.6 862.2,855.6 861.2,856 860.3,856.4 859.4,856.8 858.4,857.1 857.5,857.5 856.5,857.9 855.6,858.3 854.6,858.6 853.7,859 852.8,859.4 852.4,859.5 851.8,859.6 850.9,859.8 849.9,860 849,860.1 848,860.3 847.1,860.5 846.2,860.6 845.2,860.8 844.3,861 843.3,861.1 842.6,861.3 842.4,861.5 841.4,862.4 840.5,863.3 839.6,864.2 838.6,865.1 837.7,866.1 836.7,867 835.8,867.9 834.8,868.8 833.9,869.7 833,870.7 832,871.6 831.1,872.5 830.3,873.2 830.1,873.5 829.2,874.8 828.2,876.2 827.3,877.5 826.4,878.9 825.4,880.3 824.5,881.6 823.5,883 822.6,884.4 821.6,885.7 820.7,887.1 820.5,887.4 819.8,888.8 818.8,890.6 817.9,892.5 816.9,894.3 816,896.1 815,898 814.1,899.8 813.2,901.6 812.2,903.5 811.3,905.3 810.6,906.6 810.3,907.2 809.4,909 808.4,910.8 807.5,912.7 806.6,914.5 805.6,916.3 804.7,918.2 803.7,920 802.8,921.8 801.8,923.7 800.9,925.5 800.8,925.7 800,928 799,930.5 798.1,933.1 797.1,935.6 796.2,938.1 795.2,940.7 794.3,943.2 793.4,945.8 792.4,948.3 791.5,950.9 791,952.2 790.5,953.2 789.6,955.2 788.6,957.3 787.7,959.4 786.8,961.5 785.8,963.5 784.9,965.6 783.9,967.7 783,969.7 782,971.8 781.1,973.8 781.1,973.9 780.2,977.3 779.2,980.7 778.3,984.1 777.3,987.6 776.4,991 775.4,994.4 774.5,997.8 773.8,1000.4 773.6,1001 772.6,1003.8 771.7,1006.6 770.7,1009.4 769.8,1012.2 768.8,1014.9 767.9,1017.7 766.9,1020.5 766,1023.3 765.1,1026 764.1,1028.8 763.9,1029.4 763.2,1031.6 762.2,1034.4 761.3,1037.2 760.3,1039.9 759.4,1042.7 758.5,1045.5 757.5,1048.3 756.6,1051 756.5,1051.1 755.6,1053.5 754.7,1056 753.7,1058.4 752.8,1060.9 751.9,1063.4 750.9,1065.8 750,1068.3 749.2,1070.4 749,1070.7 748.1,1072.5 747.1,1074.3 746.2,1076.2 745.3,1078 744.3,1079.8 743.4,1081.7 743,1082.4 742.4,1082.4 741.5,1082.5 740.5,1082.6 739.6,1082.7 738.7,1082.8 737.7,1082.8 736.8,1082.9 735.8,1083 734.9,1083.1 734.4,1083.1 733.9,1083.6 733,1084.5 732.1,1085.4 731.1,1086.3 730.2,1087.1 729.2,1086.9 728.3,1086.6 727.3,1086.3 727,1086.2 726.4,1087.5 725.5,1089.3 724.5,1091.1 723.6,1093 722.6,1094.8 722.1,1095.8 721.7,1098.2 720.7,1103.3 719.8,1108.5 718.9,1109.9"/>
<path d="M718.9 1109.9H728.3V1083.6H756.6V1057.4H759.7V1031.1H769.1V1004.8H781.7V978.5H791.2V952.3H803.7V926V899.7H841.4V873.5H866.6V847.2H891.7V820.9V794.6H942V768.4H1033.2V742.1H1096" fill="none" stroke="#4c72b0" stroke-width="1.5" stroke-opacity="0.42"/>
<path d="M718.9 1109.9H722V1079.3H731.4V1048.6H756.6V1018H762.9V987.3H778.6V956.7H784.9V926H800.6V895.3H813.2V864.7H825.7V834H860.3V803.4H901.2V772.7H935.7V742.1H1096" fill="none" stroke="#dd8452" stroke-width="1.5" stroke-opacity="0.42"/>
<path d="M718.9 1109.9H725.1V1085.4H744V1060.9H756.6V1036.3H769.1V1011.8H772.3V987.3H781.7V962.8H794.3V938.3H800.6V913.7H806.9V889.2H816.3V864.7H822.6V840.2H838.3V815.7H920V791.1H929.5V766.6H1033.2V742.1H1096" fill="none" stroke="#55a868" stroke-width="1.5" stroke-opacity="0.42"/>
<path d="M718.9 1109.9H725.1V1086.9H750.3V1063.9H756.6V1040.9H769.1V1018H775.4V995H784.9V972H788V949H797.4V926H806.9V903H816.3V880H838.3V857H876V834H913.7V811.1H923.2V788.1H942V765.1H1033.2V742.1H1096" fill="none" stroke="#c44e52" stroke-width="1.5" stroke-opacity="0.42"/>
<path d="M718.9 1109.9H722V1086.9H734.6V1063.9H744V1040.9H756.6V1018H762.9V995H769.1V972H775.4V949H788V926H794.3V903H803.7V880H822.6V857H841.4V834H866.6V811.1H920V788.1H926.3V765.1H935.7V742.1H1096" fill="none" stroke="#8172b3" stroke-width="1.5" stroke-opacity="0.42"/>
<path d="M718.9 1109.9V1085.4H725.1V1060.9H744V1036.3H756.6V1011.8H762.9V987.3H769.1V962.8H778.6V938.3H791.2V913.7H797.4V889.2H806.9V864.7H816.3V840.2H835.2V815.7H882.3V791.1H929.5V766.6H938.9V742.1H1096" fill="none" stroke="#937860" stroke-width="1.5" stroke-opacity="0.42"/>
<path d="M718.9 1109.9H725.1V1086.9H731.4V1063.9H756.6V1040.9H762.9V1018H775.4V995H778.6V972H784.9V949H797.4V926H810V903H816.3V880H866.6V857V834H888.6V811.1H923.2V788.1H929.5V765.1H1030V742.1H1096" fill="none" stroke="#da8bc3" stroke-width="1.5" stroke-opacity="0.42"/>
<path d="M718.9 1109.9V1081.6V1053.3H740.9V1025H753.4V996.7H759.7V968.4H772.3V940.1H781.7V911.9H791.2V883.6H806.9V855.3H825.7V827H866.6V798.7H879.2V770.4H929.5V742.1H1096" fill="none" stroke="#8c8c8c" stroke-width="1.5" stroke-opacity="0.42"/>
<path d="M718.9 1109.9H722V1079.3H725.1V1048.6H747.1V1018H762.9V987.3H769.1V956.7H775.4V926H781.7V895.3H794.3V864.7H810V834H838.3V803.4H882.3V772.7H929.5V742.1H1096" fill="none" stroke="#ccb974" stroke-width="1.5" stroke-opacity="0.42"/>
<path d="M718.9 1109.9H725.1V1079.3H756.6V1048.6H759.7V1018H775.4V987.3H784.9V956.7H794.3V926H810V895.3H828.9V864.7H866.6V834H879.2V803.4H932.6V772.7H951.5V742.1H1096" fill="none" stroke="#64b5cd" stroke-width="1.5" stroke-opacity="0.42"/>
<path d="M718.9 1109.9V1086.9V1063.9V1040.9H747.1V1018H753.4V995H759.7V972H769.1V949H778.6V926V903H794.3V880H810V857H813.2V834H838.3V811.1H863.4V788.1H907.5V765.1H926.3V742.1H1096" fill="none" stroke="#4c72b0" stroke-width="1.5" stroke-opacity="0.42"/>
<path d="M718.9 1109.9V1085.4H725.1V1060.9H750.3V1036.3H759.7V1011.8H762.9V987.3H769.1V962.8H788V938.3H797.4V913.7H800.6V889.2H806.9V864.7H828.9V840.2H876V815.7H879.2V791.1H932.6V766.6H954.6V742.1H1096" fill="none" stroke="#dd8452" stroke-width="1.5" stroke-opacity="0.42"/>
<path d="M718.9 1109.9V1081.6H722V1053.3H747.1V1025H756.6V996.7H766V968.4H772.3V940.1H788V911.9H800.6V883.6H813.2V855.3H838.3V827H872.9V798.7H907.5V770.4H929.5V742.1H1096" fill="none" stroke="#55a868" stroke-width="1.5" stroke-opacity="0.42"/>
<path d="M718.9 1109.9H728.3V1083.6H747.1V1057.4H759.7V1031.1H769.1V1004.8H775.4V978.5H791.2V952.3H803.7V926H819.4V899.7H825.7V873.5H863.4V847.2H882.3V820.9H929.5V794.6H932.6V768.4H1033.2V742.1H1096" fill="none" stroke="#c44e52" stroke-width="1.5" stroke-opacity="0.42"/>
<path d="M718.9 1109.9V1081.6V1053.3H747.1V1025H750.3V996.7H759.7V968.4H772.3V940.1H781.7V911.9H788V883.6H794.3V855.3H835.2V827H863.4V798.7H872.9V770.4H923.2V742.1H1096" fill="none" stroke="#8172b3" stroke-width="1.5" stroke-opacity="0.42"/>
<path d="M718.9 1109.9H722V1079.3H728.3V1048.6H753.4V1018H766V987.3H778.6V956.7H794.3V926H797.4V895.3H806.9V864.7H832V834H872.9V803.4H916.9V772.7H938.9V742.1H1096" fill="none" stroke="#937860" stroke-width="1.5" stroke-opacity="0.42"/>
<path d="M718.9 1109.9V1083.6H744V1057.4H747.1V1031.1H759.7V1004.8H769.1V978.5H778.6V952.3H788V926H797.4V899.7H803.7V873.5H816.3V847.2H854V820.9H894.9V794.6H920V768.4H932.6V742.1H1096" fill="none" stroke="#da8bc3" stroke-width="1.5" stroke-opacity="0.42"/>
<path d="M718.9 1109.9V1086.9V1063.9H750.3V1040.9H753.4V1018H762.9V995H772.3V972H775.4V949H788V926H794.3V903H806.9V880H822.6V857H857.2V834H860.3V811.1H885.4V788.1H926.3V765.1H929.5V742.1H1096" fill="none" stroke="#8c8c8c" stroke-width="1.5" stroke-opacity="0.42"/>
<path d="M718.9 1109.9H722V1085.4H725.1V1060.9H728.3V1036.3H753.4V1011.8H759.7V987.3H769.1V962.8H778.6V938.3H788V913.7H791.2V889.2H803.7V864.7H825.7V840.2H835.2V815.7H872.9V791.1H907.5V766.6H929.5V742.1H1096" fill="none" stroke="#ccb974" stroke-width="1.5" stroke-opacity="0.42"/>
<path d="M718.9 1109.9V1081.6H722V1053.3H728.3V1025H750.3V996.7H756.6V968.4H769.1V940.1H775.4V911.9H781.7V883.6H803.7V855.3H810V827H822.6V798.7H876V770.4H916.9V742.1H1096" fill="none" stroke="#64b5cd" stroke-width="1.5" stroke-opacity="0.42"/>
<path d="M718.9 1109.9V1086.9H725.1V1063.9H744V1040.9H756.6V1018H762.9V995H772.3V972H775.4V949H784.9V926H791.2V903H810V880H813.2V857H816.3V834H860.3V811.1H876V788.1H920V765.1H942V742.1H1096" fill="none" stroke="#4c72b0" stroke-width="1.5" stroke-opacity="0.42"/>
<path d="M718.9 1109.9V1085.4V1060.9H725.1V1036.3H747.1V1011.8H756.6V987.3H769.1V962.8H772.3V938.3H775.4V913.7H788V889.2H803.7V864.7H819.4V840.2H825.7V815.7H863.4V791.1H879.2V766.6H923.2V742.1H1096" fill="none" stroke="#dd8452" stroke-width="1.5" stroke-opacity="0.42"/>
<path d="M718.9 1109.9H722V1086.9H731.4V1063.9H753.4V1040.9H756.6V1018H762.9V995H778.6V972H781.7V949H788V926H794.3V903H813.2V880H822.6V857H869.7V834H879.2V811.1H888.6V788.1H926.3V765.1H942V742.1H1096" fill="none" stroke="#55a868" stroke-width="1.5" stroke-opacity="0.42"/>
<path d="M718.9 1109.9V1081.6H744V1053.3H750.3V1025H762.9V996.7H775.4V968.4V940.1H797.4V911.9H803.7V883.6H813.2V855.3H863.4V827H876V798.7H916.9V770.4H942V742.1H1096" fill="none" stroke="#c44e52" stroke-width="1.5" stroke-opacity="0.42"/>
<path d="M718.9 1109.9H725.1V1085.4H731.4V1060.9H734.6V1036.3H756.6V1011.8H762.9V987.3H778.6V962.8H781.7V938.3H788V913.7H803.7V889.2H825.7V864.7H832V840.2H863.4V815.7H876V791.1H920V766.6H938.9V742.1H1096" fill="none" stroke="#8172b3" stroke-width="1.5" stroke-opacity="0.42"/>
<path d="M718.9 1109.9H725.1V1086.9H734.6V1063.9H756.6V1040.9H762.9V1018H769.1V995H781.7V972H791.2V949H797.4V926H800.6V903H816.3V880H828.9V857H860.3V834H869.7V811.1H926.3V788.1H932.6V765.1H948.3V742.1H1096" fill="none" stroke="#937860" stroke-width="1.5" stroke-opacity="0.42"/>
<path d="M718.9 1109.9H725.1V1083.6H734.6V1057.4H762.9V1031.1H766V1004.8H778.6V978.5H784.9V952.3H794.3V926H803.7V899.7H810V873.5H835.2V847.2H844.6V820.9H916.9V794.6H923.2V768.4H948.3V742.1H1096" fill="none" stroke="#da8bc3" stroke-width="1.5" stroke-opacity="0.42"/>
<path d="M718.9 1109.9H722V1081.6H744V1053.3H753.4V1025H762.9V996.7H772.3V968.4H784.9V940.1H794.3V911.9H803.7V883.6H822.6V855.3H863.4V827H876V798.7H929.5V770.4H932.6V742.1H1096" fill="none" stroke="#8c8c8c" stroke-width="1.5" stroke-opacity="0.42"/>
<path d="M718.9 1109.9H722V1086.9H725.1V1063.9H750.3V1040.9H753.4V1018H759.7V995H772.3V972H778.6V949V926H797.4V903H800.6V880H813.2V857H835.2V834H869.7V811.1H882.3V788.1H929.5V765.1H938.9V742.1H1096" fill="none" stroke="#ccb974" stroke-width="1.5" stroke-opacity="0.42"/>
<path d="M718.9 1109.9H722V1079.3H747.1V1048.6H762.9V1018H766V987.3H775.4V956.7H794.3V926H797.4V895.3H822.6V864.7H863.4V834H872.9V803.4H916.9V772.7H954.6V742.1H1096" fill="none" stroke="#64b5cd" stroke-width="1.5" stroke-opacity="0.42"/>
<path d="M718.9 1109.9H722V1083.6H725.1V1057.4V1031.1H750.3V1004.8H759.7V978.5H769.1V952.3H772.3V926H794.3V899.7H797.4V873.5H806.9V847.2H822.6V820.9H869.7V794.6H894.9V768.4H929.5V742.1H1096" fill="none" stroke="#4c72b0" stroke-width="1.5" stroke-opacity="0.42"/>
<path d="M718.9 1109.9H728.3V1079.3H759.7V1048.6H772.3V1018H781.7V987.3H794.3V956.7H803.7V926H816.3V895.3H860.3V864.7H879.2V834H894.9V803.4H942V772.7H960.9V742.1H1096" fill="none" stroke="#dd8452" stroke-width="1.5" stroke-opacity="0.42"/>
<path d="M718.9 1109.9H725.1V1085.4H747.1V1060.9H759.7V1036.3H766V1011.8V987.3H778.6V962.8H791.2V938.3H797.4V913.7H800.6V889.2H819.4V864.7H869.7V840.2H876V815.7H882.3V791.1H926.3V766.6H970.3V742.1H1096" fill="none" stroke="#55a868" stroke-width="1.5" stroke-opacity="0.42"/>
<path d="M718.9 1109.9V1086.9H722V1063.9H740.9V1040.9H750.3V1018H759.7V995H772.3V972H775.4V949H788V926H791.2V903H800.6V880H806.9V857H832V834H872.9V811.1H882.3V788.1H923.2V765.1H945.2V742.1H1096" fill="none" stroke="#c44e52" stroke-width="1.5" stroke-opacity="0.42"/>
<path d="M718.9 1109.9H725.1V1083.6H734.6V1057.4H756.6V1031.1H769.1V1004.8H781.7V978.5H791.2V952.3H797.4V926H806.9V899.7H810V873.5H841.4V847.2H882.3V820.9V794.6H929.5V768.4H957.7V742.1H1096" fill="none" stroke="#8172b3" stroke-width="1.5" stroke-opacity="0.42"/>
<path d="M718.9 1109.9H725.1V1086.9H740.9V1063.9H750.3V1040.9H756.6V1018H769.1V995H778.6V972H791.2V949H794.3V926H806.9V903H813.2V880H828.9V857H869.7V834H876V811.1H926.3V788.1V765.1H951.5V742.1H1096" fill="none" stroke="#937860" stroke-width="1.5" stroke-opacity="0.42"/>
<path d="M718.9 1109.9H722V1086.9H728.3V1063.9H756.6V1040.9H759.7V1018H772.3V995H778.6V972H784.9V949H788V926H797.4V903H813.2V880H828.9V857H860.3V834H879.2V811.1H885.4V788.1H932.6V765.1H957.7V742.1H1096" fill="none" stroke="#da8bc3" stroke-width="1.5" stroke-opacity="0.42"/>
<path d="M718.9 1109.9H722V1085.4V1060.9H725.1V1036.3V1011.8H750.3V987.3H756.6V962.8H769.1V938.3H775.4V913.7H788V889.2H791.2V864.7H803.7V840.2H822.6V815.7H841.4V791.1H869.7V766.6H926.3V742.1H1096" fill="none" stroke="#8c8c8c" stroke-width="1.5" stroke-opacity="0.42"/>
<path d="M718.9 1109.9H722V1085.4V1060.9H750.3V1036.3H753.4V1011.8H759.7V987.3H766V962.8H772.3V938.3H778.6V913.7H791.2V889.2H806.9V864.7H813.2V840.2H841.4V815.7H857.2V791.1H879.2V766.6H932.6V742.1H1096" fill="none" stroke="#ccb974" stroke-width="1.5" stroke-opacity="0.42"/>
<path d="M718.9 1109.9V1083.6V1057.4H725.1V1031.1H744V1004.8H766V978.5V952.3H775.4V926H788V899.7H797.4V873.5H816.3V847.2V820.9H866.6V794.6H879.2V768.4H923.2V742.1H1096" fill="none" stroke="#64b5cd" stroke-width="1.5" stroke-opacity="0.42"/>
<line x1="718.9" y1="1109.9" x2="1096" y2="742.1" stroke="#8e8e8e" stroke-width="2.9" stroke-dasharray="9.3 4"/>
<path d="M718.9 1109.9 719.3 1107.3 721.7 1090.5 722.7 1085.9 726.5 1073.8 727.9 1071 733.5 1065.4 735.5 1064.4 742 1063.4 743.8 1061.8 748.4 1052.5 750.1 1048.6 755.7 1033.7 757.4 1028.7 763 1011.8 765.1 1005.6 772.6 983.2 774.6 976.4 780.2 955.9 782.3 950 789.8 933.2 792.1 927.3 799.6 906.7 802 901.1 809.5 886.2 811.8 881.4 819.3 866.5 821.6 862.4 829.1 851.2 831.8 847.9 841.1 838.6 843.8 836.9 851.2 835.4 853.6 834.6 861.1 831.4 863.7 829.3 873.1 819 875.4 815.4 881 802.3 882.8 799.3 888.4 793.7 890.5 792.4 898 789.6 900.3 789.1 907.8 788.5 910.2 787.9 917.6 784.7 919.7 783.2 925.3 776.7 927.1 773.7 932.7 761.6 935 758.6 944.4 752.1 947.3 750.3 956.7 745.6 959.9 744.6 971.1 742.7 987.7 742.4 1081.3 742.1 1096 742.1" fill="none" stroke="#5863ad" stroke-width="5.2" stroke-linejoin="round" stroke-linecap="butt"/>
</g>
<text x="783" y="1106.1" font-size="43.7" font-weight="bold" style="fill:#6267b2">0.76 (0.69, 0.83)</text>
<rect x="700" y="723.7" width="414.9" height="404.6" fill="none" stroke="#231f20" stroke-width="2.0"/>
<path d="M718.9 1128.3V1136.8M813.2 1128.3V1136.8M907.5 1128.3V1136.8M1001.7 1128.3V1136.8M1096 1128.3V1136.8M700 1109.9H691.5M700 1036.3H691.5M700 962.8H691.5M700 889.2H691.5M700 815.7H691.5M700 742.1H691.5" stroke="#231f20" stroke-width="1.9" fill="none"/>
<text x="725.5" y="1164.4" font-size="31.4" text-anchor="middle">0.0</text>
<text x="814.1" y="1164.4" font-size="31.4" text-anchor="middle">0.25</text>
<text x="908.9" y="1164.4" font-size="31.4" text-anchor="middle">0.50</text>
<text x="1001.1" y="1164.4" font-size="31.4" text-anchor="middle">0.75</text>
<text x="1095.4" y="1164.4" font-size="31.4" text-anchor="middle">1.0</text>
<text x="686.2" y="1113.4" font-size="31.4" text-anchor="end">0.0</text>
<text x="686.2" y="1040.9" font-size="31.4" text-anchor="end">0.2</text>
<text x="686.2" y="968.5" font-size="31.4" text-anchor="end">0.4</text>
<text x="686.2" y="896" font-size="31.4" text-anchor="end">0.6</text>
<text x="686.2" y="823.6" font-size="31.4" text-anchor="end">0.8</text>
<text x="686.2" y="751.1" font-size="31.4" text-anchor="end">1.0</text>
<text x="916.1" y="1206.6" font-size="37.5" text-anchor="middle">false positive rate</text>
<text transform="translate(626.3 924) rotate(-90)" font-size="37.7" text-anchor="middle">true positive rate</text>
<clipPath id="c5"><rect x="1271.6" y="723.7" width="415.2" height="404.3"/></clipPath>
<g clip-path="url(#c5)">
<polygon fill="#e2e3e6" points="1290.5,1105.9 1291.4,1102.3 1292.4,1098.6 1293.3,1094.9 1294.2,1091.2 1295.2,1087.5 1296.1,1083.9 1296.6,1082.1 1297.1,1079.3 1298,1074 1299,1068.7 1299.9,1063.4 1300.9,1058 1301.5,1054.4 1301.8,1053 1302.7,1048.6 1303.7,1044.2 1304.6,1039.8 1305.6,1035.5 1306.4,1032.5 1306.5,1032.3 1307.5,1031 1308.4,1029.6 1309.3,1028.3 1310.3,1026.9 1311.2,1025.6 1312.2,1024.2 1313.1,1022.8 1314.1,1021.5 1315,1020.1 1315,1020.1 1316,1020.1 1316.9,1020 1317.8,1020 1318.8,1020 1319.7,1019.9 1320.7,1019.9 1321.6,1019.8 1322.6,1019.8 1323.5,1019.8 1324.4,1019.7 1325.4,1019.7 1326.3,1019.7 1327.3,1019.6 1328.2,1019.6 1329.2,1019.6 1330.1,1019.5 1331,1019.5 1332,1019.5 1332.9,1019.4 1333.5,1019.4 1333.9,1019.4 1334.8,1019.4 1335.8,1019.4 1336.7,1019.4 1337.7,1019.3 1338.6,1019.3 1339.5,1019.3 1340.5,1019.3 1341.4,1019.3 1342.4,1019.3 1343.3,1019.3 1344.3,1019.3 1345.2,1019.3 1346.1,1019.3 1347.1,1019.2 1348,1019.2 1349,1019.2 1349.9,1019.2 1350.9,1019.2 1351.8,1019.2 1352.8,1019.2 1353.7,1019.2 1354.6,1019.2 1355.6,1019.1 1356.5,1019.1 1357.5,1019.1 1358.4,1019.1 1359.4,1019.1 1360.3,1019.1 1361.2,1019.1 1362.2,1019.1 1363.1,1019.1 1364.1,1019.1 1365,1019 1366,1019 1366.9,1019 1367.9,1019 1368.8,1019 1369.7,1019 1370.3,1019 1370.7,1018.9 1371.6,1018.6 1372.6,1018.2 1373.5,1017.9 1374.5,1017.6 1375.4,1017.3 1376.3,1017 1376.5,1016.9 1377.3,1015.3 1378.2,1013.4 1379.2,1011.5 1380.1,1009.6 1381.1,1007.7 1381.4,1007.1 1382,1005.4 1382.9,1002.7 1383.9,1000.1 1384.8,997.4 1385.8,994.8 1386.7,992.1 1387.6,989.8 1387.7,989.5 1388.6,986.9 1389.6,984.4 1390.5,981.9 1391.4,979.4 1392.4,976.8 1393.3,974.3 1394.3,971.8 1394.9,970 1395.2,969.2 1396.2,966.7 1397.1,964.2 1398,961.7 1399,959.1 1399.9,956.6 1400.9,954.1 1401.8,951.6 1402.3,950.3 1402.8,949.2 1403.7,947 1404.7,944.8 1405.6,942.6 1406.5,940.4 1407.5,938.2 1408.4,936 1409.4,933.8 1409.7,933 1410.3,932.2 1411.3,930.9 1412.2,929.7 1413.1,928.4 1414.1,927.2 1415,925.9 1416,924.7 1416.9,923.4 1417.1,923.2 1417.9,923 1418.8,922.7 1419.8,922.4 1420.7,922.1 1421.6,921.8 1422.6,921.6 1423.5,921.3 1424.5,921 1425.4,920.7 1426.4,920.4 1427.3,920.1 1428.2,919.9 1429.2,919.6 1429.3,919.5 1430.1,919.4 1431.1,919.3 1432,919.2 1433,919.1 1433.9,919 1434.8,918.9 1435.8,918.8 1436.7,918.7 1437.7,918.6 1438.6,918.4 1439.6,918.3 1440.5,918.2 1441.5,918.1 1442.4,918 1443.3,917.9 1444.1,917.8 1444.3,917.7 1445.2,917.3 1446.2,916.9 1447.1,916.4 1448.1,916 1449,915.6 1449.9,915.2 1450.9,914.7 1451.8,914.3 1452.8,913.9 1453.7,913.5 1453.9,913.4 1454.7,912.5 1455.6,911.3 1456.6,910.1 1457.5,908.9 1458.4,907.7 1459.4,906.6 1460.3,905.4 1461.3,904.2 1462.2,903 1463.2,901.8 1463.8,901.1 1464.1,900.8 1465,900 1466,899.1 1466.9,898.3 1467.9,897.5 1468.8,896.7 1469.8,895.8 1470.7,895 1471.7,894.2 1472.6,893.4 1473.5,892.5 1473.6,892.5 1474.5,892.2 1475.4,891.9 1476.4,891.6 1477.3,891.2 1478.3,890.9 1479.2,890.6 1480.1,890.3 1481.1,890 1482,889.7 1483,889.4 1483.9,889 1484.9,888.7 1485.8,888.4 1486.7,888.1 1487.7,887.8 1488.4,887.6 1488.6,887.5 1489.6,887.2 1490.5,886.9 1491.5,886.7 1492.4,886.4 1493.4,886.1 1494.3,885.9 1495.2,885.6 1496.2,885.3 1497,885.1 1497.1,884.9 1498.1,883.5 1499,882.4 1500,881.2 1500.9,880 1501.8,878.9 1502.8,877.7 1503.1,877.3 1503.7,875.5 1504.7,872.8 1505.6,870.2 1506.6,867.5 1507.5,864.8 1508,863.4 1508.5,861.9 1509.4,858.8 1510.3,855.6 1511.3,852.5 1512.2,849.3 1512.9,847 1513.2,846.1 1514.1,842.4 1515.1,838.8 1516,835.2 1516.9,831.6 1517.9,828.1 1517.9,828 1518.8,824.8 1519.8,821.7 1520.7,818.5 1521.7,815.4 1522.6,812.2 1522.8,811.7 1523.6,810.5 1524.5,809.1 1525.4,807.7 1526.4,806.2 1527.3,804.8 1528.3,803.4 1529.2,802 1530.1,800.6 1530.2,800.6 1531.1,799.6 1532,798.6 1533,797.6 1533.9,796.6 1534.9,795.7 1535.8,794.7 1536.8,793.7 1537.7,792.7 1538.6,791.8 1539.6,790.8 1540.5,789.8 1541.5,788.8 1542.4,787.8 1542.4,787.8 1543.4,786.6 1544.3,785.3 1545.3,784.1 1546.2,782.8 1547.1,781.5 1548.1,780.3 1549,779 1550,777.7 1550.9,776.5 1551.9,775.2 1552.3,774.7 1552.8,774.3 1553.7,773.6 1554.7,772.8 1555.6,772 1556.6,771.1 1557.5,770.3 1558.5,769.4 1559.4,768.5 1560.4,767.7 1560.9,767.2 1561.3,767.2 1562.2,767.1 1563.2,767.1 1564.1,767.1 1565.1,767 1566,767 1567,766.9 1567.9,766.9 1568.8,766.9 1569.8,766.8 1570.7,766.8 1571.7,766.8 1572.6,766.7 1573.6,766.7 1574.5,766.6 1575.5,766.6 1576.4,766.6 1577.3,766.5 1578.3,766.5 1579.2,766.5 1579.3,766.5 1580.2,766.4 1581.1,766.4 1582.1,766.4 1583,766.4 1583.9,766.4 1584.9,766.4 1585.8,766.4 1586.8,766.4 1587.7,766.4 1588.7,766.3 1589.6,766.3 1590.5,766.3 1591.5,766.3 1592.4,766.3 1593.4,766.3 1594.3,766.3 1595.3,766.3 1596.2,766.3 1597.2,766.2 1598.1,766.2 1599,766.2 1600,766.2 1600.9,766.2 1601.9,766.2 1602.8,766.2 1603.8,766.2 1604.7,766.2 1605.6,766.1 1606.6,766.1 1607.5,766.1 1608.5,766.1 1609.4,766.1 1610.4,766.1 1611.3,766.1 1612.3,766.1 1613.2,766.1 1614.1,766.1 1615.1,766 1616,766 1617,766 1617.9,766 1618.9,766 1619.8,766 1620.7,766 1621.7,766 1622.6,766 1623.6,765.9 1624.5,765.9 1625.5,765.9 1626.4,765.9 1627.4,765.9 1628.3,765.9 1629.2,765.9 1630.2,765.9 1631.1,765.9 1632.1,765.8 1633,765.8 1634,765.8 1634.9,765.8 1635.8,765.8 1636.8,765.8 1637.7,765.8 1638.7,765.8 1639.6,765.8 1640.6,765.7 1641.5,765.7 1642.4,766.2 1643.2,766.6 1643.4,766.3 1644.3,764.8 1645.3,763.2 1646.2,761.6 1646.9,760.5 1647.2,759.8 1648.1,756.9 1649.1,754.1 1650,751.2 1650.9,748.4 1651.8,745.7 1651.9,745.6 1652.8,745 1653.8,744.3 1654.7,743.6 1655.7,742.9 1656.6,742.3 1657.5,742.1 1658.5,742.1 1659.4,742.1 1660.4,742.1 1660.4,742.1 1661.3,742.1 1662.3,742.1 1663.2,742.1 1664.2,742.1 1665.1,742.1 1666,742.1 1667,742.1 1667.9,742.1 1667.9,742.1 1667,742.7 1666,743.3 1665.1,743.9 1664.2,744.5 1663.2,745.1 1662.3,745.7 1661.3,746.3 1660.4,746.8 1660.4,746.9 1659.4,748.5 1658.5,750.1 1657.5,751.7 1656.6,753.3 1655.7,754.9 1654.7,756.5 1653.8,758.1 1652.8,759.7 1651.9,761.3 1651.8,761.3 1650.9,764.9 1650,768.7 1649.1,772.5 1648.1,776.2 1647.2,780 1646.9,780.9 1646.2,782.8 1645.3,785.2 1644.3,787.7 1643.4,790.2 1643.2,790.6 1642.4,791 1641.5,791.5 1640.6,791.5 1639.6,791.5 1638.7,791.5 1637.7,791.5 1636.8,791.5 1635.8,791.5 1634.9,791.5 1634,791.6 1633,791.6 1632.1,791.6 1631.1,791.6 1630.2,791.6 1629.2,791.6 1628.3,791.6 1627.4,791.6 1626.4,791.6 1625.5,791.6 1624.5,791.7 1623.6,791.7 1622.6,791.7 1621.7,791.7 1620.7,791.7 1619.8,791.7 1618.9,791.7 1617.9,791.7 1617,791.7 1616,791.8 1615.1,791.8 1614.1,791.8 1613.2,791.8 1612.3,791.8 1611.3,791.8 1610.4,791.8 1609.4,791.8 1608.5,791.8 1607.5,791.9 1606.6,791.9 1605.6,791.9 1604.7,791.9 1603.8,791.9 1602.8,791.9 1601.9,791.9 1600.9,791.9 1600,791.9 1599,792 1598.1,792 1597.2,792 1596.2,792 1595.3,792 1594.3,792 1593.4,792 1592.4,792 1591.5,792 1590.5,792.1 1589.6,792.1 1588.7,792.1 1587.7,792.1 1586.8,792.1 1585.8,792.1 1584.9,792.1 1583.9,792.1 1583,792.1 1582.1,792.1 1581.1,792.2 1580.2,792.2 1579.3,792.2 1579.2,792.2 1578.3,792.2 1577.3,792.3 1576.4,792.3 1575.5,792.3 1574.5,792.4 1573.6,792.4 1572.6,792.4 1571.7,792.5 1570.7,792.5 1569.8,792.6 1568.8,792.6 1567.9,792.6 1567,792.7 1566,792.7 1565.1,792.8 1564.1,792.8 1563.2,792.8 1562.2,792.9 1561.3,792.9 1560.9,792.9 1560.4,793.4 1559.4,794.3 1558.5,795.1 1557.5,796 1556.6,796.8 1555.6,797.7 1554.7,798.6 1553.7,799.6 1552.8,800.6 1552.3,801.2 1551.9,801.9 1550.9,803.4 1550,805 1549,806.6 1548.1,808.1 1547.1,809.7 1546.2,811.3 1545.3,812.8 1544.3,814.4 1543.4,816 1542.4,817.5 1542.4,817.5 1541.5,818.8 1540.5,820.1 1539.6,821.4 1538.6,822.7 1537.7,824 1536.8,825.3 1535.8,826.5 1534.9,827.8 1533.9,829.1 1533,830.4 1532,831.7 1531.1,833 1530.2,834.3 1530.1,834.3 1529.2,836 1528.3,837.7 1527.3,839.4 1526.4,841.2 1525.4,842.9 1524.5,844.6 1523.6,846.3 1522.8,847.8 1522.6,848.4 1521.7,851.8 1520.7,855.3 1519.8,858.7 1518.8,862.2 1517.9,865.6 1517.9,865.8 1516.9,869.5 1516,873.5 1515.1,877.4 1514.1,881.3 1513.2,885.3 1512.9,886.2 1512.2,888.8 1511.3,892.3 1510.3,895.7 1509.4,899.2 1508.5,902.7 1508,904.2 1507.5,905.9 1506.6,908.8 1505.6,911.8 1504.7,914.8 1503.7,917.8 1503.1,919.8 1502.8,920.3 1501.8,921.8 1500.9,923.2 1500,924.7 1499,926.2 1498.1,927.6 1497.1,929 1497,929.2 1496.2,929.4 1495.2,929.7 1494.3,930 1493.4,930.2 1492.4,930.5 1491.5,930.8 1490.5,931.1 1489.6,931.3 1488.6,931.6 1488.4,931.7 1487.7,931.9 1486.7,932.2 1485.8,932.5 1484.9,932.8 1483.9,933.1 1483,933.5 1482,933.8 1481.1,934.1 1480.1,934.4 1479.2,934.7 1478.3,935 1477.3,935.4 1476.4,935.7 1475.4,936 1474.5,936.3 1473.6,936.6 1473.5,936.6 1472.6,937.5 1471.7,938.3 1470.7,939.1 1469.8,939.9 1468.8,940.8 1467.9,941.6 1466.9,942.4 1466,943.2 1465,944.1 1464.1,944.9 1463.8,945.2 1463.2,946 1462.2,947.1 1461.3,948.3 1460.3,949.5 1459.4,950.7 1458.4,951.9 1457.5,953 1456.6,954.2 1455.6,955.4 1454.7,956.6 1453.9,957.5 1453.7,957.6 1452.8,958 1451.8,958.4 1450.9,958.9 1449.9,959.3 1449,959.7 1448.1,960.1 1447.1,960.6 1446.2,961 1445.2,961.4 1444.3,961.8 1444.1,961.9 1443.3,962 1442.4,962.1 1441.5,962.2 1440.5,962.3 1439.6,962.4 1438.6,962.6 1437.7,962.7 1436.7,962.8 1435.8,962.9 1434.8,963 1433.9,963.1 1433,963.2 1432,963.3 1431.1,963.4 1430.1,963.5 1429.3,963.6 1429.2,963.7 1428.2,964 1427.3,964.2 1426.4,964.5 1425.4,964.8 1424.5,965.1 1423.5,965.4 1422.6,965.7 1421.6,965.9 1420.7,966.2 1419.8,966.5 1418.8,966.8 1417.9,967.1 1417.1,967.3 1416.9,967.5 1416,968.8 1415,970 1414.1,971.3 1413.1,972.5 1412.2,973.8 1411.3,975 1410.3,976.3 1409.7,977.2 1409.4,977.9 1408.4,980.1 1407.5,982.3 1406.5,984.5 1405.6,986.7 1404.7,988.9 1403.7,991.1 1402.8,993.3 1402.3,994.3 1401.8,995.6 1400.9,998.1 1399.9,1000.6 1399,1003.1 1398,1005.6 1397.1,1008.2 1396.2,1010.7 1395.2,1013.2 1394.9,1013.9 1394.3,1015.7 1393.3,1018.2 1392.4,1020.7 1391.4,1023.2 1390.5,1025.7 1389.6,1028.2 1388.6,1030.7 1387.7,1033.2 1387.6,1033.5 1386.7,1035.8 1385.8,1038.5 1384.8,1041.1 1383.9,1043.7 1382.9,1046.4 1382,1049 1381.4,1050.7 1381.1,1051.3 1380.1,1053.2 1379.2,1055.1 1378.2,1057 1377.3,1058.8 1376.5,1060.4 1376.3,1060.5 1375.4,1060.8 1374.5,1061.1 1373.5,1061.4 1372.6,1061.6 1371.6,1061.9 1370.7,1062.2 1370.3,1062.3 1369.7,1062.3 1368.8,1062.3 1367.9,1062.3 1366.9,1062.3 1366,1062.3 1365,1062.3 1364.1,1062.3 1363.1,1062.3 1362.2,1062.2 1361.2,1062.2 1360.3,1062.2 1359.4,1062.2 1358.4,1062.2 1357.5,1062.2 1356.5,1062.2 1355.6,1062.2 1354.6,1062.2 1353.7,1062.1 1352.8,1062.1 1351.8,1062.1 1350.9,1062.1 1349.9,1062.1 1349,1062.1 1348,1062.1 1347.1,1062.1 1346.1,1062.1 1345.2,1062.1 1344.3,1062 1343.3,1062 1342.4,1062 1341.4,1062 1340.5,1062 1339.5,1062 1338.6,1062 1337.7,1062 1336.7,1062 1335.8,1061.9 1334.8,1061.9 1333.9,1061.9 1333.5,1061.9 1332.9,1061.9 1332,1061.9 1331,1062 1330.1,1062 1329.2,1062 1328.2,1062 1327.3,1062 1326.3,1062 1325.4,1062 1324.4,1062.1 1323.5,1062.1 1322.6,1062.1 1321.6,1062.1 1320.7,1062.1 1319.7,1062.1 1318.8,1062.1 1317.8,1062.2 1316.9,1062.2 1316,1062.2 1315,1062.2 1315,1062.2 1314.1,1063.6 1313.1,1064.9 1312.2,1066.2 1311.2,1067.6 1310.3,1068.9 1309.3,1070.3 1308.4,1071.6 1307.5,1072.9 1306.5,1074.3 1306.4,1074.4 1305.6,1077.4 1304.6,1079.6 1303.7,1081.8 1302.7,1084 1301.8,1086.3 1301.5,1086.9 1300.9,1089.1 1299.9,1092.3 1299,1095.5 1298,1098.6 1297.1,1101.8 1296.6,1103.4 1296.1,1104.2 1295.2,1105.7 1294.2,1107.2 1293.3,1108.7 1292.4,1109.6 1291.4,1109.6 1290.5,1109.6"/>
<path d="M1290.5 1109.6V1085.1H1293.6V1060.6H1299.9V1036.1H1303.1V1011.6H1391.1V987.1H1394.3V962.6H1400.6V938.1H1403.7V913.6H1435.2V889.1H1498.1V864.6H1507.5V840.1H1516.9V815.6H1523.2V791.1H1545.3V766.6H1561V742.1H1667.9" fill="none" stroke="#4c72b0" stroke-width="1.5" stroke-opacity="0.42"/>
<path d="M1290.5 1109.6H1299.9V1085.1H1306.2V1060.6H1315.6V1036.1H1388V1011.6H1397.4V987.1H1410V962.6H1422.6V938.1H1463.5V913.6H1507.5V889.1H1516.9V864.6H1523.2V840.1H1542.1V815.6H1545.3V791.1H1551.5V766.6H1664.8V742.1H1667.9" fill="none" stroke="#dd8452" stroke-width="1.5" stroke-opacity="0.42"/>
<path d="M1290.5 1109.6H1296.8V1083.4H1299.9V1057.1H1378.5V1030.9H1388V1004.6V978.4H1406.9V952.1H1460.3V925.9H1504.4V899.6V873.3H1510.7V847.1H1516.9V820.8H1545.3V794.6H1642.8V768.3H1655.3V742.1H1667.9" fill="none" stroke="#55a868" stroke-width="1.5" stroke-opacity="0.42"/>
<path d="M1290.5 1109.6V1081.3H1299.9V1053.1H1312.5V1024.8H1388V996.5H1400.6V968.3H1410V940H1450.9V911.7H1507.5V883.4H1513.8V855.2H1516.9V826.9H1535.8V798.6H1545.3V770.4H1652.2V742.1H1667.9" fill="none" stroke="#c44e52" stroke-width="1.5" stroke-opacity="0.42"/>
<path d="M1290.5 1109.6H1299.9V1083.4H1312.5V1057.1H1381.7V1030.9H1384.8V1004.6H1397.4V978.4H1406.9V952.1H1416.3V925.9H1466.6V899.6H1513.8V873.3H1516.9V847.1H1526.4V820.8H1545.3V794.6H1583V768.3H1655.3V742.1H1667.9" fill="none" stroke="#8172b3" stroke-width="1.5" stroke-opacity="0.42"/>
<path d="M1290.5 1109.6V1088V1066.4H1299.9V1044.8H1303.1V1023.1H1378.5V1001.5H1388V979.9V958.3H1403.7V936.7H1457.2V915V893.4H1498.1V871.8H1501.2V850.2H1516.9V828.6V806.9H1523.2V785.3H1551.5V763.7H1642.8V742.1H1667.9" fill="none" stroke="#937860" stroke-width="1.5" stroke-opacity="0.42"/>
<path d="M1290.5 1109.6V1088V1066.4H1293.6V1044.8H1296.8V1023.1H1309.3V1001.5H1375.4V979.9H1394.3V958.3V936.7V915H1406.9V893.4H1450.9V871.8H1488.6V850.2H1504.4V828.6H1513.8V806.9H1516.9V785.3H1532.7V763.7H1557.8V742.1H1667.9" fill="none" stroke="#da8bc3" stroke-width="1.5" stroke-opacity="0.42"/>
<path d="M1290.5 1109.6H1293.6V1085.1H1296.8V1060.6H1299.9V1036.1H1328.2V1011.6H1391.1V987.1H1397.4V962.6H1410V938.1H1444.6V913.6H1463.5V889.1H1510.7V864.6H1513.8V840.1H1520.1V815.6H1526.4V791.1H1548.4V766.6H1645.9V742.1H1667.9" fill="none" stroke="#8c8c8c" stroke-width="1.5" stroke-opacity="0.42"/>
<path d="M1290.5 1109.6H1293.6V1089.2H1299.9V1068.8H1303.1V1048.4H1306.2V1027.9H1384.8V1007.5H1397.4V987.1V966.7H1403.7V946.3H1416.3V925.9H1457.2V905.4H1507.5V885H1510.7V864.6H1516.9V844.2V823.8H1526.4V803.3H1542.1V782.9H1548.4V762.5H1652.2V742.1H1667.9" fill="none" stroke="#ccb974" stroke-width="1.5" stroke-opacity="0.42"/>
<path d="M1290.5 1109.6V1089.2H1296.8V1068.8H1299.9V1048.4H1375.4V1027.9H1384.8V1007.5H1391.1V987.1H1400.6V966.7H1416.3V946.3H1447.7V925.9V905.4H1479.2V885H1507.5V864.6H1513.8V844.2H1516.9V823.8H1526.4V803.3H1542.1V782.9H1554.7V762.5H1649.1V742.1H1667.9" fill="none" stroke="#64b5cd" stroke-width="1.5" stroke-opacity="0.42"/>
<path d="M1290.5 1109.6H1296.8V1081.3H1312.5V1053.1H1391.1V1024.8H1397.4V996.5H1406.9V968.3H1457.2V940H1504.4V911.7H1510.7V883.4H1513.8V855.2H1526.4V826.9H1542.1V798.6H1645.9V770.4H1655.3V742.1H1667.9" fill="none" stroke="#4c72b0" stroke-width="1.5" stroke-opacity="0.42"/>
<path d="M1290.5 1109.6H1293.6V1083.4H1306.2V1057.1H1378.5V1030.9H1397.4V1004.6H1400.6V978.4H1416.3V952.1H1460.3V925.9H1469.8V899.6H1510.7V873.3H1513.8V847.1H1520.1V820.8H1545.3V794.6H1645.9V768.3H1658.5V742.1H1667.9" fill="none" stroke="#dd8452" stroke-width="1.5" stroke-opacity="0.42"/>
<path d="M1290.5 1109.6H1296.8V1089.2H1299.9V1068.8H1303.1V1048.4H1306.2V1027.9H1315.6V1007.5H1388V987.1H1397.4V966.7H1410V946.3H1416.3V925.9H1463.5V905.4H1491.8V885H1507.5V864.6H1516.9V844.2V823.8H1532.7V803.3H1535.8V782.9H1570.4V762.5H1652.2V742.1H1667.9" fill="none" stroke="#55a868" stroke-width="1.5" stroke-opacity="0.42"/>
<path d="M1290.5 1109.6H1296.8V1085.1H1299.9V1060.6H1381.7V1036.1H1384.8V1011.6H1397.4V987.1H1406.9V962.6H1425.7V938.1H1460.3V913.6H1479.2V889.1H1510.7V864.6H1520.1V840.1H1526.4V815.6H1545.3V791.1H1645.9V766.6H1652.2V742.1H1667.9" fill="none" stroke="#c44e52" stroke-width="1.5" stroke-opacity="0.42"/>
<path d="M1290.5 1109.6H1296.8V1085.1H1299.9V1060.6H1381.7V1036.1H1394.3V1011.6H1413.1V987.1H1416.3V962.6H1460.3V938.1H1504.4V913.6H1510.7V889.1H1513.8V864.6H1535.8V840.1H1539V815.6H1548.4V791.1H1649.1V766.6H1664.8V742.1H1667.9" fill="none" stroke="#8172b3" stroke-width="1.5" stroke-opacity="0.42"/>
<path d="M1290.5 1109.6H1299.9V1089.2H1306.2V1068.8H1309.3V1048.4H1325.1V1027.9H1394.3V1007.5H1403.7V987.1V966.7H1410V946.3H1469.8V925.9H1491.8V905.4H1501.2V885H1520.1V864.6V844.2H1539V823.8H1551.5V803.3H1561V782.9H1652.2V762.5H1655.3V742.1H1667.9" fill="none" stroke="#937860" stroke-width="1.5" stroke-opacity="0.42"/>
<path d="M1290.5 1109.6H1299.9V1083.4V1057.1H1312.5V1030.9H1388V1004.6H1397.4V978.4H1410V952.1H1422.6V925.9V899.6H1504.4V873.3H1510.7V847.1H1520.1V820.8H1535.8V794.6H1548.4V768.3H1649.1V742.1H1667.9" fill="none" stroke="#da8bc3" stroke-width="1.5" stroke-opacity="0.42"/>
<path d="M1290.5 1109.6H1293.6V1085.1H1299.9V1060.6H1375.4V1036.1H1384.8V1011.6H1397.4V987.1H1406.9V962.6H1419.4V938.1H1498.1V913.6H1501.2V889.1H1513.8V864.6H1516.9V840.1H1535.8V815.6H1564.1V791.1H1642.8V766.6H1652.2V742.1H1667.9" fill="none" stroke="#8c8c8c" stroke-width="1.5" stroke-opacity="0.42"/>
<path d="M1290.5 1109.6H1296.8V1090.3H1299.9V1070.9H1303.1V1051.6H1309.3V1032.2H1384.8V1012.9H1388V993.6H1397.4V974.2H1406.9V954.9H1444.6V935.5H1491.8V916.2H1504.4V896.8H1507.5V877.5H1516.9V858.1H1520.1V838.8H1539V819.5H1542.1V800.1H1557.8V780.8H1645.9V761.4H1655.3V742.1H1667.9" fill="none" stroke="#ccb974" stroke-width="1.5" stroke-opacity="0.42"/>
<path d="M1290.5 1109.6H1303.1V1083.4H1306.2V1057.1H1394.3V1030.9H1397.4V1004.6H1406.9V978.4H1457.2V952.1H1501.2V925.9H1507.5V899.6H1513.8V873.3H1532.7V847.1H1539V820.8H1548.4V794.6H1658.5V768.3H1664.8V742.1H1667.9" fill="none" stroke="#64b5cd" stroke-width="1.5" stroke-opacity="0.42"/>
<path d="M1290.5 1109.6H1299.9V1086.7H1309.3V1063.7H1331.4V1040.7H1394.3V1017.7H1403.7V994.8V971.8H1416.3V948.8H1472.9V925.9H1507.5V902.9H1513.8V879.9H1523.2V856.9V834H1548.4V811H1649.1V788H1655.3V765H1667.9V742.1H1667.9" fill="none" stroke="#4c72b0" stroke-width="1.5" stroke-opacity="0.42"/>
<path d="M1290.5 1109.6H1296.8V1089.2H1299.9V1068.8H1306.2V1048.4H1381.7V1027.9H1388V1007.5H1397.4V987.1H1400.6V966.7H1416.3V946.3H1419.4V925.9H1498.1V905.4H1504.4V885H1510.7V864.6H1513.8V844.2H1529.5V823.8H1539V803.3H1642.8V782.9H1649.1V762.5H1664.8V742.1H1667.9" fill="none" stroke="#dd8452" stroke-width="1.5" stroke-opacity="0.42"/>
<path d="M1290.5 1109.6H1293.6V1086.7H1299.9V1063.7H1312.5V1040.7H1378.5V1017.7H1384.8V994.8H1397.4V971.8H1413.1V948.8H1454V925.9H1466.6V902.9H1507.5V879.9H1513.8V856.9H1520.1V834H1523.2V811H1548.4V788H1642.8V765H1667.9V742.1H1667.9" fill="none" stroke="#55a868" stroke-width="1.5" stroke-opacity="0.42"/>
<path d="M1290.5 1109.6H1293.6V1083.4H1299.9V1057.1H1303.1V1030.9H1372.3V1004.6H1391.1V978.4H1406.9V952.1H1410V925.9V899.6H1494.9V873.3H1507.5V847.1H1516.9V820.8H1523.2V794.6H1548.4V768.3H1652.2V742.1H1667.9" fill="none" stroke="#c44e52" stroke-width="1.5" stroke-opacity="0.42"/>
<path d="M1290.5 1109.6H1293.6V1090.3H1303.1V1070.9H1306.2V1051.6H1388V1032.2H1391.1V1012.9H1394.3V993.6H1410V974.2H1428.9V954.9H1463.5V935.5H1466.6V916.2H1507.5V896.8H1516.9V877.5V858.1H1520.1V838.8H1523.2V819.5H1551.5V800.1H1642.8V780.8H1649.1V761.4H1652.2V742.1H1667.9" fill="none" stroke="#8172b3" stroke-width="1.5" stroke-opacity="0.42"/>
<path d="M1290.5 1109.6H1299.9V1089.2H1306.2V1068.8H1309.3V1048.4H1318.8V1027.9H1391.1V1007.5H1397.4V987.1H1403.7V966.7H1425.7V946.3H1472.9V925.9H1494.9V905.4H1513.8V885H1516.9V864.6H1526.4V844.2V823.8H1548.4V803.3H1649.1V782.9H1655.3V762.5H1658.5V742.1H1667.9" fill="none" stroke="#937860" stroke-width="1.5" stroke-opacity="0.42"/>
<path d="M1290.5 1109.6V1083.4H1296.8V1057.1H1303.1V1030.9H1378.5V1004.6H1388V978.4H1391.1V952.1H1406.9V925.9V899.6H1482.3V873.3H1510.7V847.1V820.8H1520.1V794.6H1542.1V768.3H1645.9V742.1H1667.9" fill="none" stroke="#da8bc3" stroke-width="1.5" stroke-opacity="0.42"/>
<path d="M1290.5 1109.6H1296.8V1089.2H1299.9V1068.8H1309.3V1048.4H1312.5V1027.9H1388V1007.5V987.1H1406.9V966.7V946.3H1419.4V925.9H1472.9V905.4H1507.5V885H1510.7V864.6V844.2H1516.9V823.8H1526.4V803.3H1548.4V782.9H1645.9V762.5H1652.2V742.1H1667.9" fill="none" stroke="#8c8c8c" stroke-width="1.5" stroke-opacity="0.42"/>
<path d="M1290.5 1109.6H1299.9V1089.2H1306.2V1068.8H1312.5V1048.4H1388V1027.9H1391.1V1007.5H1397.4V987.1H1416.3V966.7H1457.2V946.3H1469.8V925.9H1507.5V905.4H1513.8V885H1516.9V864.6H1523.2V844.2H1542.1V823.8H1551.5V803.3H1557.8V782.9H1658.5V762.5H1667.9V742.1H1667.9" fill="none" stroke="#ccb974" stroke-width="1.5" stroke-opacity="0.42"/>
<path d="M1290.5 1109.6H1299.9V1089.2H1306.2V1068.8H1378.5V1048.4H1388V1027.9H1391.1V1007.5H1397.4V987.1H1435.2V966.7H1460.3V946.3H1463.5V925.9H1507.5V905.4H1516.9V885V864.6H1523.2V844.2H1539V823.8H1542.1V803.3H1554.7V782.9H1652.2V762.5H1667.9V742.1H1667.9" fill="none" stroke="#64b5cd" stroke-width="1.5" stroke-opacity="0.42"/>
<path d="M1290.5 1109.6H1293.6V1081.3H1299.9V1053.1H1306.2V1024.8H1381.7V996.5H1394.3V968.3H1410V940H1447.7V911.7H1488.6V883.4H1510.7V855.2H1513.8V826.9H1523.2V798.6H1554.7V770.4H1649.1V742.1H1667.9" fill="none" stroke="#4c72b0" stroke-width="1.5" stroke-opacity="0.42"/>
<path d="M1290.5 1109.6V1086.7H1296.8V1063.7H1303.1V1040.7H1378.5V1017.7H1384.8V994.8H1397.4V971.8H1400.6V948.8H1410V925.9H1466.6V902.9H1504.4V879.9H1507.5V856.9H1520.1V834V811H1548.4V788H1649.1V765H1655.3V742.1H1667.9" fill="none" stroke="#dd8452" stroke-width="1.5" stroke-opacity="0.42"/>
<path d="M1290.5 1109.6H1299.9V1083.4H1378.5V1057.1H1388V1030.9H1397.4V1004.6H1410V978.4H1463.5V952.1H1479.2V925.9H1513.8V899.6H1520.1V873.3H1529.5V847.1H1545.3V820.8H1567.3V794.6H1652.2V768.3H1667.9V742.1H1667.9" fill="none" stroke="#55a868" stroke-width="1.5" stroke-opacity="0.42"/>
<path d="M1290.5 1109.6H1293.6V1086.7H1299.9V1063.7H1306.2V1040.7H1309.3V1017.7H1381.7V994.8V971.8H1403.7V948.8H1406.9V925.9H1466.6V902.9H1469.8V879.9H1510.7V856.9H1513.8V834H1520.1V811H1532.7V788H1545.3V765H1649.1V742.1H1667.9" fill="none" stroke="#c44e52" stroke-width="1.5" stroke-opacity="0.42"/>
<path d="M1290.5 1109.6H1296.8V1085.1H1299.9V1060.6H1303.1V1036.1H1381.7V1011.6H1384.8V987.1H1406.9V962.6H1413.1V938.1H1472.9V913.6H1476.1V889.1H1510.7V864.6H1513.8V840.1H1520.1V815.6H1535.8V791.1H1561V766.6H1652.2V742.1H1667.9" fill="none" stroke="#8172b3" stroke-width="1.5" stroke-opacity="0.42"/>
<path d="M1290.5 1109.6H1299.9V1088H1303.1V1066.4H1372.3V1044.8H1384.8V1023.1H1394.3V1001.5H1403.7V979.9H1422.6V958.3H1469.8V936.7H1498.1V915H1513.8V893.4H1520.1V871.8V850.2H1539V828.6H1542.1V806.9H1645.9V785.3H1652.2V763.7H1664.8V742.1H1667.9" fill="none" stroke="#937860" stroke-width="1.5" stroke-opacity="0.42"/>
<path d="M1290.5 1109.6H1303.1V1090.3H1309.3V1070.9H1384.8V1051.6H1397.4V1032.2H1400.6V1012.9H1403.7V993.6H1413.1V974.2H1466.6V954.9H1504.4V935.5H1513.8V916.2V896.8H1516.9V877.5H1526.4V858.1H1551.5V838.8H1561V819.5H1652.2V800.1H1655.3V780.8H1667.9V761.4V742.1H1667.9" fill="none" stroke="#da8bc3" stroke-width="1.5" stroke-opacity="0.42"/>
<path d="M1290.5 1109.6H1299.9V1088H1306.2V1066.4H1378.5V1044.8H1388V1023.1H1397.4V1001.5H1413.1V979.9V958.3H1472.9V936.7H1485.5V915H1507.5V893.4H1510.7V871.8H1520.1V850.2H1532.7V828.6H1548.4V806.9H1551.5V785.3H1652.2V763.7H1661.6V742.1H1667.9" fill="none" stroke="#8c8c8c" stroke-width="1.5" stroke-opacity="0.42"/>
<path d="M1290.5 1109.6H1303.1V1081.3H1312.5V1053.1H1394.3V1024.8H1397.4V996.5H1410V968.3H1425.7V940H1504.4V911.7H1513.8V883.4H1523.2V855.2H1526.4V826.9H1649.1V798.6H1652.2V770.4H1655.3V742.1H1667.9" fill="none" stroke="#ccb974" stroke-width="1.5" stroke-opacity="0.42"/>
<path d="M1290.5 1109.6H1293.6V1090.3H1299.9V1070.9H1306.2V1051.6V1032.2H1315.6V1012.9H1391.1V993.6H1397.4V974.2H1403.7V954.9H1410V935.5H1454V916.2H1469.8V896.8H1501.2V877.5H1507.5V858.1H1513.8V838.8H1529.5V819.5H1535.8V800.1H1548.4V780.8H1649.1V761.4H1652.2V742.1H1667.9" fill="none" stroke="#64b5cd" stroke-width="1.5" stroke-opacity="0.42"/>
<line x1="1290.5" y1="1109.6" x2="1667.9" y2="742.1" stroke="#8e8e8e" stroke-width="2.9" stroke-dasharray="9.3 4"/>
<path d="M1290.5 1109.6 1291.2 1107.6 1295.9 1094.8 1297.2 1090.1 1300.9 1073.3 1302.1 1068.6 1305.8 1055.5 1307.5 1052 1314 1042.6 1317.2 1041.1 1331.3 1040.7 1337.9 1040.7 1365.9 1040.7 1371.1 1040.4 1375.8 1038.9 1377.1 1037.5 1380.8 1030 1382.1 1026.8 1386.8 1013.7 1388.4 1009.3 1394 994.3 1395.8 989.6 1401.4 974.7 1403.2 970.2 1408.8 957.2 1410.6 953.9 1416.2 946.4 1418.5 944.8 1427.9 942 1431.1 941.4 1442.3 940.1 1445.3 939.3 1452.8 936 1455.1 934 1462.6 924.6 1464.9 922.1 1472.4 915.6 1475.4 913.9 1486.6 910.2 1489.4 909.3 1495.9 907.5 1497.7 906.1 1502.4 899.6 1503.7 896.8 1507.4 885.6 1508.6 881.7 1512.3 868.7 1513.5 864.2 1517.3 849.3 1518.4 844.9 1522.2 831.8 1523.7 828.2 1529.3 818.9 1531.6 815.7 1541 804.4 1543.6 800.9 1551.1 789.7 1553.3 787 1559.8 781 1563.1 780 1577.1 779.4 1587 779.2 1635.6 778.7 1643.7 777.6 1646.5 771.7 1647.5 768.6 1651.3 755.6 1652.9 752.3 1659.4 744.4 1661.3 743 1667 742.2 1667.9 742.1" fill="none" stroke="#5863ad" stroke-width="5.2" stroke-linejoin="round" stroke-linecap="butt"/>
</g>
<text x="1357.5" y="1112.5" font-size="43.7" font-weight="bold" style="fill:#6267b2">0.57 (0.49, 0.64)</text>
<rect x="1271.6" y="723.7" width="415.2" height="404.3" fill="none" stroke="#231f20" stroke-width="2.0"/>
<path d="M1290.5 1128V1136.5M1384.8 1128V1136.5M1479.2 1128V1136.5M1573.6 1128V1136.5M1667.9 1128V1136.5M1271.6 1109.6H1263.1M1271.6 1036.1H1263.1M1271.6 962.6H1263.1M1271.6 889.1H1263.1M1271.6 815.6H1263.1M1271.6 742.1H1263.1" stroke="#231f20" stroke-width="1.9" fill="none"/>
<text x="1293.5" y="1167.5" font-size="31.4" text-anchor="middle">0.0</text>
<text x="1382.1" y="1167.5" font-size="31.4" text-anchor="middle">0.25</text>
<text x="1477" y="1167.5" font-size="31.4" text-anchor="middle">0.50</text>
<text x="1569.4" y="1167.5" font-size="31.4" text-anchor="middle">0.75</text>
<text x="1663.7" y="1167.5" font-size="31.4" text-anchor="middle">1.0</text>
<text x="1254.1" y="1113.1" font-size="31.4" text-anchor="end">0.0</text>
<text x="1254.1" y="1040.7" font-size="31.4" text-anchor="end">0.2</text>
<text x="1254.1" y="968.3" font-size="31.4" text-anchor="end">0.4</text>
<text x="1254.1" y="895.9" font-size="31.4" text-anchor="end">0.6</text>
<text x="1254.1" y="823.5" font-size="31.4" text-anchor="end">0.8</text>
<text x="1254.1" y="751.1" font-size="31.4" text-anchor="end">1.0</text>
<text x="1484.3" y="1208.3" font-size="37.5" text-anchor="middle">false positive rate</text>
<text transform="translate(1196.6 924.4) rotate(-90)" font-size="37.7" text-anchor="middle">true positive rate</text>
<clipPath id="c6"><rect x="153.6" y="1288.1" width="414.2" height="403.4"/></clipPath>
<g clip-path="url(#c6)">
<polygon fill="#e2e3e6" points="172.4,1669.5 173.4,1660.2 174.3,1650.8 174.9,1645 175.3,1642.7 176.2,1636.5 177.1,1630.3 178.1,1624.2 179,1618 179.8,1612.8 180,1612.6 180.9,1611.4 181.8,1610.2 182.8,1608.9 183.7,1607.7 184.7,1607.7 185.6,1607.6 186.5,1607.5 187.5,1607.5 188.4,1607.4 189.4,1607.4 190.3,1607.3 190.9,1607.3 191.3,1607.3 192.2,1607.2 193.1,1607.2 194.1,1607.1 195,1607.1 196,1607 196.9,1607 197.8,1606.9 198.8,1606.8 199.7,1606.8 200.7,1606.7 201.6,1606.7 202.6,1606.6 203.5,1606.6 204.4,1606.5 205.4,1606.5 206.3,1606.4 207.3,1606.4 208.2,1606.3 209.1,1606.3 210.1,1606.2 211,1606.1 212,1606.1 212.9,1606 213.8,1606 214.8,1605.9 215.7,1605.9 216.7,1605.8 217.6,1605.8 218.6,1605.7 219.5,1605.7 220.4,1605.6 221.4,1605.6 222.3,1605.5 222.8,1605.5 223.3,1605.3 224.2,1604.9 225.1,1604.5 226.1,1604.1 227,1603.7 228,1603.3 228.9,1602.8 229.9,1602.4 230.8,1602 231.7,1601.6 232.7,1601.2 232.7,1601.2 233.6,1599.3 234.6,1597.3 235.5,1595.4 236.4,1593.5 237.4,1591.5 238.3,1589.6 238.8,1588.6 239.3,1586.8 240.2,1583 241.1,1579.1 242.1,1575.3 242.5,1573.6 243,1570.1 244,1563.8 244.9,1557.4 245.9,1551.1 246.2,1548.8 246.8,1545.2 247.7,1539.5 248.7,1533.7 249.6,1528 249.9,1526.4 250.6,1524.4 251.5,1521.7 252.4,1519 253.4,1516.2 254.3,1513.5 255.3,1510.8 256,1508.6 256.2,1508.6 257.1,1508.5 258.1,1508.4 259,1508.3 260,1508.2 260.9,1508.1 261.9,1508 262.8,1507.9 263.7,1507.8 264.7,1507.7 265.6,1507.6 266.6,1507.6 267.5,1507.5 268.4,1507.4 269.4,1507.3 270.3,1507.2 271.3,1507.1 272,1507 272.2,1507 273.2,1506.9 274.1,1506.8 275,1506.6 276,1506.5 276.9,1506.4 277.9,1506.3 278.8,1506.2 279.7,1506.1 280.7,1505.9 281.6,1505.8 282.6,1505.7 283.5,1505.6 284.4,1505.5 285.4,1505.3 286.3,1505.3 287.3,1505.3 288.2,1505.3 289.2,1505.3 289.2,1505.3 290.1,1504.8 291,1504.2 292,1503.7 292.9,1503.1 293.9,1502.6 294.8,1502 295.7,1501.5 296.6,1501 296.7,1500.8 297.6,1499.4 298.6,1497.9 299.5,1496.4 300.5,1494.9 301.4,1493.4 302.3,1491.9 302.7,1491.3 303.3,1489.7 304.2,1486.8 305.2,1484 306.1,1481.2 307,1478.4 307.7,1476.6 308,1476.1 308.9,1474.8 309.9,1473.5 310.8,1472.1 311.7,1470.8 312.7,1469.5 313.6,1468.1 314.6,1466.8 315.5,1465.5 316.3,1464.4 316.5,1464 317.4,1462.2 318.3,1460.3 319.3,1458.4 320.2,1456.6 321.2,1454.7 322.1,1452.8 323,1451 323.6,1449.8 324,1449 324.9,1446.8 325.9,1444.6 326.8,1442.4 327.8,1440.3 328.7,1438.1 329.6,1435.9 330.6,1433.7 331,1432.7 331.5,1432.1 332.5,1430.9 333.4,1429.8 334.3,1428.6 335.3,1427.4 336.2,1426.3 337.2,1425.1 338.1,1424 339,1422.8 340,1421.6 340.8,1420.6 340.9,1420.6 341.9,1420.4 342.8,1420.2 343.8,1420 344.7,1419.9 345.6,1419.7 346.6,1419.5 347.5,1419.3 348.5,1419.2 349.4,1419 350.3,1418.8 350.7,1418.8 351.3,1418.8 352.2,1418.7 353.2,1418.7 354.1,1418.7 355.1,1418.7 356,1418.7 356.9,1418.6 357.9,1418.6 358.8,1418.6 359.8,1418.6 360.7,1418.6 361.6,1418.5 362.6,1418.5 363.5,1418.5 364.5,1418.5 365.4,1418.5 366.3,1418.5 367.3,1418.4 368.2,1418.4 369.2,1418.4 370.1,1418.4 371.1,1418.4 372,1418.3 372.9,1418.3 373.9,1418.3 374.8,1418.3 375.8,1418.3 376.7,1418.2 377.6,1418.2 377.7,1418.2 378.6,1417 379.5,1415.7 380.5,1414.4 381.4,1413.1 382.4,1411.8 382.6,1411.4 383.3,1410.1 384.2,1408.3 385.2,1406.4 386.1,1404.5 387.1,1402.7 388,1400.8 388.9,1398.9 389.9,1397.1 390,1396.8 390.8,1395.1 391.8,1393 392.7,1391 393.6,1389 394.6,1387 395.5,1384.9 396.5,1382.9 397.4,1380.9 397.4,1380.9 398.4,1380.1 399.3,1379.3 400.2,1378.5 401.2,1377.7 402.1,1376.9 403.1,1376.1 404,1375.3 404.9,1374.5 405.9,1373.7 406.8,1372.9 407.2,1372.6 407.8,1372.2 408.7,1371.6 409.7,1371 410.6,1370.4 411.5,1369.8 412.5,1369.2 413.4,1368.6 414.4,1368 414.6,1367.8 415.3,1366.8 416.2,1365.4 417.2,1364 418.1,1362.7 419.1,1361.3 419.5,1360.6 420,1358.4 420.9,1354.2 421.9,1350 422.8,1345.8 423.8,1341.6 424.4,1338.6 424.7,1338.2 425.7,1336.8 426.6,1335.4 427.5,1334 428.5,1332.6 429.4,1331.3 429.4,1331.3 430.4,1330.9 431.3,1330.6 432.2,1330.2 433.2,1329.8 434.1,1329.4 435.1,1329.1 436,1328.7 437,1328.3 437.9,1327.9 438.8,1327.6 439.2,1327.4 439.8,1327.4 440.7,1327.4 441.7,1327.5 442.6,1327.5 443.5,1327.5 444.5,1327.5 445.4,1327.5 446.4,1327.5 447.3,1327.5 448.2,1327.6 449.2,1327.6 450.1,1327.6 451.1,1327.6 452,1327.6 453,1327.6 453.9,1327.6 454.8,1327.7 455.8,1327.7 456.7,1327.7 457.7,1327.7 458.6,1327.7 459.5,1327.7 460.5,1327.7 461.3,1327.8 461.4,1327.8 462.4,1327.8 463.3,1327.8 464.2,1327.8 465.2,1327.8 466.1,1327.8 467.1,1327.9 468,1327.9 469,1327.9 469.9,1327.9 470.8,1327.9 471.8,1327.9 472.7,1327.9 473.7,1328 474.6,1328 475.5,1328 476.5,1328 477.4,1328 478.4,1328 479.3,1328.1 480.3,1328.1 481.2,1328.1 482.1,1328.1 483.1,1328.1 484,1328.1 485,1328.2 485.9,1328.2 486.8,1328.2 487.8,1328.2 488.7,1328.2 489.7,1328.2 490.6,1328.3 491.5,1328.3 492.5,1328.3 493.4,1328.3 494.4,1328.3 495.3,1328.3 496.3,1328.4 497.2,1328.4 498.1,1328.4 499.1,1328.4 500,1328.4 501,1328.4 501.9,1328.5 502.8,1328.5 503.8,1328.5 504.7,1328.5 505.7,1328.5 506.6,1328.5 507.6,1328.6 508.5,1328.6 509.4,1328.6 510.4,1328.6 511.3,1328.6 512.3,1329.2 513.2,1329.8 514.1,1330.4 515.1,1331 516,1331.7 517,1332.3 517.9,1332.8 517.9,1332.9 518.8,1333.1 519.8,1333.3 520.7,1333.6 521.7,1333.8 522.6,1334 523.6,1334.3 524.5,1334.5 525.2,1334.7 525.4,1333.9 526.4,1330.3 527.3,1326.6 528.3,1323 528.9,1320.4 529.2,1319.5 530.1,1316.3 531.1,1313.2 532,1310 533,1306.9 533.8,1306.4 533.9,1306.4 534.9,1306.4 535.8,1306.4 536.7,1306.4 537.7,1306.4 538.6,1306.4 539.6,1306.4 540,1306.4 540.5,1306.4 541.4,1306.4 542.4,1306.4 543.3,1306.4 544.3,1306.4 545.2,1306.4 546.1,1306.4 547.1,1306.4 548,1306.4 549,1306.4 549,1306.4 548,1306.8 547.1,1307.2 546.1,1307.6 545.2,1308 544.3,1308.4 543.3,1308.7 542.4,1309.1 541.4,1309.5 540.5,1309.9 540,1310.1 539.6,1310.4 538.6,1311.2 537.7,1312 536.7,1313 535.8,1314.1 534.9,1315.2 533.9,1316.2 533.8,1316.3 533,1320.4 532,1324.7 531.1,1329.1 530.1,1333.5 529.2,1337.9 528.9,1339.2 528.3,1342.6 527.3,1347.5 526.4,1352.4 525.4,1357.3 525.2,1358.3 524.5,1359.1 523.6,1360.1 522.6,1361.1 521.7,1362.1 520.7,1363.1 519.8,1364.1 518.8,1365 517.9,1366 517.9,1366.1 517,1366.7 516,1367.3 515.1,1367.9 514.1,1368.6 513.2,1369.2 512.3,1369.8 511.3,1370.4 510.4,1370.5 509.4,1370.5 508.5,1370.5 507.6,1370.6 506.6,1370.6 505.7,1370.6 504.7,1370.7 503.8,1370.7 502.8,1370.7 501.9,1370.7 501,1370.8 500,1370.8 499.1,1370.8 498.1,1370.9 497.2,1370.9 496.3,1370.9 495.3,1371 494.4,1371 493.4,1371 492.5,1371.1 491.5,1371.1 490.6,1371.1 489.7,1371.2 488.7,1371.2 487.8,1371.2 486.8,1371.3 485.9,1371.3 485,1371.3 484,1371.4 483.1,1371.4 482.1,1371.4 481.2,1371.5 480.3,1371.5 479.3,1371.5 478.4,1371.6 477.4,1371.6 476.5,1371.6 475.5,1371.7 474.6,1371.7 473.7,1371.7 472.7,1371.8 471.8,1371.8 470.8,1371.8 469.9,1371.9 469,1371.9 468,1371.9 467.1,1372 466.1,1372 465.2,1372 464.2,1372.1 463.3,1372.1 462.4,1372.1 461.4,1372.2 461.3,1372.2 460.5,1372.2 459.5,1372.2 458.6,1372.3 457.7,1372.3 456.7,1372.3 455.8,1372.4 454.8,1372.4 453.9,1372.4 453,1372.5 452,1372.5 451.1,1372.5 450.1,1372.6 449.2,1372.6 448.2,1372.6 447.3,1372.7 446.4,1372.7 445.4,1372.7 444.5,1372.8 443.5,1372.8 442.6,1372.9 441.7,1372.9 440.7,1372.9 439.8,1373 439.2,1373 438.8,1373.1 437.9,1373.6 437,1374 436,1374.4 435.1,1374.8 434.1,1375.3 433.2,1375.7 432.2,1376.1 431.3,1376.5 430.4,1377 429.4,1377.4 429.4,1377.4 428.5,1378.8 427.5,1380.2 426.6,1381.6 425.7,1383.1 424.7,1384.5 424.4,1384.9 423.8,1387.9 422.8,1392.2 421.9,1396.5 420.9,1400.7 420,1405 419.5,1407.2 419.1,1407.9 418.1,1409.3 417.2,1410.7 416.2,1412.2 415.3,1413.6 414.6,1414.7 414.4,1414.8 413.4,1415.5 412.5,1416.1 411.5,1416.8 410.6,1417.5 409.7,1418.1 408.7,1418.8 407.8,1419.4 407.2,1419.8 406.8,1420.1 405.9,1421 404.9,1421.8 404,1422.7 403.1,1423.5 402.1,1424.4 401.2,1425.2 400.2,1426.1 399.3,1426.9 398.4,1427.8 397.4,1428.6 397.4,1428.6 396.5,1430.6 395.5,1432.7 394.6,1434.8 393.6,1436.8 392.7,1438.9 391.8,1440.9 390.8,1443 390,1444.7 389.9,1445 388.9,1446.9 388,1448.8 387.1,1450.7 386.1,1452.6 385.2,1454.5 384.2,1456.4 383.3,1458.3 382.6,1459.6 382.4,1460 381.4,1461.4 380.5,1462.7 379.5,1464 378.6,1465.4 377.7,1466.6 377.6,1466.6 376.7,1466.6 375.8,1466.7 374.8,1466.7 373.9,1466.8 372.9,1466.8 372,1466.9 371.1,1466.9 370.1,1467 369.2,1467 368.2,1467.1 367.3,1467.1 366.3,1467.2 365.4,1467.2 364.5,1467.3 363.5,1467.3 362.6,1467.4 361.6,1467.4 360.7,1467.5 359.8,1467.5 358.8,1467.6 357.9,1467.6 356.9,1467.7 356,1467.7 355.1,1467.8 354.1,1467.8 353.2,1467.9 352.2,1467.9 351.3,1468 350.7,1468 350.3,1468.1 349.4,1468.3 348.5,1468.5 347.5,1468.7 346.6,1468.9 345.6,1469.1 344.7,1469.3 343.8,1469.5 342.8,1469.7 341.9,1469.9 340.9,1470.1 340.8,1470.1 340,1471.2 339,1472.4 338.1,1473.6 337.2,1474.8 336.2,1476 335.3,1477.2 334.3,1478.4 333.4,1479.5 332.5,1480.7 331.5,1481.9 331,1482.6 330.6,1483.6 329.6,1485.8 328.7,1488 327.8,1490.2 326.8,1492.4 325.9,1494.7 324.9,1496.9 324,1499.1 323.6,1499.9 323,1501.1 322.1,1503 321.2,1504.9 320.2,1506.8 319.3,1508.7 318.3,1510.6 317.4,1512.5 316.5,1514.4 316.3,1514.8 315.5,1515.9 314.6,1517.2 313.6,1518.6 312.7,1519.9 311.7,1521.3 310.8,1522.7 309.9,1524 308.9,1525.4 308,1526.7 307.7,1527.2 307,1529.1 306.1,1531.9 305.2,1534.7 304.2,1537.6 303.3,1540.4 302.7,1542 302.3,1542.7 301.4,1544.2 300.5,1545.7 299.5,1547.3 298.6,1548.8 297.6,1550.3 296.7,1551.8 296.6,1552 295.7,1552.5 294.8,1553.1 293.9,1553.6 292.9,1554.2 292,1554.8 291,1555.4 290.1,1556 289.2,1556.5 289.2,1556.5 288.2,1556.6 287.3,1556.6 286.3,1556.6 285.4,1556.7 284.4,1556.6 283.5,1556.6 282.6,1556.5 281.6,1556.4 280.7,1556.4 279.7,1556.3 278.8,1556.2 277.9,1556.2 276.9,1556.1 276,1556 275,1556 274.1,1555.9 273.2,1555.8 272.2,1555.8 272,1555.8 271.3,1555.7 270.3,1555.6 269.4,1555.5 268.4,1555.4 267.5,1555.3 266.6,1555.2 265.6,1555.1 264.7,1555 263.7,1555 262.8,1554.9 261.9,1554.8 260.9,1554.7 260,1554.6 259,1554.5 258.1,1554.4 257.1,1554.3 256.2,1554.2 256,1554.2 255.3,1556.3 254.3,1558.8 253.4,1561.4 252.4,1563.9 251.5,1566.4 250.6,1569 249.9,1570.8 249.6,1572.4 248.7,1577.9 247.7,1583.5 246.8,1589.1 246.2,1592.6 245.9,1594.9 244.9,1601.1 244,1607.3 243,1613.6 242.5,1617 242.1,1618.7 241.1,1622.4 240.2,1626.1 239.3,1629.8 238.8,1631.6 238.3,1632.5 237.4,1634.4 236.4,1636.2 235.5,1638 234.6,1639.8 233.6,1641.7 232.7,1643.5 232.7,1643.5 231.7,1643.8 230.8,1644.1 229.9,1644.4 228.9,1644.7 228,1645 227,1645.3 226.1,1645.6 225.1,1645.9 224.2,1646.2 223.3,1646.5 222.8,1646.6 222.3,1646.6 221.4,1646.5 220.4,1646.5 219.5,1646.4 218.6,1646.4 217.6,1646.3 216.7,1646.3 215.7,1646.2 214.8,1646.2 213.8,1646.1 212.9,1646.1 212,1646 211,1645.9 210.1,1645.9 209.1,1645.8 208.2,1645.8 207.3,1645.7 206.3,1645.7 205.4,1645.6 204.4,1645.6 203.5,1645.5 202.6,1645.5 201.6,1645.4 200.7,1645.4 199.7,1645.3 198.8,1645.2 197.8,1645.2 196.9,1645.1 196,1645.1 195,1645 194.1,1645 193.1,1644.9 192.2,1644.9 191.3,1644.8 190.9,1644.8 190.3,1644.8 189.4,1644.7 188.4,1644.7 187.5,1644.6 186.5,1644.5 185.6,1644.5 184.7,1644.4 183.7,1644.4 182.8,1643.2 181.8,1641.9 180.9,1640.7 180,1639.5 179.8,1639.3 179,1642.5 178.1,1646.2 177.1,1649.9 176.2,1653.6 175.3,1657.3 174.9,1658.7 174.3,1663 173.4,1669.9 172.4,1673.2"/>
<path d="M172.4 1673.2H178.7V1620.8H241.5V1568.4H254V1516H319.9V1463.6H388.9V1411.2H414V1358.8H527V1306.4H549" fill="none" stroke="#4c72b0" stroke-width="1.5" stroke-opacity="0.42"/>
<path d="M172.4 1673.2H219.5V1620.8H241.5V1568.4H301.1V1516H326.2V1463.6H373.3V1411.2H420.3V1358.8H530.1V1306.4H549" fill="none" stroke="#dd8452" stroke-width="1.5" stroke-opacity="0.42"/>
<path d="M172.4 1673.2H178.7V1620.8H241.5V1568.4H254V1516H319.9V1463.6H385.8V1411.2H414V1358.8H527V1306.4H549" fill="none" stroke="#55a868" stroke-width="1.5" stroke-opacity="0.42"/>
<path d="M172.4 1673.2H228.9V1620.8H244.6V1568.4H304.2V1516H319.9V1463.6H395.2V1411.2H432.9V1358.8H533.3V1306.4H549" fill="none" stroke="#c44e52" stroke-width="1.5" stroke-opacity="0.42"/>
<path d="M172.4 1673.2V1620.8H238.3V1568.4H247.7V1516H304.2V1463.6H332.5V1411.2H395.2V1358.8H527V1306.4H549" fill="none" stroke="#8172b3" stroke-width="1.5" stroke-opacity="0.42"/>
<path d="M172.4 1673.2H175.6V1620.8H241.5V1568.4H254V1516H316.8V1463.6H335.6V1411.2H420.3V1358.8H473.7V1306.4H549" fill="none" stroke="#937860" stroke-width="1.5" stroke-opacity="0.42"/>
<path d="M172.4 1673.2H175.6V1620.8H244.6V1568.4H301.1V1516H326.2V1463.6H395.2V1411.2H423.5V1358.8H545.8V1306.4H549" fill="none" stroke="#da8bc3" stroke-width="1.5" stroke-opacity="0.42"/>
<path d="M172.4 1673.2V1620.8H238.3V1568.4H244.6V1516H294.8V1463.6H345V1411.2H407.8V1358.8H523.9V1306.4H549" fill="none" stroke="#8c8c8c" stroke-width="1.5" stroke-opacity="0.42"/>
<path d="M172.4 1673.2H175.6V1620.8H241.5V1568.4H250.9V1516H319.9V1463.6H379.5V1411.2H420.3V1358.8H523.9V1306.4H549" fill="none" stroke="#ccb974" stroke-width="1.5" stroke-opacity="0.42"/>
<path d="M172.4 1673.2V1620.8H238.3V1568.4H244.6V1516H250.9V1463.6H329.3V1411.2H388.9V1358.8H426.6V1306.4H549" fill="none" stroke="#64b5cd" stroke-width="1.5" stroke-opacity="0.42"/>
<path d="M172.4 1673.2V1620.8H238.3V1568.4H294.8V1516H316.8V1463.6H382.7V1411.2H420.3V1358.8H527V1306.4H549" fill="none" stroke="#4c72b0" stroke-width="1.5" stroke-opacity="0.42"/>
<path d="M172.4 1673.2V1620.8H235.2V1568.4H247.7V1516H323V1463.6H385.8V1411.2H414V1358.8H523.9V1306.4H549" fill="none" stroke="#dd8452" stroke-width="1.5" stroke-opacity="0.42"/>
<path d="M172.4 1673.2H178.7V1620.8H241.5V1568.4H254V1516H319.9V1463.6H388.9V1411.2H420.3V1358.8H530.1V1306.4H549" fill="none" stroke="#55a868" stroke-width="1.5" stroke-opacity="0.42"/>
<path d="M172.4 1673.2H178.7V1620.8H244.6V1568.4H254V1516H297.9V1463.6H335.6V1411.2H404.6V1358.8H476.8V1306.4H549" fill="none" stroke="#c44e52" stroke-width="1.5" stroke-opacity="0.42"/>
<path d="M172.4 1673.2V1620.8H244.6V1568.4H254V1516H323V1463.6H398.4V1411.2H423.5V1358.8H527V1306.4H549" fill="none" stroke="#8172b3" stroke-width="1.5" stroke-opacity="0.42"/>
<path d="M172.4 1673.2V1620.8H232V1568.4H250.9V1516H307.4V1463.6H323V1411.2H395.2V1358.8H445.4V1306.4H549" fill="none" stroke="#937860" stroke-width="1.5" stroke-opacity="0.42"/>
<path d="M172.4 1673.2H241.5V1620.8H250.9V1568.4H319.9V1516H385.8V1463.6H420.3V1411.2H436V1358.8H549V1306.4H549" fill="none" stroke="#da8bc3" stroke-width="1.5" stroke-opacity="0.42"/>
<path d="M172.4 1673.2H175.6V1620.8H238.3V1568.4H250.9V1516H307.4V1463.6H385.8V1411.2H407.8V1358.8H527V1306.4H549" fill="none" stroke="#8c8c8c" stroke-width="1.5" stroke-opacity="0.42"/>
<path d="M172.4 1673.2V1620.8H235.2V1568.4H244.6V1516H307.4V1463.6H326.2V1411.2H401.5V1358.8H461.1V1306.4H549" fill="none" stroke="#ccb974" stroke-width="1.5" stroke-opacity="0.42"/>
<path d="M172.4 1673.2V1620.8H244.6V1568.4H294.8V1516H326.2V1463.6H385.8V1411.2H420.3V1358.8H527V1306.4H549" fill="none" stroke="#64b5cd" stroke-width="1.5" stroke-opacity="0.42"/>
<path d="M172.4 1673.2H175.6V1620.8H241.5V1568.4H291.7V1516H316.8V1463.6H376.4V1411.2H420.3V1358.8H527V1306.4H549" fill="none" stroke="#4c72b0" stroke-width="1.5" stroke-opacity="0.42"/>
<path d="M172.4 1673.2H178.7V1620.8H244.6V1568.4H304.2V1516H326.2V1463.6H385.8V1411.2H423.5V1358.8H530.1V1306.4H549" fill="none" stroke="#dd8452" stroke-width="1.5" stroke-opacity="0.42"/>
<path d="M172.4 1673.2H175.6V1620.8H247.7V1568.4H257.1V1516H323V1463.6H379.5V1411.2H417.2V1358.8H527V1306.4H549" fill="none" stroke="#55a868" stroke-width="1.5" stroke-opacity="0.42"/>
<path d="M172.4 1673.2H175.6V1620.8H244.6V1568.4H254V1516H326.2V1463.6H388.9V1411.2H417.2V1358.8H527V1306.4H549" fill="none" stroke="#c44e52" stroke-width="1.5" stroke-opacity="0.42"/>
<path d="M172.4 1673.2H178.7V1620.8H244.6V1568.4H250.9V1516H316.8V1463.6H382.7V1411.2H398.4V1358.8H520.7V1306.4H549" fill="none" stroke="#8172b3" stroke-width="1.5" stroke-opacity="0.42"/>
<path d="M172.4 1673.2H178.7V1620.8H244.6V1568.4H250.9V1516H310.5V1463.6H382.7V1411.2H423.5V1358.8H533.3V1306.4H549" fill="none" stroke="#937860" stroke-width="1.5" stroke-opacity="0.42"/>
<path d="M172.4 1673.2H175.6V1620.8H247.7V1568.4V1516H307.4V1463.6H335.6V1411.2H414V1358.8H530.1V1306.4H549" fill="none" stroke="#da8bc3" stroke-width="1.5" stroke-opacity="0.42"/>
<path d="M172.4 1673.2H178.7V1620.8H244.6V1568.4H254V1516H323V1463.6H395.2V1411.2H423.5V1358.8H533.3V1306.4H549" fill="none" stroke="#8c8c8c" stroke-width="1.5" stroke-opacity="0.42"/>
<path d="M172.4 1673.2H175.6V1620.8H244.6V1568.4H297.9V1516H326.2V1463.6H388.9V1411.2H423.5V1358.8H530.1V1306.4H549" fill="none" stroke="#ccb974" stroke-width="1.5" stroke-opacity="0.42"/>
<path d="M172.4 1673.2H178.7V1620.8H244.6V1568.4H297.9V1516H326.2V1463.6H382.7V1411.2H429.7V1358.8H530.1V1306.4H549" fill="none" stroke="#64b5cd" stroke-width="1.5" stroke-opacity="0.42"/>
<path d="M172.4 1673.2H185V1620.8H244.6V1568.4H257.1V1516H316.8V1463.6H345V1411.2H420.3V1358.8H533.3V1306.4H549" fill="none" stroke="#4c72b0" stroke-width="1.5" stroke-opacity="0.42"/>
<path d="M172.4 1673.2H178.7V1620.8H241.5V1568.4H291.7V1516H316.8V1463.6H385.8V1411.2H417.2V1358.8H527V1306.4H549" fill="none" stroke="#dd8452" stroke-width="1.5" stroke-opacity="0.42"/>
<path d="M172.4 1673.2V1620.8H238.3V1568.4H244.6V1516H316.8V1463.6H382.7V1411.2H410.9V1358.8H527V1306.4H549" fill="none" stroke="#55a868" stroke-width="1.5" stroke-opacity="0.42"/>
<path d="M172.4 1673.2V1620.8H235.2V1568.4H250.9V1516H304.2V1463.6H335.6V1411.2H420.3V1358.8H523.9V1306.4H549" fill="none" stroke="#c44e52" stroke-width="1.5" stroke-opacity="0.42"/>
<line x1="172.4" y1="1673.2" x2="549" y2="1306.4" stroke="#8e8e8e" stroke-width="2.9" stroke-dasharray="9.3 4"/>
<path d="M172.4 1673.2 172.7 1670.6 174.6 1654.4 175.5 1648.8 179.2 1629.1 181.1 1626 189.6 1626 194.7 1626 219 1626 224 1625.6 231.5 1622.8 233.4 1620.9 238.1 1611.5 239.3 1608.3 242.1 1597.1 242.9 1592.4 245.8 1573.7 246.6 1568.1 249.4 1551.3 250.6 1546.5 255.3 1533.5 257.9 1531.4 270.1 1531.4 274.1 1531.3 287.2 1531 290.1 1530.4 295.7 1527 297.3 1525.3 302 1517.8 303.3 1514.9 307.1 1503.7 308.7 1500.4 315.2 1491.1 317.1 1487.8 322.8 1476.6 324.5 1472.8 330.1 1459.7 332.2 1456.2 339.7 1446.8 342 1445.1 349.5 1443.6 353.9 1443.3 374.5 1442.5 378.3 1441.6 382.1 1436.3 383.5 1433.7 389.1 1422.5 390.9 1418.8 396.5 1406.7 398.6 1403.7 406 1397.2 408.1 1395.6 413.7 1391.8 415.2 1390.4 418.9 1384.8 420.1 1381.2 423.8 1364.4 425 1360.9 428.8 1355.3 430.5 1353.9 438 1350.7 441.8 1350.2 458.7 1350 468.1 1349.9 511.1 1349.5 518.7 1349.1 524.4 1346.9 525.7 1344.5 528.5 1331.8 529.5 1327.4 533.3 1312.5 534.6 1309.8 539.3 1307.5 541.1 1307.1 547.9 1306.5 549 1306.4" fill="none" stroke="#5863ad" stroke-width="5.2" stroke-linejoin="round" stroke-linecap="butt"/>
</g>
<text x="244.4" y="1674" font-size="43.7" font-weight="bold" style="fill:#6267b2">0.59 (0.50, 0.68)</text>
<rect x="153.6" y="1288.1" width="414.2" height="403.4" fill="none" stroke="#231f20" stroke-width="2.0"/>
<path d="M172.4 1691.5V1700M266.6 1691.5V1700M360.7 1691.5V1700M454.8 1691.5V1700M549 1691.5V1700M153.6 1673.2H145.1M153.6 1599.8H145.1M153.6 1526.5H145.1M153.6 1453.1H145.1M153.6 1379.8H145.1M153.6 1306.4H145.1" stroke="#231f20" stroke-width="1.9" fill="none"/>
<text x="176.6" y="1729.8" font-size="31.4" text-anchor="middle">0.0</text>
<text x="265.1" y="1729.8" font-size="31.4" text-anchor="middle">0.25</text>
<text x="359.7" y="1729.8" font-size="31.4" text-anchor="middle">0.50</text>
<text x="451.8" y="1729.8" font-size="31.4" text-anchor="middle">0.75</text>
<text x="546" y="1729.8" font-size="31.4" text-anchor="middle">1.0</text>
<text x="136.3" y="1676.7" font-size="31.4" text-anchor="end">0.0</text>
<text x="136.3" y="1604.4" font-size="31.4" text-anchor="end">0.2</text>
<text x="136.3" y="1532.2" font-size="31.4" text-anchor="end">0.4</text>
<text x="136.3" y="1459.9" font-size="31.4" text-anchor="end">0.6</text>
<text x="136.3" y="1387.7" font-size="31.4" text-anchor="end">0.8</text>
<text x="136.3" y="1315.4" font-size="31.4" text-anchor="end">1.0</text>
<text x="366.3" y="1770.7" font-size="37.5" text-anchor="middle">false positive rate</text>
<text transform="translate(77.8 1490.3) rotate(-90)" font-size="37.7" text-anchor="middle">true positive rate</text>
<clipPath id="c7"><rect x="700.2" y="1288.1" width="414.1" height="403.4"/></clipPath>
<g clip-path="url(#c7)">
<polygon fill="#e2e3e6" points="719,1673.2 720,1673.2 720.9,1673.2 721.8,1673.2 722.8,1673.2 723.7,1673.2 724.7,1673.2 725.6,1673.2 726.6,1673.2 727.5,1673.2 728.4,1673.2 729.4,1673.2 730.3,1673.2 731.3,1673.2 732.2,1673.2 733.1,1673.2 734.1,1673.2 734.4,1673.2 735,1672.5 736,1671.5 736.9,1670.6 737.8,1669.6 738.8,1668.6 739.7,1667.6 740.7,1666.6 741.6,1665.6 742.6,1661.8 743,1659.9 743.5,1655.9 744.4,1647.9 745.4,1639.9 746.3,1631.8 747.3,1623.8 747.9,1618 748.2,1615.7 749.1,1607.2 750.1,1598.7 751,1590.2 752,1581.7 752.9,1573.6 752.9,1573.3 753.8,1565.2 754.8,1557.2 755.7,1549.2 756.7,1541.2 757.6,1533.2 757.8,1531.7 758.6,1527.2 759.5,1521.8 760.4,1516.3 761.4,1513.6 762.3,1511 763.3,1508.3 763.9,1506.4 764.2,1506 765.1,1504.7 766.1,1503.4 767,1502 768,1500.7 768.9,1499.3 769.8,1498 770.8,1496.6 771.3,1495.9 771.7,1495.9 772.7,1495.8 773.6,1495.8 774.5,1495.7 775.5,1495.7 776.4,1495.6 777.4,1495.6 778.3,1495.5 779.3,1495.5 780.2,1495.5 781.1,1495.4 782.1,1495.4 783,1495.3 784,1495.3 784.9,1495.2 785.8,1495.2 786.8,1495.1 787.7,1495.1 788.7,1495 789.6,1495 790.5,1494.9 791.5,1494.9 792.4,1494.8 793.4,1494.8 794.3,1494.7 795.3,1494.7 796.2,1494.6 797.1,1494.6 798.1,1494.5 798.3,1494.5 799,1494.5 800,1494.5 800.9,1494.4 801.8,1494.4 802.8,1494.4 803.7,1494.4 804.7,1494.3 805.6,1494.3 806.5,1494.3 807.5,1494.3 808.4,1494.3 809.4,1494.2 810.3,1494.2 811.3,1494.2 812.2,1494.2 813.1,1494.1 814.1,1494.1 815,1494.1 816,1494.1 816.9,1494 817.8,1494 818.8,1494 819.7,1494 820.7,1493.9 821.6,1493.9 822.5,1493.9 823.5,1493.9 824.4,1493.9 825.4,1493.8 826.3,1493.8 827.3,1493.8 828.2,1493.8 829.1,1493.7 830.1,1493.7 831,1493.7 832,1493.7 832.9,1493.6 833.8,1493.6 834.8,1493.6 835.7,1493.6 836.7,1493.5 837.6,1493.5 838.5,1493.5 839.5,1493.5 840.4,1493.5 841.4,1493.4 841.4,1493.4 842.3,1492.9 843.3,1492.4 844.2,1491.8 845.1,1491.3 846.1,1490.8 847,1490.2 848,1489.7 848.9,1489.2 849.8,1488.7 850.8,1488.1 851.7,1487.6 852.7,1487.1 853.6,1486.5 854.5,1486 855.5,1485.5 856.4,1484.9 857.3,1484.4 857.4,1484.4 858.3,1482.5 859.3,1480.6 860.2,1478.7 861.1,1476.8 862.1,1474.8 863,1472.9 864,1471 864.7,1469.5 864.9,1468.9 865.8,1465.9 866.8,1462.8 867.7,1459.8 868.7,1456.8 869.6,1453.7 870.5,1450.7 870.9,1449.7 871.5,1446.6 872.4,1441.8 873.4,1437.1 874.3,1432.4 875.3,1427.6 875.8,1425 876.2,1422.5 877.1,1416.8 878.1,1411.2 879,1405.5 880,1399.8 880.7,1395.3 880.9,1394.7 881.8,1391.7 882.8,1388.6 883.7,1385.6 884.7,1382.6 885.6,1379.5 886.5,1376.5 886.8,1375.5 887.5,1374.5 888.4,1373.1 889.4,1371.7 890.3,1370.2 891.3,1368.8 892.2,1367.4 893.1,1365.9 894.1,1364.5 894.2,1364.3 895,1363.9 896,1363.6 896.9,1363.2 897.8,1362.8 898.8,1362.4 899.7,1362.1 900.7,1361.7 901.6,1361.3 902.5,1360.9 903.5,1360.6 904.1,1360.3 904.4,1360.3 905.4,1360.3 906.3,1360.3 907.2,1360.3 908.2,1360.2 909.1,1360.2 910.1,1360.2 911,1360.2 912,1360.2 912.9,1360.2 913.8,1360.2 914.8,1360.1 915.7,1360.1 916.7,1360.1 917.6,1360.1 918.5,1360.1 919.5,1360.1 920.4,1360.1 921.4,1360.1 922.3,1360 923.2,1360 924.2,1360 925.1,1360 926.1,1360 927,1360 928,1360 928.9,1359.9 929.8,1359.9 930.8,1359.9 931.7,1359.9 932.7,1359.9 933.6,1359.9 933.6,1359.9 934.5,1359.9 935.5,1359.9 936.4,1359.8 937.4,1359.8 938.3,1359.8 939.2,1359.8 940.2,1359.8 941.1,1359.8 942.1,1359.8 943,1359.8 944,1359.7 944.9,1359.7 945.8,1359.7 946.8,1359.7 947.7,1359.7 948.7,1359.7 949.6,1359.7 950.5,1359.6 951.5,1359.6 952.4,1359.6 953.4,1359.6 954.3,1359.6 955.2,1359.6 956.2,1359.6 957.1,1359.6 958.1,1359.5 959,1359.5 960,1359.5 960.9,1359.5 961.8,1359.5 962.8,1359.5 963.7,1359.5 964.7,1359.5 965.6,1359.4 966.5,1359.4 967.5,1359.4 968.4,1359.4 969.4,1359.4 970.3,1359.4 971.2,1359.4 972.2,1359.3 973.1,1359.3 974.1,1359.3 975,1359.3 976,1359.3 976.9,1359.3 977.8,1359.3 978.8,1359.3 979.7,1359.2 980.7,1359.2 981.6,1359.2 982.5,1359.2 983.5,1359.2 984.4,1359.2 985.4,1359.2 986.3,1359.2 987.2,1359.1 988.2,1359.1 989.1,1359.1 990.1,1359.1 991,1359.1 992,1359.1 992.9,1359.1 993.8,1359 994.8,1359 995.7,1359 996.7,1359 997.6,1359 998.5,1359 999.5,1359 1000.4,1359 1001.4,1358.9 1002.3,1358.9 1003.2,1358.9 1004.2,1358.9 1005.1,1358.9 1006.1,1358.9 1007,1358.9 1008,1358.8 1008.9,1358.8 1009.8,1358.8 1010.8,1358.8 1011.7,1358.8 1012.7,1358.8 1013.6,1358.8 1014.5,1358.8 1015.5,1358.7 1016.4,1358.7 1017.4,1358.7 1018.3,1358.7 1019.2,1358.7 1020.2,1358.7 1021.1,1358.7 1022.1,1358.7 1023,1358.6 1024,1358.6 1024.9,1358.6 1025.8,1358.6 1026.8,1358.6 1027.7,1358.6 1028.7,1358.6 1029.6,1358.5 1030.5,1358.5 1031.5,1358.5 1032.4,1358.5 1033.1,1358.5 1033.4,1357.8 1034.3,1355 1035.2,1352.1 1036.2,1349.3 1037.1,1346.5 1038,1343.7 1038.1,1343.6 1039,1338.9 1040,1335.3 1040.9,1331.6 1041.8,1328 1042.8,1324.4 1043,1323.7 1043.7,1320.8 1044.7,1317.2 1045.6,1313.6 1046.5,1310 1047.5,1306.4 1047.9,1306.4 1048.4,1306.4 1049.4,1306.4 1050.3,1306.4 1051.2,1306.4 1052.2,1306.4 1053.1,1306.4 1054,1306.4 1054.1,1306.4 1055,1306.4 1055.9,1306.4 1056.9,1306.4 1057.8,1306.4 1058.8,1306.4 1059.7,1306.4 1060.7,1306.4 1061.4,1306.4 1061.6,1306.4 1062.5,1306.4 1063.5,1306.4 1064.4,1306.4 1065.4,1306.4 1066.3,1306.4 1067.2,1306.4 1068.2,1306.4 1069.1,1306.4 1070.1,1306.4 1071,1306.4 1071.2,1306.4 1071.9,1306.4 1072.9,1306.4 1073.8,1306.4 1074.8,1306.4 1075.7,1306.4 1076.7,1306.4 1077.6,1306.4 1078.5,1306.4 1079.5,1306.4 1080.4,1306.4 1081.4,1306.4 1082.3,1306.4 1083.2,1306.4 1084.2,1306.4 1085.1,1306.4 1086.1,1306.4 1087,1306.4 1087.9,1306.4 1088.9,1306.4 1089.8,1306.4 1090.8,1306.4 1091.7,1306.4 1092.7,1306.4 1093.6,1306.4 1094.5,1306.4 1095.5,1306.4 1095.5,1306.4 1094.5,1307.4 1093.6,1308.4 1092.7,1309.3 1091.7,1310.3 1090.8,1311.3 1089.8,1312.2 1088.9,1313.2 1087.9,1314.2 1087,1315.1 1086.1,1316.1 1085.1,1317 1084.2,1318 1083.2,1319 1082.3,1319.9 1081.4,1320.9 1080.4,1321.9 1079.5,1322.8 1078.5,1323.8 1077.6,1324.8 1076.7,1325.7 1075.7,1326.9 1074.8,1328 1073.8,1329.2 1072.9,1330.3 1071.9,1331.5 1071.2,1332.3 1071,1332.8 1070.1,1334.9 1069.1,1336.9 1068.2,1339 1067.2,1341 1066.3,1343 1065.4,1345.1 1064.4,1347.1 1063.5,1349.2 1062.5,1351.2 1061.6,1353.2 1061.4,1353.7 1060.7,1356 1059.7,1359 1058.8,1362 1057.8,1365 1056.9,1368 1055.9,1371 1055,1373.9 1054.1,1376.9 1054,1377 1053.1,1381.7 1052.2,1386.6 1051.2,1391.4 1050.3,1396.3 1049.4,1401.2 1048.4,1406 1047.9,1408.8 1047.5,1411.3 1046.5,1417.1 1045.6,1422.9 1044.7,1428.7 1043.7,1434.5 1043,1439.1 1042.8,1440.3 1041.8,1446.1 1040.9,1451.9 1040,1457.7 1039,1463.5 1038.1,1468.2 1038,1468.3 1037.1,1471.1 1036.2,1473.9 1035.2,1476.7 1034.3,1479.5 1033.4,1482.3 1033.1,1483 1032.4,1483 1031.5,1483 1030.5,1483 1029.6,1483 1028.7,1483 1027.7,1482.9 1026.8,1482.9 1025.8,1482.9 1024.9,1482.9 1024,1482.9 1023,1482.9 1022.1,1482.9 1021.1,1482.9 1020.2,1482.8 1019.2,1482.8 1018.3,1482.8 1017.4,1482.8 1016.4,1482.8 1015.5,1482.8 1014.5,1482.8 1013.6,1482.8 1012.7,1482.7 1011.7,1482.7 1010.8,1482.7 1009.8,1482.7 1008.9,1482.7 1008,1482.7 1007,1482.7 1006.1,1482.6 1005.1,1482.6 1004.2,1482.6 1003.2,1482.6 1002.3,1482.6 1001.4,1482.6 1000.4,1482.6 999.5,1482.6 998.5,1482.5 997.6,1482.5 996.7,1482.5 995.7,1482.5 994.8,1482.5 993.8,1482.5 992.9,1482.5 992,1482.4 991,1482.4 990.1,1482.4 989.1,1482.4 988.2,1482.4 987.2,1482.4 986.3,1482.4 985.4,1482.4 984.4,1482.3 983.5,1482.3 982.5,1482.3 981.6,1482.3 980.7,1482.3 979.7,1482.3 978.8,1482.3 977.8,1482.3 976.9,1482.2 976,1482.2 975,1482.2 974.1,1482.2 973.1,1482.2 972.2,1482.2 971.2,1482.2 970.3,1482.1 969.4,1482.1 968.4,1482.1 967.5,1482.1 966.5,1482.1 965.6,1482.1 964.7,1482.1 963.7,1482.1 962.8,1482 961.8,1482 960.9,1482 960,1482 959,1482 958.1,1482 957.1,1482 956.2,1482 955.2,1481.9 954.3,1481.9 953.4,1481.9 952.4,1481.9 951.5,1481.9 950.5,1481.9 949.6,1481.9 948.7,1481.8 947.7,1481.8 946.8,1481.8 945.8,1481.8 944.9,1481.8 944,1481.8 943,1481.8 942.1,1481.8 941.1,1481.7 940.2,1481.7 939.2,1481.7 938.3,1481.7 937.4,1481.7 936.4,1481.7 935.5,1481.7 934.5,1481.7 933.6,1481.6 933.6,1481.6 932.7,1481.6 931.7,1481.6 930.8,1481.6 929.8,1481.6 928.9,1481.6 928,1481.6 927,1481.5 926.1,1481.5 925.1,1481.5 924.2,1481.5 923.2,1481.5 922.3,1481.5 921.4,1481.5 920.4,1481.5 919.5,1481.4 918.5,1481.4 917.6,1481.4 916.7,1481.4 915.7,1481.4 914.8,1481.4 913.8,1481.4 912.9,1481.3 912,1481.3 911,1481.3 910.1,1481.3 909.1,1481.3 908.2,1481.3 907.2,1481.3 906.3,1481.2 905.4,1481.2 904.4,1481.2 904.1,1481.2 903.5,1481.4 902.5,1481.7 901.6,1482.1 900.7,1482.4 899.7,1482.7 898.8,1483 897.8,1483.4 896.9,1483.7 896,1484 895,1484.4 894.2,1484.6 894.1,1484.9 893.1,1486.2 892.2,1487.6 891.3,1489 890.3,1490.4 889.4,1491.8 888.4,1493.2 887.5,1494.6 886.8,1495.5 886.5,1496.5 885.6,1499.5 884.7,1502.5 883.7,1505.4 882.8,1508.4 881.8,1511.4 880.9,1514.4 880.7,1515 880,1519.5 879,1525.1 878.1,1530.7 877.1,1536.3 876.2,1542 875.8,1544.4 875.3,1547.1 874.3,1551.7 873.4,1556.4 872.4,1561.1 871.5,1565.8 870.9,1568.9 870.5,1569.9 869.6,1572.9 868.7,1575.9 867.7,1578.9 866.8,1581.8 865.8,1584.8 864.9,1587.8 864.7,1588.4 864,1589.9 863,1591.8 862.1,1593.6 861.1,1595.5 860.2,1597.3 859.3,1599.2 858.3,1601 857.4,1602.9 857.3,1603 856.4,1603.4 855.5,1603.9 854.5,1604.4 853.6,1604.9 852.7,1605.4 851.7,1605.8 850.8,1606.3 849.8,1606.8 848.9,1607.3 848,1607.8 847,1608.3 846.1,1608.7 845.1,1609.2 844.2,1609.7 843.3,1610.2 842.3,1610.7 841.4,1611.2 841.4,1611.2 840.4,1611.1 839.5,1611.1 838.5,1611.1 837.6,1611.1 836.7,1611 835.7,1611 834.8,1611 833.8,1611 832.9,1610.9 832,1610.9 831,1610.9 830.1,1610.9 829.1,1610.9 828.2,1610.8 827.3,1610.8 826.3,1610.8 825.4,1610.8 824.4,1610.7 823.5,1610.7 822.5,1610.7 821.6,1610.7 820.7,1610.6 819.7,1610.6 818.8,1610.6 817.8,1610.6 816.9,1610.5 816,1610.5 815,1610.5 814.1,1610.5 813.1,1610.5 812.2,1610.4 811.3,1610.4 810.3,1610.4 809.4,1610.4 808.4,1610.3 807.5,1610.3 806.5,1610.3 805.6,1610.3 804.7,1610.2 803.7,1610.2 802.8,1610.2 801.8,1610.2 800.9,1610.1 800,1610.1 799,1610.1 798.3,1610.1 798.1,1610.1 797.1,1610.1 796.2,1610.1 795.3,1610.1 794.3,1610.1 793.4,1610.1 792.4,1610.1 791.5,1610.1 790.5,1610.1 789.6,1610.1 788.7,1610.1 787.7,1610.1 786.8,1610.1 785.8,1610.1 784.9,1610.1 784,1610.1 783,1610.1 782.1,1610.1 781.1,1610.1 780.2,1610.1 779.3,1610.1 778.3,1610.1 777.4,1610.1 776.4,1610.1 775.5,1610.1 774.5,1610.1 773.6,1610.1 772.7,1610.1 771.7,1610.1 771.3,1610.1 770.8,1610.8 769.8,1612.1 768.9,1613.4 768,1614.7 767,1616 766.1,1617.3 765.1,1618.6 764.2,1619.9 763.9,1620.3 763.3,1622.1 762.3,1624.7 761.4,1627.4 760.4,1630 759.5,1629.8 758.6,1629.6 757.8,1629.4 757.6,1629.8 756.7,1632.1 755.7,1634.5 754.8,1636.8 753.8,1639.1 752.9,1641.5 752.9,1641.6 752,1644.2 751,1647.1 750.1,1649.9 749.1,1652.7 748.2,1655.5 747.9,1656.2 747.3,1657.9 746.3,1660.3 745.4,1662.6 744.4,1664.9 743.5,1667.3 743,1668.4 742.6,1667.5 741.6,1665.6 740.7,1666.6 739.7,1667.6 738.8,1668.6 737.8,1669.6 736.9,1670.6 736,1671.5 735,1672.5 734.4,1673.2 734.1,1673.2 733.1,1673.2 732.2,1673.2 731.3,1673.2 730.3,1673.2 729.4,1673.2 728.4,1673.2 727.5,1673.2 726.6,1673.2 725.6,1673.2 724.7,1673.2 723.7,1673.2 722.8,1673.2 721.8,1673.2 720.9,1673.2 720,1673.2 719,1673.2"/>
<path d="M719 1673.2H734.7V1612V1550.9H744.1V1489.8H756.7V1428.7H863.3V1367.6H888.4V1306.4H1095.5" fill="none" stroke="#4c72b0" stroke-width="1.5" stroke-opacity="0.42"/>
<path d="M719 1673.2H750.4V1612H863.3V1550.9H872.7V1489.8H1042.1V1428.7H1057.8V1367.6V1306.4H1095.5" fill="none" stroke="#dd8452" stroke-width="1.5" stroke-opacity="0.42"/>
<path d="M719 1673.2H747.3V1612H750.4V1550.9H756.7V1489.8H875.9V1428.7H888.4V1367.6H1048.4V1306.4H1095.5" fill="none" stroke="#55a868" stroke-width="1.5" stroke-opacity="0.42"/>
<path d="M719 1673.2H737.8V1612H744.1V1550.9H847.6V1489.8H869.6V1428.7H1035.9V1367.6V1306.4H1095.5" fill="none" stroke="#c44e52" stroke-width="1.5" stroke-opacity="0.42"/>
<path d="M719 1673.2H753.5V1612H841.4V1550.9H1035.9V1489.8V1428.7H1048.4V1367.6H1092.3V1306.4H1095.5" fill="none" stroke="#8172b3" stroke-width="1.5" stroke-opacity="0.42"/>
<path d="M719 1673.2H744.1V1612H756.7V1550.9H869.6V1489.8H888.4V1428.7H1045.3V1367.6H1054.7V1306.4H1095.5" fill="none" stroke="#937860" stroke-width="1.5" stroke-opacity="0.42"/>
<path d="M719 1673.2H750.4V1612H756.7V1550.9H857.1V1489.8H879V1428.7H1045.3V1367.6H1054.7V1306.4H1095.5" fill="none" stroke="#da8bc3" stroke-width="1.5" stroke-opacity="0.42"/>
<path d="M719 1673.2H753.5V1612H866.5V1550.9H879V1489.8H1042.1V1428.7V1367.6H1061V1306.4H1095.5" fill="none" stroke="#8c8c8c" stroke-width="1.5" stroke-opacity="0.42"/>
<path d="M719 1673.2H741V1612H744.1V1550.9H753.5V1489.8H879V1428.7H882.2V1367.6H1045.3V1306.4H1095.5" fill="none" stroke="#ccb974" stroke-width="1.5" stroke-opacity="0.42"/>
<path d="M719 1673.2H750.4V1612H759.8V1550.9H879V1489.8H894.7V1428.7H1042.1V1367.6H1089.2V1306.4H1095.5" fill="none" stroke="#64b5cd" stroke-width="1.5" stroke-opacity="0.42"/>
<path d="M719 1673.2H750.4V1612H759.8V1550.9H866.5V1489.8H875.9V1428.7H1045.3V1367.6H1061V1306.4H1095.5" fill="none" stroke="#4c72b0" stroke-width="1.5" stroke-opacity="0.42"/>
<path d="M719 1673.2H747.3V1612H756.7V1550.9H869.6V1489.8H872.7V1428.7H1042.1V1367.6H1089.2V1306.4H1095.5" fill="none" stroke="#dd8452" stroke-width="1.5" stroke-opacity="0.42"/>
<path d="M719 1673.2H753.5V1612H766.1V1550.9H872.7V1489.8H879V1428.7H1045.3V1367.6H1061V1306.4H1095.5" fill="none" stroke="#55a868" stroke-width="1.5" stroke-opacity="0.42"/>
<path d="M719 1673.2H750.4V1612H769.2V1550.9H863.3V1489.8H882.2V1428.7H1039V1367.6H1051.6V1306.4H1095.5" fill="none" stroke="#c44e52" stroke-width="1.5" stroke-opacity="0.42"/>
<path d="M719 1673.2H753.5V1612H866.5V1550.9H879V1489.8H1035.9V1428.7H1054.7V1367.6H1089.2V1306.4H1095.5" fill="none" stroke="#8172b3" stroke-width="1.5" stroke-opacity="0.42"/>
<path d="M719 1673.2H737.8V1612H747.3V1550.9H759.8V1489.8H869.6V1428.7H882.2V1367.6H1048.4V1306.4H1095.5" fill="none" stroke="#937860" stroke-width="1.5" stroke-opacity="0.42"/>
<path d="M719 1673.2H747.3V1612H756.7V1550.9H853.9V1489.8H872.7V1428.7H888.4V1367.6H1051.6V1306.4H1095.5" fill="none" stroke="#da8bc3" stroke-width="1.5" stroke-opacity="0.42"/>
<path d="M719 1673.2H756.7V1612V1550.9H875.9V1489.8H885.3V1428.7H1048.4V1367.6H1054.7V1306.4H1095.5" fill="none" stroke="#8c8c8c" stroke-width="1.5" stroke-opacity="0.42"/>
<path d="M719 1673.2H762.9V1612H872.7V1550.9H885.3V1489.8H1045.3V1428.7H1061V1367.6H1092.3V1306.4H1095.5" fill="none" stroke="#ccb974" stroke-width="1.5" stroke-opacity="0.42"/>
<path d="M719 1673.2H744.1V1612H750.4V1550.9H866.5V1489.8H872.7V1428.7H1032.7V1367.6H1045.3V1306.4H1095.5" fill="none" stroke="#64b5cd" stroke-width="1.5" stroke-opacity="0.42"/>
<path d="M719 1673.2H744.1V1612H753.5V1550.9H863.3V1489.8H875.9V1428.7H1035.9V1367.6H1045.3V1306.4H1095.5" fill="none" stroke="#4c72b0" stroke-width="1.5" stroke-opacity="0.42"/>
<path d="M719 1673.2H750.4V1612H756.7V1550.9H872.7V1489.8H882.2V1428.7H1042.1V1367.6H1070.4V1306.4H1095.5" fill="none" stroke="#dd8452" stroke-width="1.5" stroke-opacity="0.42"/>
<path d="M719 1673.2H737.8V1612H747.3V1550.9H762.9V1489.8H769.2V1428.7H888.4V1367.6H1048.4V1306.4H1095.5" fill="none" stroke="#55a868" stroke-width="1.5" stroke-opacity="0.42"/>
<path d="M719 1673.2H737.8V1612H747.3V1550.9H753.5V1489.8H863.3V1428.7H885.3V1367.6H1045.3V1306.4H1095.5" fill="none" stroke="#c44e52" stroke-width="1.5" stroke-opacity="0.42"/>
<path d="M719 1673.2H756.7V1612H872.7V1550.9V1489.8H1039V1428.7H1051.6V1367.6H1092.3V1306.4H1095.5" fill="none" stroke="#8172b3" stroke-width="1.5" stroke-opacity="0.42"/>
<path d="M719 1673.2H753.5V1612H759.8V1550.9H879V1489.8H891.6V1428.7H1045.3V1367.6H1051.6V1306.4H1095.5" fill="none" stroke="#937860" stroke-width="1.5" stroke-opacity="0.42"/>
<path d="M719 1673.2H737.8V1612H756.7V1550.9H762.9V1489.8H866.5V1428.7H1039V1367.6H1045.3V1306.4H1095.5" fill="none" stroke="#da8bc3" stroke-width="1.5" stroke-opacity="0.42"/>
<path d="M719 1673.2H747.3V1612H750.4V1550.9H863.3V1489.8H872.7V1428.7H888.4V1367.6H1057.8V1306.4H1095.5" fill="none" stroke="#8c8c8c" stroke-width="1.5" stroke-opacity="0.42"/>
<path d="M719 1673.2H741V1612H750.4V1550.9H772.4V1489.8H879V1428.7H1035.9V1367.6H1057.8V1306.4H1095.5" fill="none" stroke="#ccb974" stroke-width="1.5" stroke-opacity="0.42"/>
<path d="M719 1673.2H756.7V1612H879V1550.9H882.2V1489.8H1042.1V1428.7H1057.8V1367.6H1064.1V1306.4H1095.5" fill="none" stroke="#64b5cd" stroke-width="1.5" stroke-opacity="0.42"/>
<path d="M719 1673.2H753.5V1612H756.7V1550.9H872.7V1489.8H879V1428.7H1042.1V1367.6H1057.8V1306.4H1095.5" fill="none" stroke="#4c72b0" stroke-width="1.5" stroke-opacity="0.42"/>
<path d="M719 1673.2H750.4V1612H841.4V1550.9H875.9V1489.8H891.6V1428.7H1045.3V1367.6H1057.8V1306.4H1095.5" fill="none" stroke="#dd8452" stroke-width="1.5" stroke-opacity="0.42"/>
<path d="M719 1673.2H731.6V1612H741V1550.9H750.4V1489.8H863.3V1428.7H872.7V1367.6H1035.9V1306.4H1095.5" fill="none" stroke="#55a868" stroke-width="1.5" stroke-opacity="0.42"/>
<path d="M719 1673.2H750.4V1612H769.2V1550.9H872.7V1489.8H1035.9V1428.7H1045.3V1367.6H1089.2V1306.4H1095.5" fill="none" stroke="#c44e52" stroke-width="1.5" stroke-opacity="0.42"/>
<line x1="719" y1="1673.2" x2="1095.5" y2="1306.4" stroke="#8e8e8e" stroke-width="2.9" stroke-dasharray="9.3 4"/>
<path d="M719 1673.2 720.9 1673.2 732.6 1673.2 735.5 1672.1 742 1665.2 743.6 1660.9 747.4 1640.4 748.5 1633.6 752.3 1611.1 753.4 1604.4 757.2 1583.8 758.5 1578.5 763.2 1565.4 764.8 1562.1 770.4 1554.3 774.5 1552.9 795.1 1552.4 803.5 1552.3 836.2 1552.3 843.3 1551.3 855.4 1544.7 858.2 1541.9 863.8 1530.7 865.5 1526.6 870.1 1511.6 871.5 1506.3 875.2 1487.6 876.4 1481.1 880.1 1458.7 881.4 1452.8 886.1 1437.9 887.7 1434.2 893.3 1425.8 895.4 1424 902.9 1421.2 907.6 1420.8 930 1420.8 945.5 1420.8 1021.2 1420.8 1033.7 1419 1037.5 1407.8 1038.6 1403.1 1042.4 1384.4 1043.6 1378.5 1047.3 1359.8 1048.6 1353.9 1053.3 1335.2 1054.9 1330.5 1060.5 1319.3 1062.6 1316.3 1070.1 1308.8 1074.1 1307.5 1092.6 1306.6 1095.5 1306.4" fill="none" stroke="#5863ad" stroke-width="5.2" stroke-linejoin="round" stroke-linecap="butt"/>
</g>
<text x="784.2" y="1667.1" font-size="43.7" font-weight="bold" style="fill:#6267b2">0.55 (0.33, 0.77)</text>
<rect x="700.2" y="1288.1" width="414.1" height="403.4" fill="none" stroke="#231f20" stroke-width="2.0"/>
<path d="M719 1691.5V1700M813.1 1691.5V1700M907.2 1691.5V1700M1001.4 1691.5V1700M1095.5 1691.5V1700M700.2 1673.2H691.7M700.2 1599.8H691.7M700.2 1526.5H691.7M700.2 1453.1H691.7M700.2 1379.8H691.7M700.2 1306.4H691.7" stroke="#231f20" stroke-width="1.9" fill="none"/>
<text x="725.5" y="1731.6" font-size="31.4" text-anchor="middle">0.0</text>
<text x="813.9" y="1731.6" font-size="31.4" text-anchor="middle">0.25</text>
<text x="908.5" y="1731.6" font-size="31.4" text-anchor="middle">0.50</text>
<text x="1000.7" y="1731.6" font-size="31.4" text-anchor="middle">0.75</text>
<text x="1094.8" y="1731.6" font-size="31.4" text-anchor="middle">1.0</text>
<text x="685.5" y="1676.7" font-size="31.4" text-anchor="end">0.0</text>
<text x="685.5" y="1604.4" font-size="31.4" text-anchor="end">0.2</text>
<text x="685.5" y="1532.2" font-size="31.4" text-anchor="end">0.4</text>
<text x="685.5" y="1459.9" font-size="31.4" text-anchor="end">0.6</text>
<text x="685.5" y="1387.7" font-size="31.4" text-anchor="end">0.8</text>
<text x="685.5" y="1315.4" font-size="31.4" text-anchor="end">1.0</text>
<text x="915.8" y="1773.3" font-size="37.5" text-anchor="middle">false positive rate</text>
<text transform="translate(626.3 1490.3) rotate(-90)" font-size="37.7" text-anchor="middle">true positive rate</text>
<clipPath id="c8"><rect x="1271.5" y="1288.1" width="414.1" height="403.4"/></clipPath>
<g clip-path="url(#c8)">
<polygon fill="#e2e3e6" points="1290.3,1673.2 1291.3,1656.6 1292.2,1640 1293.1,1623.4 1293.6,1614.7 1294.1,1606.8 1295,1597.2 1296,1587.6 1296.9,1578.1 1297.8,1568.9 1297.9,1568.9 1298.8,1568.8 1299.7,1568.8 1300.7,1568.8 1301.6,1568.7 1302.6,1568.7 1303.5,1568.6 1304.4,1568.6 1305.4,1568.6 1306.3,1568.5 1307.3,1568.5 1308.2,1568.4 1309.1,1568.4 1310.1,1568.3 1311,1568.3 1312,1568.3 1312.9,1568.2 1313.9,1568.2 1314.8,1568.1 1315.7,1568.1 1316.7,1568.1 1317.6,1568 1318.6,1568 1319.5,1567.9 1320.4,1567.9 1321.2,1567.9 1321.4,1567.9 1322.3,1567.8 1323.3,1567.8 1324.2,1567.7 1325.1,1567.7 1326.1,1567.6 1327,1567.6 1328,1567.6 1328.9,1567.5 1329.9,1567.5 1330.8,1567.4 1331.7,1567.4 1332.7,1567.4 1333.6,1567.3 1334.6,1567.3 1335.5,1567.2 1336.4,1567.2 1337.4,1567.2 1338.3,1567.1 1339.3,1567.1 1340.2,1567 1341.1,1567 1342.1,1566.9 1343,1566.9 1344,1566.9 1344.9,1566.8 1345.8,1566.8 1346.8,1566.7 1347.7,1566.7 1348.7,1566.7 1349.6,1566.6 1350.6,1566.6 1351.5,1566.5 1352.4,1566.5 1353.4,1566.5 1354.3,1566.4 1355.3,1566.4 1356.2,1566.3 1357.1,1566.3 1358,1566.3 1358.1,1566.2 1359,1565.8 1360,1565.3 1360.9,1564.9 1361.8,1564.4 1362.8,1564 1363.7,1563.5 1364.7,1563.1 1365.4,1562.7 1365.6,1562.5 1366.6,1561.3 1367.5,1560.2 1368.4,1559 1369.4,1557.8 1370.3,1556.6 1371.3,1555.5 1371.6,1555.1 1372.2,1553.6 1373.1,1551.4 1374.1,1549.1 1375,1546.9 1375.3,1546.3 1376,1543.5 1376.9,1539.7 1377.8,1535.9 1378.8,1532 1379.7,1528.2 1380.2,1526.4 1380.7,1525.3 1381.6,1523 1382.6,1520.8 1383.5,1518.5 1384.4,1516.3 1385.4,1514.1 1386.3,1511.8 1387.3,1509.6 1387.6,1508.9 1388.2,1507.4 1389.1,1505.3 1390.1,1503.1 1391,1500.9 1392,1498.8 1392.9,1496.6 1393.8,1494.5 1394.8,1492.3 1395.7,1490.1 1396.7,1488 1397.4,1486.4 1397.6,1486.3 1398.6,1486.3 1399.5,1486.3 1400.4,1486.2 1401.4,1486.2 1402.3,1486.1 1403.3,1486.1 1404.2,1486.1 1405.1,1486.1 1406.1,1486.2 1407,1486.2 1408,1486.2 1408.9,1486.2 1409.7,1486.2 1409.8,1486.2 1410.8,1486.2 1411.7,1486.2 1412.7,1486.2 1413.6,1486.2 1414.6,1486.2 1415.5,1486.2 1416.4,1486.2 1417.4,1486.2 1418.3,1486.2 1419.3,1486.2 1420.2,1486.2 1421.1,1486.2 1422.1,1486.2 1423,1486.1 1424,1486.1 1424.9,1486.1 1425.8,1486.1 1426.8,1486.1 1427.7,1486.1 1428.7,1486.1 1429.3,1486.1 1429.6,1486 1430.6,1485.6 1431.5,1485.2 1432.4,1484.8 1433.4,1484.4 1434.3,1484.1 1435.3,1483.7 1436.2,1483.3 1436.7,1483.1 1437.1,1483.1 1438.1,1483.1 1439,1483.1 1440,1483.1 1440.9,1483.1 1441.8,1483.2 1442.8,1483.2 1443.7,1483.2 1444.1,1483.2 1444.7,1482.5 1445.6,1481.5 1446.6,1480.4 1447.5,1479.3 1448.4,1478.2 1449.4,1477.1 1450.3,1476.1 1451.3,1475 1451.5,1474.7 1452.2,1472.2 1453.1,1468.9 1454.1,1465.7 1455,1462.4 1456,1459.1 1456.4,1457.6 1456.9,1455.7 1457.8,1452.2 1458.8,1448.7 1459.7,1445.2 1460.7,1441.7 1461.3,1439.3 1461.6,1438.6 1462.6,1436.6 1463.5,1434.6 1464.4,1432.6 1465.4,1430.6 1466.3,1428.5 1467.3,1426.5 1468.2,1424.5 1468.7,1423.4 1469.1,1422.4 1470.1,1420.2 1471,1418 1472,1415.9 1472.9,1413.7 1473.8,1411.5 1474.8,1409.3 1475.7,1407.2 1476.1,1406.4 1476.7,1404.6 1477.6,1401.8 1478.5,1399 1479.5,1396.2 1480.4,1393.3 1481.4,1390.5 1482.3,1387.7 1483.3,1384.9 1483.4,1384.4 1484.2,1381.9 1485.1,1378.8 1486.1,1375.6 1487,1372.5 1488,1369.4 1488.9,1366.3 1489.8,1363.2 1490.8,1360 1490.8,1360 1491.7,1359.1 1492.7,1358.1 1493.6,1357.2 1494.5,1356.3 1495.5,1355.4 1496.4,1354.4 1497.4,1353.5 1498.3,1352.6 1499.3,1351.7 1500.2,1350.8 1500.6,1350.4 1501.1,1350.3 1502.1,1350.3 1503,1350.2 1504,1350.1 1504.9,1350.1 1505.8,1350 1506.8,1349.9 1507.7,1349.9 1508.7,1349.8 1509.6,1349.8 1510.5,1349.7 1511.5,1349.6 1512.4,1349.6 1512.9,1349.5 1513.4,1349.5 1514.3,1349.5 1515.3,1349.6 1516.2,1349.6 1517.1,1349.6 1518.1,1349.6 1519,1349.6 1520,1349.6 1520.9,1349.6 1521.8,1349.7 1522.8,1349.7 1523.7,1349.7 1524.7,1349.7 1525.6,1349.7 1526.5,1349.7 1527.5,1349.7 1528.4,1349.7 1529.4,1349.8 1530.3,1349.8 1531.3,1349.8 1532.2,1349.8 1533.1,1349.8 1534.1,1349.8 1535,1349.8 1536,1349.8 1536.9,1349.9 1537.8,1349.9 1538.8,1349.9 1539.7,1349.9 1540.7,1349.9 1541.6,1349.9 1542.5,1349.9 1543.5,1349.9 1544.4,1350 1545.4,1350 1546.3,1350 1547.3,1350 1548.2,1350 1549.1,1350 1550.1,1350 1551,1350.1 1552,1350.1 1552.3,1350.1 1552.9,1349.9 1553.8,1349.8 1554.8,1350.5 1555.7,1351.1 1556.7,1351.8 1557.6,1352.5 1558.5,1353.2 1559.5,1353.9 1559.6,1354.1 1560.4,1353.1 1561.4,1352 1562.3,1350.9 1563.3,1349.8 1564.2,1348.6 1565.1,1347.5 1566.1,1346.4 1567,1345.3 1567,1345.3 1568,1342.4 1568.9,1339.6 1569.8,1336.7 1570.8,1333.9 1571.7,1331 1572.7,1328.2 1573.2,1326.7 1573.6,1325.8 1574.5,1324.1 1575.5,1322.3 1576.4,1320.5 1577.4,1318.8 1578.3,1317 1579.3,1315.2 1580.2,1313.4 1581.1,1311.7 1581.8,1310.5 1582.1,1310.5 1583,1310.6 1584,1310.8 1584.9,1310 1585.8,1309.2 1586.8,1308.4 1587.7,1307.6 1588.7,1306.8 1589.2,1306.4 1589.6,1306.4 1590.5,1306.4 1591.5,1306.4 1592.4,1306.4 1593.4,1306.4 1594.3,1306.4 1595.3,1306.4 1596.2,1306.4 1597.1,1306.4 1598.1,1306.4 1599,1306.4 1600,1306.4 1600.9,1306.4 1601.8,1306.4 1602.8,1306.4 1603.7,1306.4 1604.7,1306.4 1605.6,1306.4 1606.5,1306.4 1607.5,1306.4 1608.4,1306.4 1609.4,1306.4 1610.3,1306.4 1611.3,1306.4 1612.2,1306.4 1613.1,1306.4 1614.1,1306.4 1615,1306.4 1616,1306.4 1616.9,1306.4 1617.8,1306.4 1618.8,1306.4 1619.7,1306.4 1620.7,1306.4 1621.6,1306.4 1622.5,1306.4 1623.5,1306.4 1624.4,1306.4 1625.4,1306.4 1626.3,1306.4 1627.2,1306.4 1628.2,1306.4 1629.1,1306.4 1630.1,1306.4 1631,1306.4 1632,1306.4 1632.9,1306.4 1633.8,1306.4 1634.8,1306.4 1635.7,1306.4 1636.7,1306.4 1637.6,1306.4 1638.5,1306.4 1639.5,1306.4 1640.4,1306.4 1641.4,1306.4 1642.3,1306.4 1643.2,1306.4 1644.2,1306.4 1645.1,1306.4 1646.1,1306.4 1647,1306.4 1648,1306.4 1648.9,1306.4 1649.8,1306.4 1650.8,1306.4 1651.7,1306.4 1652.7,1306.4 1653.6,1306.4 1654.5,1306.4 1655.5,1306.4 1656.4,1306.4 1657.4,1306.4 1658.3,1306.4 1659.2,1306.4 1660.2,1306.4 1661.1,1306.4 1662.1,1306.4 1663,1306.4 1664,1306.4 1664.9,1306.4 1665.8,1306.4 1666.8,1306.4 1666.8,1306.4 1665.8,1306.4 1664.9,1306.4 1664,1306.4 1663,1306.4 1662.1,1306.4 1661.1,1306.4 1660.2,1306.4 1659.2,1306.4 1658.3,1306.4 1657.4,1306.4 1656.4,1306.4 1655.5,1306.4 1654.5,1306.4 1653.6,1306.4 1652.7,1306.4 1651.7,1306.4 1650.8,1306.4 1649.8,1306.4 1648.9,1306.4 1648,1306.4 1647,1306.4 1646.1,1306.4 1645.1,1306.4 1644.2,1306.4 1643.2,1306.4 1642.3,1306.4 1641.4,1306.4 1640.4,1306.4 1639.5,1306.4 1638.5,1306.4 1637.6,1306.4 1636.7,1306.4 1635.7,1306.4 1634.8,1306.4 1633.8,1306.4 1632.9,1306.4 1632,1306.4 1631,1306.4 1630.1,1306.4 1629.1,1306.4 1628.2,1306.4 1627.2,1306.4 1626.3,1306.4 1625.4,1306.4 1624.4,1306.4 1623.5,1306.4 1622.5,1306.4 1621.6,1306.4 1620.7,1306.4 1619.7,1306.4 1618.8,1306.4 1617.8,1306.4 1616.9,1306.4 1616,1306.4 1615,1306.4 1614.1,1306.4 1613.1,1306.4 1612.2,1306.4 1611.3,1306.4 1610.3,1306.4 1609.4,1306.4 1608.4,1306.4 1607.5,1306.4 1606.5,1306.4 1605.6,1306.4 1604.7,1306.4 1603.7,1306.4 1602.8,1306.4 1601.8,1306.4 1600.9,1306.4 1600,1306.4 1599,1306.4 1598.1,1306.4 1597.1,1306.4 1596.2,1306.4 1595.3,1306.4 1594.3,1306.4 1593.4,1306.4 1592.4,1306.4 1591.5,1306.4 1590.5,1306.4 1589.6,1306.4 1589.2,1306.4 1588.7,1306.8 1587.7,1307.6 1586.8,1308.4 1585.8,1309.2 1584.9,1310 1584,1310.8 1583,1312.5 1582.1,1314.2 1581.8,1314.7 1581.1,1317.2 1580.2,1320.8 1579.3,1324.4 1578.3,1328 1577.4,1331.6 1576.4,1335.2 1575.5,1338.8 1574.5,1342.4 1573.6,1346 1573.2,1347.7 1572.7,1350.2 1571.7,1354.9 1570.8,1359.6 1569.8,1364.2 1568.9,1368.9 1568,1373.6 1567,1378.3 1567,1378.3 1566.1,1381.2 1565.1,1384.2 1564.2,1387.1 1563.3,1390.1 1562.3,1393.1 1561.4,1396 1560.4,1399 1559.6,1401.4 1559.5,1401.6 1558.5,1402.7 1557.6,1403.9 1556.7,1405 1555.7,1406.2 1554.8,1407.3 1553.8,1408.4 1552.9,1408.7 1552.3,1408.8 1552,1408.9 1551,1408.9 1550.1,1409 1549.1,1409 1548.2,1409.1 1547.3,1409.1 1546.3,1409.2 1545.4,1409.2 1544.4,1409.2 1543.5,1409.3 1542.5,1409.3 1541.6,1409.4 1540.7,1409.4 1539.7,1409.5 1538.8,1409.5 1537.8,1409.6 1536.9,1409.6 1536,1409.7 1535,1409.7 1534.1,1409.8 1533.1,1409.8 1532.2,1409.9 1531.3,1409.9 1530.3,1410 1529.4,1410 1528.4,1410.1 1527.5,1410.1 1526.5,1410.2 1525.6,1410.2 1524.7,1410.3 1523.7,1410.3 1522.8,1410.4 1521.8,1410.4 1520.9,1410.5 1520,1410.5 1519,1410.5 1518.1,1410.6 1517.1,1410.6 1516.2,1410.7 1515.3,1410.7 1514.3,1410.8 1513.4,1410.8 1512.9,1410.9 1512.4,1410.9 1511.5,1411.1 1510.5,1411.2 1509.6,1411.3 1508.7,1411.4 1507.7,1411.6 1506.8,1411.7 1505.8,1411.8 1504.9,1411.9 1504,1412.1 1503,1412.2 1502.1,1412.3 1501.1,1412.4 1500.6,1412.5 1500.2,1413 1499.3,1413.9 1498.3,1414.9 1497.4,1415.9 1496.4,1416.8 1495.5,1417.8 1494.5,1418.7 1493.6,1419.7 1492.7,1420.7 1491.7,1421.6 1490.8,1422.6 1490.8,1422.6 1489.8,1425.8 1488.9,1429 1488,1432.1 1487,1435.3 1486.1,1438.4 1485.1,1441.6 1484.2,1444.7 1483.4,1447.3 1483.3,1447.8 1482.3,1450.7 1481.4,1453.5 1480.4,1456.3 1479.5,1459.2 1478.5,1462 1477.6,1464.9 1476.7,1467.7 1476.1,1469.6 1475.7,1470.3 1474.8,1472.6 1473.8,1474.8 1472.9,1477 1472,1479.2 1471,1481.4 1470.1,1483.6 1469.1,1485.8 1468.7,1486.9 1468.2,1488 1467.3,1490 1466.3,1492.1 1465.4,1494.1 1464.4,1496.2 1463.5,1498.3 1462.6,1500.3 1461.6,1502.4 1461.3,1503 1460.7,1505.4 1459.7,1509 1458.8,1512.5 1457.8,1516.1 1456.9,1519.6 1456.4,1521.6 1456,1523.1 1455,1526.4 1454.1,1529.7 1453.1,1533 1452.2,1536.3 1451.5,1538.9 1451.3,1539.1 1450.3,1540.2 1449.4,1541.4 1448.4,1542.5 1447.5,1543.6 1446.6,1544.7 1445.6,1545.8 1444.7,1546.9 1444.1,1547.6 1443.7,1547.6 1442.8,1547.6 1441.8,1547.7 1440.9,1547.7 1440,1547.7 1439,1547.7 1438.1,1547.7 1437.1,1547.8 1436.7,1547.8 1436.2,1548 1435.3,1548.4 1434.3,1548.9 1433.4,1549.3 1432.4,1549.7 1431.5,1550.1 1430.6,1550.6 1429.6,1551 1429.3,1551.1 1428.7,1551.1 1427.7,1551.2 1426.8,1551.2 1425.8,1551.3 1424.9,1551.3 1424,1551.3 1423,1551.4 1422.1,1551.4 1421.1,1551.5 1420.2,1551.5 1419.3,1551.6 1418.3,1551.6 1417.4,1551.6 1416.4,1551.7 1415.5,1551.7 1414.6,1551.8 1413.6,1551.8 1412.7,1551.8 1411.7,1551.9 1410.8,1551.9 1409.8,1552 1409.7,1552 1408.9,1552 1408,1552 1407,1552 1406.1,1552.1 1405.1,1552.1 1404.2,1552.1 1403.3,1552.1 1402.3,1552.1 1401.4,1552 1400.4,1552 1399.5,1551.9 1398.6,1551.9 1397.6,1551.9 1397.4,1551.9 1396.7,1553.4 1395.7,1555.5 1394.8,1557.6 1393.8,1559.7 1392.9,1561.7 1392,1563.8 1391,1565.9 1390.1,1568 1389.1,1570 1388.2,1572.1 1387.6,1573.5 1387.3,1574.2 1386.3,1576.4 1385.4,1578.5 1384.4,1580.7 1383.5,1582.8 1382.6,1585 1381.6,1587.1 1380.7,1589.3 1380.2,1590.4 1379.7,1592.2 1378.8,1595.9 1377.8,1599.6 1376.9,1603.4 1376,1607.1 1375.3,1609.9 1375,1610.4 1374.1,1612.6 1373.1,1614.7 1372.2,1616.9 1371.6,1618.3 1371.3,1618.7 1370.3,1619.8 1369.4,1620.9 1368.4,1622 1367.5,1623 1366.6,1624.1 1365.6,1625.2 1365.4,1625.4 1364.7,1625.7 1363.7,1626.1 1362.8,1626.5 1361.8,1626.8 1360.9,1627.2 1360,1627.6 1359,1627.9 1358.1,1628.3 1358,1628.3 1357.1,1628.3 1356.2,1628.2 1355.3,1628.2 1354.3,1628.2 1353.4,1628.1 1352.4,1628.1 1351.5,1628 1350.6,1628 1349.6,1627.9 1348.7,1627.9 1347.7,1627.9 1346.8,1627.8 1345.8,1627.8 1344.9,1627.7 1344,1627.7 1343,1627.7 1342.1,1627.6 1341.1,1627.6 1340.2,1627.5 1339.3,1627.5 1338.3,1627.5 1337.4,1627.4 1336.4,1627.4 1335.5,1627.3 1334.6,1627.3 1333.6,1627.2 1332.7,1627.2 1331.7,1627.2 1330.8,1627.1 1329.9,1627.1 1328.9,1627 1328,1627 1327,1627 1326.1,1626.9 1325.1,1626.9 1324.2,1626.8 1323.3,1626.8 1322.3,1626.8 1321.4,1626.7 1321.2,1626.7 1320.4,1626.7 1319.5,1626.6 1318.6,1626.6 1317.6,1626.5 1316.7,1626.5 1315.7,1626.5 1314.8,1626.4 1313.9,1626.4 1312.9,1626.3 1312,1626.3 1311,1626.3 1310.1,1626.2 1309.1,1626.2 1308.2,1626.1 1307.3,1626.1 1306.3,1626.1 1305.4,1626 1304.4,1626 1303.5,1625.9 1302.6,1625.9 1301.6,1625.8 1300.7,1625.8 1299.7,1625.8 1298.8,1625.7 1297.9,1625.7 1297.8,1625.7 1296.9,1634.8 1296,1644.3 1295,1653.8 1294.1,1663.2 1293.6,1664.4 1293.1,1665.7 1292.2,1668.2 1291.3,1670.7 1290.3,1673.2"/>
<path d="M1290.3 1673.2H1296.6V1599.8H1434.6V1526.5H1466V1453.1H1488V1379.8H1575.8V1306.4H1666.8" fill="none" stroke="#4c72b0" stroke-width="1.5" stroke-opacity="0.42"/>
<path d="M1290.3 1673.2H1293.5V1636.5H1296.6V1599.8H1371.9V1563.1H1387.6V1526.5H1453.5V1489.8H1456.6V1453.1H1478.5V1416.5H1497.4V1379.8H1569.5V1343.1H1585.2V1306.4H1666.8" fill="none" stroke="#dd8452" stroke-width="1.5" stroke-opacity="0.42"/>
<path d="M1290.3 1673.2H1293.5V1599.8H1296.6V1526.5H1397V1453.1H1462.9V1379.8H1497.4V1306.4H1666.8" fill="none" stroke="#55a868" stroke-width="1.5" stroke-opacity="0.42"/>
<path d="M1290.3 1673.2H1296.6V1599.8H1378.2V1526.5H1400.1V1453.1H1488V1379.8H1569.5V1306.4H1666.8" fill="none" stroke="#c44e52" stroke-width="1.5" stroke-opacity="0.42"/>
<path d="M1290.3 1673.2H1296.6V1599.8H1387.6V1526.5H1466V1453.1H1488V1379.8H1575.8V1306.4H1666.8" fill="none" stroke="#8172b3" stroke-width="1.5" stroke-opacity="0.42"/>
<path d="M1290.3 1673.2V1599.8H1293.5V1526.5H1381.3V1453.1H1475.4V1379.8H1560.1V1306.4H1666.8" fill="none" stroke="#937860" stroke-width="1.5" stroke-opacity="0.42"/>
<path d="M1290.3 1673.2H1296.6V1599.8H1368.8V1526.5H1393.8V1453.1H1484.8V1379.8H1572.7V1306.4H1666.8" fill="none" stroke="#da8bc3" stroke-width="1.5" stroke-opacity="0.42"/>
<path d="M1290.3 1673.2H1293.5V1599.8H1384.4V1526.5H1466V1453.1H1478.5V1379.8H1572.7V1306.4H1666.8" fill="none" stroke="#8c8c8c" stroke-width="1.5" stroke-opacity="0.42"/>
<path d="M1290.3 1673.2H1293.5V1581.5H1384.4V1489.8H1472.3V1398.1H1572.7V1306.4H1666.8" fill="none" stroke="#ccb974" stroke-width="1.5" stroke-opacity="0.42"/>
<path d="M1290.3 1673.2H1293.5V1599.8H1375V1526.5H1456.6V1453.1H1459.7V1379.8H1569.5V1306.4H1666.8" fill="none" stroke="#64b5cd" stroke-width="1.5" stroke-opacity="0.42"/>
<path d="M1290.3 1673.2H1293.5V1636.5H1296.6V1599.8H1375V1563.1H1393.8V1526.5H1453.5V1489.8H1459.7V1453.1H1488V1416.5H1560.1V1379.8H1572.7V1343.1H1585.2V1306.4H1666.8" fill="none" stroke="#4c72b0" stroke-width="1.5" stroke-opacity="0.42"/>
<path d="M1290.3 1673.2V1636.5H1293.5V1599.8H1378.2V1563.1H1387.6V1526.5H1444V1489.8H1456.6V1453.1H1481.7V1416.5H1484.8V1379.8H1563.3V1343.1H1575.8V1306.4H1666.8" fill="none" stroke="#dd8452" stroke-width="1.5" stroke-opacity="0.42"/>
<path d="M1290.3 1673.2V1599.8H1375V1526.5H1440.9V1453.1H1484.8V1379.8H1563.3V1306.4H1666.8" fill="none" stroke="#55a868" stroke-width="1.5" stroke-opacity="0.42"/>
<path d="M1290.3 1673.2H1293.5V1599.8H1299.7V1526.5H1393.8V1453.1H1469.1V1379.8H1494.2V1306.4H1666.8" fill="none" stroke="#c44e52" stroke-width="1.5" stroke-opacity="0.42"/>
<path d="M1290.3 1673.2V1599.8H1359.3V1526.5H1393.8V1453.1H1478.5V1379.8H1569.5V1306.4H1666.8" fill="none" stroke="#8172b3" stroke-width="1.5" stroke-opacity="0.42"/>
<path d="M1290.3 1673.2H1296.6V1581.5H1384.4V1489.8H1469.1V1398.1H1569.5V1306.4H1666.8" fill="none" stroke="#937860" stroke-width="1.5" stroke-opacity="0.42"/>
<path d="M1290.3 1673.2H1293.5V1636.5H1371.9V1599.8H1378.2V1563.1H1447.2V1526.5H1466V1489.8H1475.4V1453.1H1484.8V1416.5H1563.3V1379.8H1569.5V1343.1H1588.3V1306.4H1666.8" fill="none" stroke="#da8bc3" stroke-width="1.5" stroke-opacity="0.42"/>
<path d="M1290.3 1673.2V1636.5H1375V1599.8H1384.4V1563.1H1387.6V1526.5H1453.5V1489.8H1462.9V1453.1H1478.5V1416.5H1494.2V1379.8H1566.4V1343.1H1578.9V1306.4H1666.8" fill="none" stroke="#8c8c8c" stroke-width="1.5" stroke-opacity="0.42"/>
<path d="M1290.3 1673.2V1599.8H1371.9V1526.5H1447.2V1453.1H1478.5V1379.8H1566.4V1306.4H1666.8" fill="none" stroke="#ccb974" stroke-width="1.5" stroke-opacity="0.42"/>
<path d="M1290.3 1673.2H1293.5V1599.8H1387.6V1526.5H1459.7V1453.1H1488V1379.8H1572.7V1306.4H1666.8" fill="none" stroke="#64b5cd" stroke-width="1.5" stroke-opacity="0.42"/>
<path d="M1290.3 1673.2V1636.5H1293.5V1599.8H1368.8V1563.1H1390.7V1526.5H1453.5V1489.8H1462.9V1453.1H1478.5V1416.5H1484.8V1379.8H1569.5V1343.1H1575.8V1306.4H1666.8" fill="none" stroke="#4c72b0" stroke-width="1.5" stroke-opacity="0.42"/>
<path d="M1290.3 1673.2H1293.5V1599.8H1381.3V1526.5H1453.5V1453.1H1481.7V1379.8H1569.5V1306.4H1666.8" fill="none" stroke="#dd8452" stroke-width="1.5" stroke-opacity="0.42"/>
<path d="M1290.3 1673.2V1599.8H1296.6V1526.5H1450.3V1453.1H1472.3V1379.8H1560.1V1306.4H1666.8" fill="none" stroke="#55a868" stroke-width="1.5" stroke-opacity="0.42"/>
<path d="M1290.3 1673.2V1599.8H1371.9V1526.5H1453.5V1453.1H1469.1V1379.8H1569.5V1306.4H1666.8" fill="none" stroke="#c44e52" stroke-width="1.5" stroke-opacity="0.42"/>
<path d="M1290.3 1673.2H1299.7V1599.8H1393.8V1526.5H1466V1453.1H1488V1379.8H1575.8V1306.4H1666.8" fill="none" stroke="#8172b3" stroke-width="1.5" stroke-opacity="0.42"/>
<path d="M1290.3 1673.2H1293.5V1636.5H1296.6V1599.8H1378.2V1563.1V1526.5H1400.1V1489.8H1447.2V1453.1H1472.3V1416.5H1484.8V1379.8H1497.4V1343.1H1582.1V1306.4H1666.8" fill="none" stroke="#937860" stroke-width="1.5" stroke-opacity="0.42"/>
<path d="M1290.3 1673.2V1599.8H1371.9V1526.5H1393.8V1453.1H1472.3V1379.8H1569.5V1306.4H1666.8" fill="none" stroke="#da8bc3" stroke-width="1.5" stroke-opacity="0.42"/>
<path d="M1290.3 1673.2H1296.6V1599.8H1387.6V1526.5H1462.9V1453.1H1503.6V1379.8H1578.9V1306.4H1666.8" fill="none" stroke="#8c8c8c" stroke-width="1.5" stroke-opacity="0.42"/>
<path d="M1290.3 1673.2V1599.8H1296.6V1526.5H1387.6V1453.1H1459.7V1379.8H1560.1V1306.4H1666.8" fill="none" stroke="#ccb974" stroke-width="1.5" stroke-opacity="0.42"/>
<path d="M1290.3 1673.2H1296.6V1581.5H1397V1489.8H1481.7V1398.1H1575.8V1306.4H1666.8" fill="none" stroke="#64b5cd" stroke-width="1.5" stroke-opacity="0.42"/>
<path d="M1290.3 1673.2H1299.7V1581.5H1456.6V1489.8H1484.8V1398.1H1582.1V1306.4H1666.8" fill="none" stroke="#4c72b0" stroke-width="1.5" stroke-opacity="0.42"/>
<path d="M1290.3 1673.2H1293.5V1581.5H1381.3V1489.8H1456.6V1398.1H1569.5V1306.4H1666.8" fill="none" stroke="#dd8452" stroke-width="1.5" stroke-opacity="0.42"/>
<path d="M1290.3 1673.2H1293.5V1636.5H1378.2V1599.8H1390.7V1563.1H1453.5V1526.5H1472.3V1489.8V1453.1H1500.5V1416.5H1563.3V1379.8H1585.2V1343.1V1306.4H1666.8" fill="none" stroke="#55a868" stroke-width="1.5" stroke-opacity="0.42"/>
<path d="M1290.3 1673.2H1299.7V1599.8H1393.8V1526.5H1475.4V1453.1H1513.1V1379.8H1578.9V1306.4H1666.8" fill="none" stroke="#c44e52" stroke-width="1.5" stroke-opacity="0.42"/>
<line x1="1290.3" y1="1673.2" x2="1666.8" y2="1306.4" stroke="#8e8e8e" stroke-width="2.9" stroke-dasharray="9.3 4"/>
<path d="M1290.3 1673.2 1290.7 1669.1 1293.2 1643.6 1294.1 1634.5 1297.3 1602.4 1300.6 1597.3 1318.4 1597.3 1325.6 1597.3 1353.6 1597.3 1358.9 1596.9 1364.5 1594.5 1366.2 1593.2 1370.8 1587.6 1372 1585.7 1374.8 1579.1 1375.8 1575.7 1379.6 1560.8 1381.1 1556.4 1386.7 1543.3 1388.7 1538.6 1396.2 1521.8 1398.9 1519.1 1408.2 1519.1 1412 1519 1427 1518.7 1430.2 1518.2 1435.8 1515.8 1437.6 1515.4 1443.2 1515.4 1445 1514.4 1450.6 1507.8 1452.1 1504.7 1455.8 1491.7 1457 1487.4 1460.7 1473.4 1462.2 1469.2 1467.8 1457.1 1469.6 1453.1 1475.2 1440 1476.9 1435.3 1482.5 1418.5 1484.3 1412.9 1489.9 1394.2 1492 1390.1 1499.5 1382.6 1502.1 1381.3 1511.5 1380.3 1517.7 1380.1 1547.6 1379.5 1553.2 1379.3 1558.8 1377.9 1560.5 1375.8 1566.1 1363.7 1567.8 1358.8 1572.4 1340.1 1574.2 1334.2 1580.7 1315.5 1582.7 1311.8 1588.3 1307.2 1598.5 1306.4 1657.5 1306.4 1666.8 1306.4" fill="none" stroke="#5863ad" stroke-width="5.2" stroke-linejoin="round" stroke-linecap="butt"/>
</g>
<text x="1358.7" y="1668.9" font-size="43.7" font-weight="bold" style="fill:#6267b2">0.62 (0.52, 0.71)</text>
<rect x="1271.5" y="1288.1" width="414.1" height="403.4" fill="none" stroke="#231f20" stroke-width="2.0"/>
<path d="M1290.3 1691.5V1700M1384.4 1691.5V1700M1478.5 1691.5V1700M1572.7 1691.5V1700M1666.8 1691.5V1700M1271.5 1673.2H1263M1271.5 1599.8H1263M1271.5 1526.5H1263M1271.5 1453.1H1263M1271.5 1379.8H1263M1271.5 1306.4H1263" stroke="#231f20" stroke-width="1.9" fill="none"/>
<text x="1294.5" y="1731.3" font-size="31.4" text-anchor="middle">0.0</text>
<text x="1382.9" y="1731.3" font-size="31.4" text-anchor="middle">0.25</text>
<text x="1477.5" y="1731.3" font-size="31.4" text-anchor="middle">0.50</text>
<text x="1569.7" y="1731.3" font-size="31.4" text-anchor="middle">0.75</text>
<text x="1663.8" y="1731.3" font-size="31.4" text-anchor="middle">1.0</text>
<text x="1255.5" y="1676.7" font-size="31.4" text-anchor="end">0.0</text>
<text x="1255.5" y="1604.4" font-size="31.4" text-anchor="end">0.2</text>
<text x="1255.5" y="1532.2" font-size="31.4" text-anchor="end">0.4</text>
<text x="1255.5" y="1459.9" font-size="31.4" text-anchor="end">0.6</text>
<text x="1255.5" y="1387.7" font-size="31.4" text-anchor="end">0.8</text>
<text x="1255.5" y="1315.4" font-size="31.4" text-anchor="end">1.0</text>
<text x="1485.3" y="1772.9" font-size="37.5" text-anchor="middle">false positive rate</text>
<text transform="translate(1196.6 1490.3) rotate(-90)" font-size="37.7" text-anchor="middle">true positive rate</text>
</svg></body></html>
